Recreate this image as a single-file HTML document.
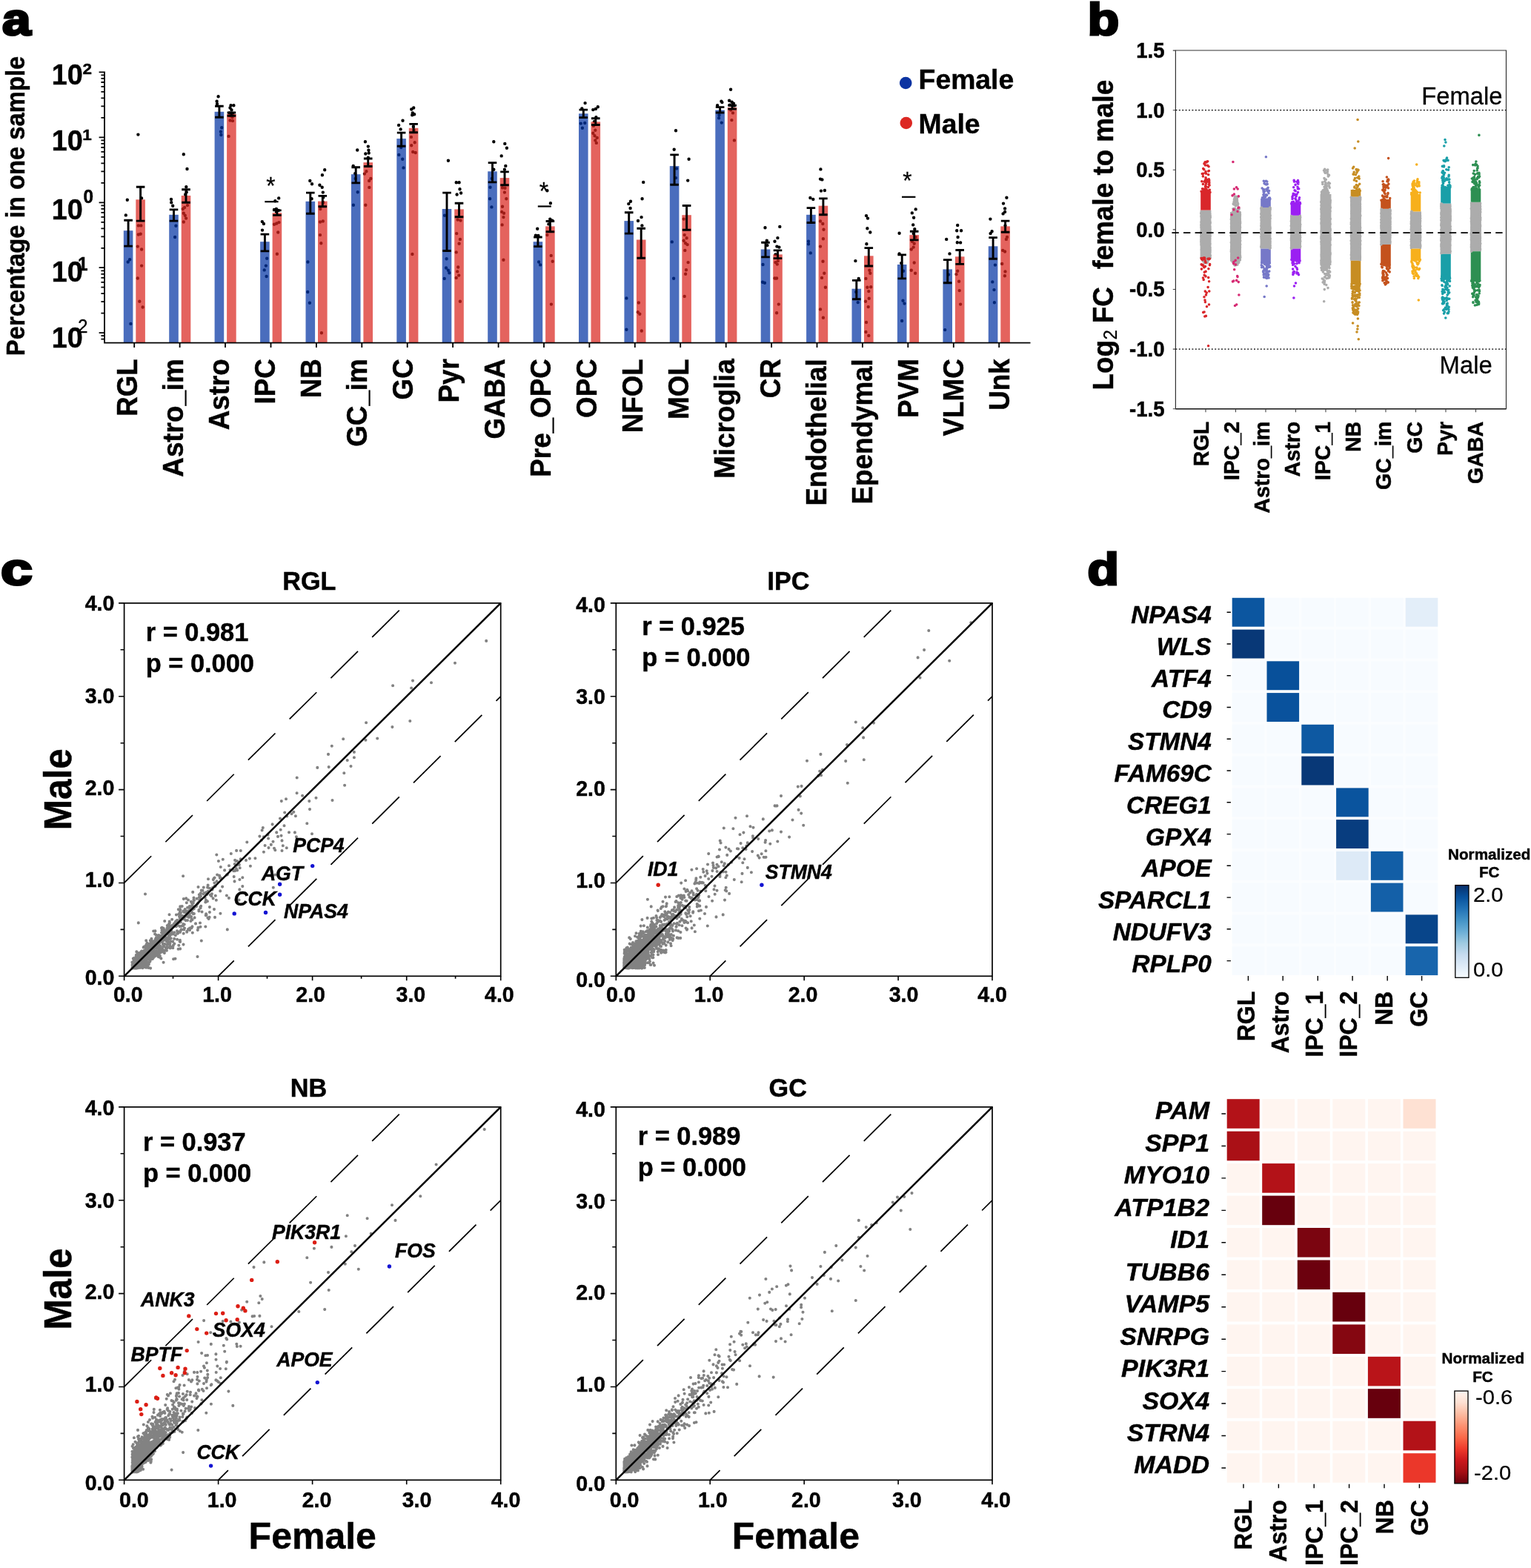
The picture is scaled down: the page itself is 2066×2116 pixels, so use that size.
<!DOCTYPE html>
<html lang="en"><head><meta charset="utf-8"><title>Figure</title>
<style>
html,body{margin:0;padding:0;background:#fff}
body{width:2066px;height:2116px;overflow:hidden}
svg{display:block}
svg text{font-family:"Liberation Sans",Arial,Helvetica,sans-serif;font-weight:bold;fill:#000;stroke:#000;stroke-width:.45px}
</style></head><body>
<svg width="2066" height="2116" viewBox="0 0 2066 2116">
<rect width="2066" height="2116" fill="#fff"/>
<g id="pa">
<path d="M171.8 269.7h0M169.8 290.4h0M175.1 350.2h0M172.7 353.5h0M176.4 436.9h0M186.4 181.6h0M191.1 267.4h0M186.8 304.4h0M190.3 304.4h0M186.8 316.5h0M189.7 315.7h0M185.8 332.6h0M191.1 336.5h0M191.1 358.6h0M185.8 375.5h0M188.3 406.7h0M192.6 414.5h0M231 268.9h0M231.2 273.2h0M233.2 277.7h0M237.4 304.8h0M236.1 320h0M247.8 208.3h0M252.5 228h0M251.3 252.2h0M251.7 259.2h0M250.1 262.5h0M253 277.1h0M249.1 280h0M246.8 282h0M247.8 287.8h0M249.7 290.7h0M251.1 294.6h0M247.8 299.5h0M294.6 130.3h0M292.6 136.8h0M293 140.3h0M299.2 172.2h0M297.9 177.7h0M298.3 182h0M311.5 142.2h0M315.4 142.2h0M310.5 145.5h0M312.5 148.5h0M309.6 152.4h0M314 153.3h0M310.5 156.3h0M313.5 158.2h0M310.5 162.5h0M314 163.1h0M308.6 183.9h0M353.8 299.1h0M355.9 302h0M354 310.6h0M360.2 348.8h0M358.9 358.6h0M356.7 364.4h0M359.6 373h0M376.2 267.4h0M371.3 271.3h0M370 282.9h0M372.9 282h0M375.8 283.9h0M372.9 285.9h0M370 302.8h0M373.3 301.5h0M376.4 300.1h0M375.2 313.5h0M373.9 342.8h0M418.3 244h0M421 248.3h0M420.6 268.3h0M415.4 353.5h0M415.2 394h0M417.9 408.7h0M438.2 229.3h0M434.9 236.2h0M431.4 249.8h0M434.7 252.7h0M435.8 259.6h0M436.2 266.4h0M432.3 282h0M436.2 273.2h0M432 299.5h0M435.8 298.5h0M432 317.1h0M433.3 328.2h0M433.9 449.2h0M482.2 202.5h0M476.7 223.9h0M479.2 234.2h0M479.6 241h0M482.7 259.2h0M476.9 276.7h0M492.9 191.3h0M496.8 197.6h0M497.4 202.6h0M493.3 207.5h0M497.7 206.5h0M496.8 212.8h0M494.4 231.3h0M491.9 234.6h0M500.3 241h0M498.1 244h0M498.3 252.9h0M493.3 276.7h0M543.5 162.7h0M538.1 168.9h0M540.6 174.4h0M541.2 199.1h0M538.3 208.9h0M543.2 214.7h0M544.5 226.4h0M558.2 145.5h0M555.2 147.5h0M556.8 152.4h0M559.1 154.3h0M556.2 155.3h0M557.8 170.9h0M558.6 175.8h0M554.9 184.9h0M559.7 192.3h0M555.2 196.2h0M557.2 205h0M560.7 206h0M556.4 343h0M604.9 216.7h0M600.1 290.7h0M602.6 349.2h0M602 361.5h0M604.9 364.8h0M606.3 368.3h0M599.7 375.9h0M615.7 246.3h0M619.6 246.3h0M620.5 255.3h0M616.6 262.5h0M622.1 260.5h0M617.6 296.6h0M621.5 297.6h0M616.2 315.1h0M620.9 322.9h0M619.6 328.7h0M615.7 340.4h0M618.2 360.5h0M617.2 366.4h0M619.2 371.6h0M615.7 374.9h0M620.9 406.7h0M666.3 191.3h0M666.3 228.8h0M663.8 241h0M661.5 252.7h0M661.1 268.3h0M663.4 279.4h0M681.3 193.9h0M683.9 199.7h0M676.7 210.4h0M682.3 223.9h0M680.9 228.8h0M678 253.3h0M681.5 253.7h0M680.9 259.6h0M683.3 268.3h0M678 278.7h0M677.1 285.9h0M680 287.8h0M679.4 293.1h0M677.6 303.4h0M679.4 350.8h0M725.2 308.7h0M722.9 317.6h0M726.4 318h0M727.1 353.5h0M729.1 357.4h0M742.9 274.2h0M738.4 257.2h0M742.3 295.6h0M745.3 297.6h0M740.4 302.4h0M738.4 317.1h0M743.7 344.9h0M745.7 352.7h0M743.9 410.6h0M789.6 139.1h0M785.3 146.5h0M783.8 166.6h0M789.2 166h0M785.9 172.8h0M806.8 144.2h0M803.9 146.9h0M800.3 148.1h0M804.4 158.2h0M801.9 164.1h0M800.9 169.9h0M803.3 175.8h0M800.3 179.7h0M802.5 183.2h0M805.8 185.9h0M803.3 189.4h0M804.8 192.9h0M851 271.8h0M848.3 275.1h0M850.6 281h0M845.4 402.4h0M845.4 444.7h0M868.2 245.9h0M866.6 268.3h0M865.6 293.1h0M861 298h0M866.4 304.4h0M861.9 408.5h0M860.8 421.3h0M863.3 423.7h0M865.8 446.5h0M912 176.3h0M909.7 201.7h0M913 227.4h0M912 240.1h0M906.8 326.4h0M909.1 375.7h0M929.6 214.7h0M928.2 243.6h0M922.7 295.6h0M923.7 317.1h0M926.6 321.3h0M922.7 324.8h0M925.1 328.2h0M927.6 330.1h0M924.3 337.9h0M928.6 354.1h0M926 364.2h0M925.1 369.7h0M923.7 399.9h0M973.4 136.8h0M968.1 142.2h0M974.4 138.1h0M970.5 155.3h0M970.1 159.2h0M973.8 165.6h0M986.1 120.8h0M984.1 135.8h0M987.6 137.7h0M990 139.7h0M984.7 141.6h0M988 142.2h0M990.9 142.6h0M986.1 148.5h0M989 152.4h0M987.4 162.1h0M990.9 189.4h0M1032.5 307.3h0M1034.8 324.8h0M1035.4 331.1h0M1029.5 357h0M1029 380.8h0M1031.9 381.8h0M1052.3 305.9h0M1049.4 321.1h0M1045.5 325.8h0M1048.4 332.6h0M1051.4 333.6h0M1046.5 343.4h0M1049.8 352.1h0M1046.5 354.1h0M1048.8 356.6h0M1045.5 375.5h0M1048.1 375.5h0M1050.8 410.6h0M1048.1 422.3h0M1093.4 267h0M1097.3 268.9h0M1091 325.8h0M1091 329.3h0M1093.8 341.4h0M1107.4 228.4h0M1107 241.6h0M1109.4 242.4h0M1108 257.6h0M1112.9 257h0M1107 298.5h0M1110.3 302h0M1111.5 309.8h0M1110.9 322.3h0M1107 332.6h0M1110.5 352.7h0M1112.3 368.7h0M1109 374.9h0M1113.9 387.8h0M1107 417.4h0M1110.9 428.7h0M1154.4 352.1h0M1158.7 375.9h0M1155.2 394h0M1157.7 408.1h0M1169 291.1h0M1171 294.6h0M1170.4 308.3h0M1174.3 313.5h0M1169.4 329.3h0M1173.3 364.8h0M1174.3 368.7h0M1168.4 375.9h0M1170.4 387.8h0M1175.2 387.2h0M1172.3 393.1h0M1172.7 402.8h0M1168 406.7h0M1171.7 414.1h0M1169 435h0M1168.4 448h0M1172.3 452.9h0M1213.6 314.7h0M1213.6 342.4h0M1216.2 355.1h0M1219.1 365.8h0M1218.5 405.7h0M1220.5 409.6h0M1217.1 433h0M1235.7 282.4h0M1230.8 287.4h0M1233.1 293.7h0M1232.2 303.4h0M1234.3 309.3h0M1232.7 315.1h0M1235.7 320h0M1230.8 325.8h0M1233.7 328.7h0M1229.8 336.5h0M1232.7 333.6h0M1233.7 354.5h0M1229.8 364.8h0M1235.1 368.7h0M1277.2 322.9h0M1281.5 342.4h0M1280.1 370.6h0M1275.2 445.1h0M1292.2 304h0M1291.2 311.2h0M1297.1 311.2h0M1292.6 320h0M1291.8 327.2h0M1296.1 327.4h0M1292.2 365.8h0M1290.6 370.1h0M1294.1 379.8h0M1294.7 392.1h0M1296.1 410.6h0M1336.4 295.6h0M1338.6 312.2h0M1336.6 315.1h0M1342.9 357.6h0M1339.3 380.4h0M1341.5 391.1h0M1341.9 408.3h0M1358.4 266.8h0M1354 274.6h0M1356.1 281.4h0M1356.1 285.9h0M1353.6 288.4h0M1356.5 304.4h0M1359 320h0M1357.9 322.9h0M1353.2 337.9h0M1356.1 339.5h0M1352.2 356h0M1356.5 366.4h0M1355.9 372.2h0" stroke="#000" stroke-width="4.4" stroke-linecap="round" fill="none" />
<g opacity="0.72"><rect x="166.8" y="311.2" width="12.6" height="151.5" fill="rgb(5,54,165)"/><rect x="183.3" y="269.3" width="12.6" height="193.4" fill="rgb(219,40,33)"/><rect x="228.2" y="289.8" width="12.6" height="172.9" fill="rgb(5,54,165)"/><rect x="244.7" y="264" width="12.6" height="198.7" fill="rgb(219,40,33)"/><rect x="289.6" y="150.8" width="12.6" height="311.9" fill="rgb(5,54,165)"/><rect x="306.1" y="153.9" width="12.6" height="308.8" fill="rgb(219,40,33)"/><rect x="351.1" y="326.2" width="12.6" height="136.5" fill="rgb(5,54,165)"/><rect x="367.6" y="287.2" width="12.6" height="175.5" fill="rgb(219,40,33)"/><rect x="412.5" y="271.8" width="12.6" height="190.9" fill="rgb(5,54,165)"/><rect x="429" y="271.6" width="12.6" height="191.1" fill="rgb(219,40,33)"/><rect x="473.9" y="235.2" width="12.6" height="227.5" fill="rgb(5,54,165)"/><rect x="490.4" y="219.2" width="12.6" height="243.5" fill="rgb(219,40,33)"/><rect x="535.3" y="187.1" width="12.6" height="275.6" fill="rgb(5,54,165)"/><rect x="551.8" y="172.8" width="12.6" height="289.9" fill="rgb(219,40,33)"/><rect x="596.7" y="282" width="12.6" height="180.7" fill="rgb(5,54,165)"/><rect x="613.2" y="282.4" width="12.6" height="180.3" fill="rgb(219,40,33)"/><rect x="658.2" y="231.3" width="12.6" height="231.4" fill="rgb(5,54,165)"/><rect x="674.7" y="240.1" width="12.6" height="222.6" fill="rgb(219,40,33)"/><rect x="719.6" y="326.2" width="12.6" height="136.5" fill="rgb(5,54,165)"/><rect x="736.1" y="305.4" width="12.6" height="157.3" fill="rgb(219,40,33)"/><rect x="781" y="153.3" width="12.6" height="309.4" fill="rgb(5,54,165)"/><rect x="797.5" y="164.4" width="12.6" height="298.3" fill="rgb(219,40,33)"/><rect x="842.4" y="298.1" width="12.6" height="164.6" fill="rgb(5,54,165)"/><rect x="858.9" y="323.5" width="12.6" height="139.2" fill="rgb(219,40,33)"/><rect x="903.8" y="224.1" width="12.6" height="238.6" fill="rgb(5,54,165)"/><rect x="920.3" y="290.2" width="12.6" height="172.5" fill="rgb(219,40,33)"/><rect x="965.3" y="148.5" width="12.6" height="314.2" fill="rgb(5,54,165)"/><rect x="981.8" y="145" width="12.6" height="317.7" fill="rgb(219,40,33)"/><rect x="1026.7" y="336.5" width="12.6" height="126.2" fill="rgb(5,54,165)"/><rect x="1043.2" y="343.4" width="12.6" height="119.3" fill="rgb(219,40,33)"/><rect x="1088.1" y="289.8" width="12.6" height="172.9" fill="rgb(5,54,165)"/><rect x="1104.6" y="277.7" width="12.6" height="185" fill="rgb(219,40,33)"/><rect x="1149.5" y="389.7" width="12.6" height="73" fill="rgb(5,54,165)"/><rect x="1166" y="345.3" width="12.6" height="117.4" fill="rgb(219,40,33)"/><rect x="1210.9" y="357" width="12.6" height="105.7" fill="rgb(5,54,165)"/><rect x="1227.4" y="317.1" width="12.6" height="145.6" fill="rgb(219,40,33)"/><rect x="1272.4" y="363.4" width="12.6" height="99.3" fill="rgb(5,54,165)"/><rect x="1288.9" y="346.3" width="12.6" height="116.4" fill="rgb(219,40,33)"/><rect x="1333.8" y="332.3" width="12.6" height="130.4" fill="rgb(5,54,165)"/><rect x="1350.3" y="305.4" width="12.6" height="157.3" fill="rgb(219,40,33)"/></g>
<path d="M173.1 297.2V332.1M167.3 297.2h11.6M167.3 332.1h11.6M189.6 252.2V298.1M183.8 252.2h11.6M183.8 298.1h11.6M234.5 282.9V298.1M228.7 282.9h11.6M228.7 298.1h11.6M251 255.7V273.2M245.2 255.7h11.6M245.2 273.2h11.6M295.9 143.2V158.2M290.1 143.2h11.6M290.1 158.2h11.6M312.4 152V156.3M306.6 152h11.6M306.6 156.3h11.6M357.4 316.1V338.9M351.6 316.1h11.6M351.6 338.9h11.6M373.9 283.9V290.4M368.1 283.9h11.6M368.1 290.4h11.6M418.8 260.1V288.2M413 260.1h11.6M413 288.2h11.6M435.3 264.4V278.7M429.5 264.4h11.6M429.5 278.7h11.6M480.2 225.8V246.9M474.4 225.8h11.6M474.4 246.9h11.6M496.7 214V224.5M490.9 214h11.6M490.9 224.5h11.6M541.6 179.1V197.2M535.8 179.1h11.6M535.8 197.2h11.6M558.1 167.4V178.7M552.3 167.4h11.6M552.3 178.7h11.6M603 260.1V338.5M597.2 260.1h11.6M597.2 338.5h11.6M619.5 274.2V292.7M613.7 274.2h11.6M613.7 292.7h11.6M664.5 219.6V245.9M658.7 219.6h11.6M658.7 245.9h11.6M681 231.9V249.8M675.2 231.9h11.6M675.2 249.8h11.6M725.9 320V332.6M720.1 320h11.6M720.1 332.6h11.6M742.4 298.5V312.8M736.6 298.5h11.6M736.6 312.8h11.6M787.3 148.1V158.6M781.5 148.1h11.6M781.5 158.6h11.6M803.8 159.8V168.5M798 159.8h11.6M798 168.5h11.6M848.7 286.8V315.1M842.9 286.8h11.6M842.9 315.1h11.6M865.2 308.3V348.2M859.4 308.3h11.6M859.4 348.2h11.6M910.1 208.9V249.2M904.3 208.9h11.6M904.3 249.2h11.6M926.6 277.5V310.2M920.8 277.5h11.6M920.8 310.2h11.6M971.6 144.6V152M965.8 144.6h11.6M965.8 152h11.6M988.1 142.2V147.1M982.3 142.2h11.6M982.3 147.1h11.6M1033 327.2V346.9M1027.2 327.2h11.6M1027.2 346.9h11.6M1049.5 337.9V348.6M1043.7 337.9h11.6M1043.7 348.6h11.6M1094.4 280.6V300.5M1088.6 280.6h11.6M1088.6 300.5h11.6M1110.9 267.9V289.8M1105.1 267.9h11.6M1105.1 289.8h11.6M1155.8 378.4V403.8M1150 378.4h11.6M1150 403.8h11.6M1172.3 334.6V359M1166.5 334.6h11.6M1166.5 359h11.6M1217.2 343.9V375.9M1211.4 343.9h11.6M1211.4 375.9h11.6M1233.7 312.2V323.9M1227.9 312.2h11.6M1227.9 323.9h11.6M1278.7 350.6V381.8M1272.9 350.6h11.6M1272.9 381.8h11.6M1295.2 337.5V356.4M1289.4 337.5h11.6M1289.4 356.4h11.6M1340.1 320.6V349.2M1334.3 320.6h11.6M1334.3 349.2h11.6M1356.6 298.1V313.2M1350.8 298.1h11.6M1350.8 313.2h11.6" stroke="#000" stroke-width="2.9" fill="none"/>
<path d="M141 96.4V462.7H1390.5M141 97.4h-7.4M141 158.9h-4.6M141 143.4h-4.6M141 132.4h-4.6M141 123.9h-4.6M141 116.9h-4.6M141 111h-4.6M141 105.9h-4.6M141 101.4h-4.6M141 185.4h-7.4M141 246.8h-4.6M141 231.3h-4.6M141 220.3h-4.6M141 211.8h-4.6M141 204.9h-4.6M141 199h-4.6M141 193.9h-4.6M141 189.4h-4.6M141 273.3h-7.4M141 334.8h-4.6M141 319.3h-4.6M141 308.3h-4.6M141 299.8h-4.6M141 292.8h-4.6M141 286.9h-4.6M141 281.8h-4.6M141 277.3h-4.6M141 361.2h-7.4M141 422.7h-4.6M141 407.2h-4.6M141 396.2h-4.6M141 387.7h-4.6M141 380.8h-4.6M141 374.9h-4.6M141 369.8h-4.6M141 365.3h-4.6M141 449.2h-7.4M141 457.7h-4.6M141 453.2h-4.6M181.2 462.7v6.2M242.6 462.7v6.2M304 462.7v6.2M365.5 462.7v6.2M426.9 462.7v6.2M488.3 462.7v6.2M549.7 462.7v6.2M611.1 462.7v6.2M672.6 462.7v6.2M734 462.7v6.2M795.4 462.7v6.2M856.8 462.7v6.2M918.2 462.7v6.2M979.7 462.7v6.2M1041.1 462.7v6.2M1102.5 462.7v6.2M1163.9 462.7v6.2M1225.3 462.7v6.2M1286.8 462.7v6.2M1348.2 462.7v6.2" stroke="#000" stroke-width="1.8" fill="none"/>
<text transform="translate(185.3,484.2) rotate(-90) scale(1,1.04)" font-size="36.8" text-anchor="end">RGL</text>
<text transform="translate(247.2,484.2) rotate(-90) scale(1,1.04)" font-size="36.8" text-anchor="end">Astro_im</text>
<text transform="translate(309.2,484.2) rotate(-90) scale(1,1.04)" font-size="36.8" text-anchor="end">Astro</text>
<text transform="translate(371.2,484.2) rotate(-90) scale(1,1.04)" font-size="36.8" text-anchor="end">IPC</text>
<text transform="translate(433.1,484.2) rotate(-90) scale(1,1.04)" font-size="36.8" text-anchor="end">NB</text>
<text transform="translate(495.1,484.2) rotate(-90) scale(1,1.04)" font-size="36.8" text-anchor="end">GC_im</text>
<text transform="translate(557,484.2) rotate(-90) scale(1,1.04)" font-size="36.8" text-anchor="end">GC</text>
<text transform="translate(619,484.2) rotate(-90) scale(1,1.04)" font-size="36.8" text-anchor="end">Pyr</text>
<text transform="translate(680.9,484.2) rotate(-90) scale(1,1.04)" font-size="36.8" text-anchor="end">GABA</text>
<text transform="translate(742.9,484.2) rotate(-90) scale(1,1.04)" font-size="36.8" text-anchor="end">Pre_OPC</text>
<text transform="translate(804.8,484.2) rotate(-90) scale(1,1.04)" font-size="36.8" text-anchor="end">OPC</text>
<text transform="translate(866.8,484.2) rotate(-90) scale(1,1.04)" font-size="36.8" text-anchor="end">NFOL</text>
<text transform="translate(928.7,484.2) rotate(-90) scale(1,1.04)" font-size="36.8" text-anchor="end">MOL</text>
<text transform="translate(990.7,484.2) rotate(-90) scale(1,1.04)" font-size="36.8" text-anchor="end">Microglia</text>
<text transform="translate(1052.6,484.2) rotate(-90) scale(1,1.04)" font-size="36.8" text-anchor="end">CR</text>
<text transform="translate(1114.5,484.2) rotate(-90) scale(1,1.04)" font-size="36.8" text-anchor="end">Endothelial</text>
<text transform="translate(1176.5,484.2) rotate(-90) scale(1,1.04)" font-size="36.8" text-anchor="end">Ependymal</text>
<text transform="translate(1238.5,484.2) rotate(-90) scale(1,1.04)" font-size="36.8" text-anchor="end">PVM</text>
<text transform="translate(1300.4,484.2) rotate(-90) scale(1,1.04)" font-size="36.8" text-anchor="end">VLMC</text>
<text transform="translate(1362.3,484.2) rotate(-90) scale(1,1.04)" font-size="36.8" text-anchor="end">Unk</text>
<text transform="translate(69.8,113.7) scale(1,1.05)" font-size="37.8">10</text>
<text transform="translate(111.4,100) scale(1,0.9)" font-size="22.5">2</text>
<text transform="translate(69.8,202.6) scale(1,1.05)" font-size="37.8">10</text>
<text transform="translate(111.3,189) scale(1,0.9)" font-size="22.5">1</text>
<text transform="translate(69.8,296.4) scale(1,1.05)" font-size="37.8">10</text>
<text transform="translate(112.6,274.3) scale(1,1.04)" font-size="24.3">0</text>
<text transform="translate(69.8,379.7) scale(1,1.05)" font-size="37.8">10</text>
<text transform="translate(104.9,364.8) scale(1,1.04)" font-size="24.3">1</text>
<text transform="translate(69.8,468.9) scale(1,1.05)" font-size="37.8">10</text>
<text transform="translate(104.9,449.2) scale(1,1.04)" font-size="24.3" style="font-weight:500;stroke-width:.25px">2</text>
<text transform="translate(32.8,480.2) rotate(-90) scale(1,1.07)" font-size="32.8">Percentage in one sample</text>
<circle cx="1222.2" cy="112" r="8.3" fill="#0b33a2"/>
<circle cx="1222.8" cy="166" r="8.3" fill="#dc2823"/>
<text transform="translate(1239.6,120.3)" font-size="37.3">Female</text>
<text transform="translate(1239.6,179.7)" font-size="37.3">Male</text>
<text transform="translate(365.5,261.5) scale(1,1.04)" font-size="31.5" style="font-weight:normal;stroke-width:.25px" text-anchor="middle">*</text>
<line x1="357.3" y1="272.2" x2="375.6" y2="272.2" stroke-width="2.2" stroke="#000" />
<text transform="translate(734,268.5) scale(1,1.04)" font-size="31.5" style="font-weight:normal;stroke-width:.25px" text-anchor="middle">*</text>
<line x1="725.8" y1="278.5" x2="743.8" y2="278.5" stroke-width="2.2" stroke="#000" />
<text transform="translate(1224.5,255) scale(1,1.04)" font-size="31.5" style="font-weight:normal;stroke-width:.25px" text-anchor="middle">*</text>
<line x1="1217" y1="265.8" x2="1235.4" y2="265.8" stroke-width="2.2" stroke="#000" />
<text transform="translate(2.9,47.1) scale(1.12,1)" font-size="62" style="stroke-width:3.2px" stroke-linejoin="miter" stroke-miterlimit="3">a</text>
</g>
<g id="pb">
<rect x="1619.6" y="283.6" width="14.8" height="65.4" fill="#acacac"/>
<rect x="1620.2" y="258" width="13.6" height="25.6" fill="#d9262a"/>
<path d="M1621.2 304.8h0M1621.3 286.8h0M1621.6 287.4h0M1621.4 312h0M1620.9 319.6h0M1621 291.7h0M1621.1 321.7h0M1621.6 309.5h0M1632.8 339.7h0M1632.9 319h0M1621.1 328.2h0M1632.5 325.4h0M1621 330.2h0M1633.1 316.1h0M1632.7 314.1h0M1621 299.8h0M1632.9 299.6h0M1632.7 340.8h0M1621.1 347.7h0M1632.5 294.4h0M1620.7 315.6h0M1632.7 288.7h0M1632.9 306.5h0M1620.7 313.4h0M1621.5 314.6h0M1632.7 329.5h0M1632.4 308.8h0M1621.1 313.8h0M1620.9 315.9h0M1621.2 292.1h0M1632.5 343.6h0M1633.2 313h0M1633 337.2h0M1633.3 348.1h0M1621.5 293.5h0M1621.2 326.7h0M1632.7 322.1h0M1632.9 293.1h0M1621 304.4h0M1621.2 317.3h0M1632.8 340.6h0M1633 309.4h0M1620.7 287.7h0M1621.3 312.4h0M1621.1 287h0M1633 318.7h0M1621 288.2h0M1633.3 293.3h0M1632.5 323h0M1632.8 339.1h0M1621.5 304h0M1632.8 306h0M1621.4 328.9h0M1632.5 345.9h0M1620.9 319.1h0M1621 303.1h0M1633.2 300.7h0M1621.1 306.9h0M1633 334.6h0M1620.9 323.7h0M1621.4 337.1h0M1620.7 315.8h0M1632.6 335.3h0M1632.8 328.9h0M1633.3 344.9h0M1621.5 307.4h0M1632.6 314.3h0M1621.2 324.4h0M1620.8 326.3h0M1633.1 291.4h0M1624.6 350.8h0M1627.2 352.5h0M1627.9 353.5h0M1629.2 353.3h0M1625.5 351.3h0M1625.7 354.9h0M1627.8 353.3h0M1630.8 349.3h0M1627.6 354.4h0M1628.8 353.4h0M1627.2 349.8h0M1629.5 352h0M1628.7 353.8h0M1629.7 352.5h0M1628.2 353.1h0M1622.4 350.4h0M1625.5 349.8h0M1630.6 349.6h0M1627.9 352.4h0M1628.2 352.8h0M1623.2 351.9h0M1628.3 353.8h0M1627.3 352h0M1624.3 353h0M1625.6 353.4h0M1624.4 349.4h0M1625.3 353.4h0M1629.7 353.4h0M1626.1 352h0M1628.4 351.9h0M1627.6 353.6h0M1624.3 352.9h0M1624.4 349.9h0M1625.9 353.5h0M1623.6 352.4h0M1624.4 349.4h0M1628.2 353h0M1625.7 353.1h0M1626.7 352.1h0M1624 351.8h0M1625.7 354.4h0M1628.6 354.9h0M1626.5 349.1h0M1629.3 353.9h0M1625.2 351.7h0M1631.4 350.3h0M1627.8 350.3h0M1627.3 349.9h0M1625.6 354.7h0M1627 353.9h0M1627.9 354.3h0M1630.9 350.4h0M1623.4 351.9h0M1626.9 349h0M1625.4 351.7h0M1625.4 349.8h0M1630.1 350.9h0M1629.9 349h0M1625.2 354h0M1627.9 354.6h0" stroke="#acacac" stroke-width="3.6" stroke-linecap="round" fill="none" />
<path d="M1626.8 232.9h0M1630.5 257.3h0M1630.5 252.6h0M1626.1 218.9h0M1632.1 250h0M1623.8 234.3h0M1622.7 258.4h0M1629.7 223.4h0M1631 258h0M1628.3 218.3h0M1627.6 252h0M1621.1 258.3h0M1628.2 219h0M1631.7 244.6h0M1631.2 248.7h0M1624.3 228.3h0M1624.5 255.3h0M1628 255.6h0M1626 255h0M1632 258.3h0M1626.5 251.8h0M1631.3 241.8h0M1631.7 249.2h0M1627.3 245.7h0M1621.8 244.7h0M1623.4 248.4h0M1630.7 260h0M1626.7 257.4h0M1627.6 234.3h0M1627.2 252.8h0M1630 243.2h0M1627.7 258.8h0M1624.3 255.4h0M1627.1 231.6h0M1629.8 242.9h0M1626.5 222.9h0M1627.1 240.4h0M1629.1 245.3h0M1627.4 247.9h0M1631.9 246.8h0M1630.7 235.7h0M1625 220.9h0M1631.7 243h0M1623.7 227.5h0M1626.3 258.5h0M1623.8 259.4h0M1629.1 259.3h0M1630.8 230.9h0M1629.6 257.8h0M1623.4 237.9h0M1631.1 224.8h0M1632.4 256.2h0M1626.9 250.1h0M1629.7 217.7h0M1626.2 257.7h0M1625.2 245.1h0M1624.8 256.8h0M1622.3 234.5h0M1626.4 243.3h0M1624.9 259.9h0M1627.1 239.8h0M1633 259.5h0M1631.4 230.6h0M1624.1 258.8h0M1630.5 259.8h0M1622.6 254.7h0M1631.7 249.2h0M1624.8 228.8h0M1632.1 257.9h0M1629.1 242.5h0M1621.6 349.7h0M1626.3 393.1h0M1632.4 349.2h0M1630.1 387.6h0M1631.4 349.6h0M1631.5 349.1h0M1625.2 371.2h0M1631.6 379.8h0M1622.6 358h0M1624.2 377.4h0M1622.8 350.4h0M1623.3 348.7h0M1624.7 360.7h0M1625 400.8h0M1623.5 375.1h0M1621.4 363.1h0M1621.2 356.9h0M1627.5 397.9h0M1626.7 353.7h0M1623.7 421.6h0M1626.4 407.6h0M1630.7 374.6h0M1627.1 366.4h0M1631.8 393h0M1630.9 362.8h0M1628.3 395.1h0M1625.3 367.3h0M1622.4 348.8h0M1630 349.2h0M1623 357.2h0M1631.2 349.6h0M1628.5 413.7h0M1624 358.8h0M1626.5 359.5h0M1626.3 352.3h0M1632.5 357.7h0M1627.4 426.4h0M1632.6 356.6h0M1625.3 360.6h0M1625.5 348h0M1627 372.9h0M1627.1 354.3h0M1624.1 348h0M1625.8 349.7h0M1621.1 348.5h0M1630.6 466.7h0M1625.1 421h0M1625.8 427h0M1626 405h0M1631.5 411h0" stroke="#d9262a" stroke-width="3.6" stroke-linecap="round" fill="none" />
<rect x="1660.1" y="286" width="14.8" height="66" fill="#acacac"/>
<path d="M1673.7 324.9h0M1661.8 335.9h0M1673.5 289.4h0M1673.3 295.8h0M1673.6 306.8h0M1661.4 314.2h0M1661.5 327.6h0M1673.3 289.3h0M1673.3 335.7h0M1661.9 346.2h0M1673.2 313.4h0M1673.3 334.8h0M1673.4 301.8h0M1661.5 312h0M1673.4 291h0M1673.8 315.9h0M1661.6 315.7h0M1661.8 302.1h0M1661.8 292h0M1661.3 339.4h0M1673.2 335.5h0M1661.8 335.2h0M1661.7 308.3h0M1673 323.9h0M1662 319.2h0M1673.3 345.2h0M1673.7 315.4h0M1662 343.6h0M1673.8 314.1h0M1661.7 318.3h0M1673.8 347.2h0M1661.9 302.4h0M1661.3 296h0M1673 333.6h0M1661.4 337.3h0M1661.5 301.4h0M1661.5 306h0M1673.5 320.9h0M1661.8 293.4h0M1661.8 348.3h0M1662.1 300.8h0M1673.2 305.9h0M1661.7 306.9h0M1662.1 301.5h0M1672.9 313.2h0M1673 298.8h0M1673.7 301h0M1661.5 301h0M1673.5 333.4h0M1673.6 299.1h0M1661.7 319.3h0M1661.9 299.2h0M1673 300.6h0M1661.3 327.2h0M1661.2 318h0M1672.9 295.7h0M1661.7 287.6h0M1661.7 332.9h0M1673.6 345.3h0M1661.8 351.8h0M1672.9 298.2h0M1673.7 329.9h0M1673.1 351h0M1673 286.2h0M1661.6 313.7h0M1673.2 336.1h0M1673 340.2h0M1661.8 332.5h0M1661.8 346.7h0M1672.9 334.7h0M1666.3 353.9h0M1665.3 356.7h0M1670 353.2h0M1663.3 353.5h0M1668.1 352.2h0M1671.8 354h0M1669.7 357.3h0M1663.6 353.6h0M1667.5 352.6h0M1667.2 356.3h0M1666.7 353.4h0M1668.6 355.7h0M1669.4 356.5h0M1665.1 356h0M1666.5 357h0M1666.6 355.4h0M1665.8 356.4h0M1665.1 353.5h0M1671.5 352.9h0M1666.3 355.5h0M1671.6 354.4h0M1665.5 355h0M1668.3 356.9h0M1666.1 357.9h0M1670 354.8h0M1669.5 357h0M1665.2 352.2h0M1664.2 352.7h0M1667.8 357.8h0M1667 357.6h0M1667.3 357.2h0M1670.1 353.6h0M1666 357.7h0M1668.3 355.6h0M1666.2 353.3h0M1664.4 352.8h0M1668.4 353.5h0M1665.6 355.9h0M1665.5 352.1h0M1665.6 356.1h0M1664.8 353.9h0M1667.7 356.8h0M1663.1 352.4h0M1667.9 354.4h0M1664.9 355.8h0M1669.5 353h0M1665.7 354.5h0M1671.6 353.8h0M1668.1 353.9h0M1666.8 354.1h0M1669.8 357.2h0M1664.9 354.2h0M1665.8 356.4h0M1672.1 352h0M1670.1 354.5h0M1670.7 354.4h0M1664.8 354.8h0M1668.1 352.1h0M1670.1 355.8h0M1668.8 352.5h0M1667.5 277.8h0M1665.3 282.8h0M1670.4 274.5h0M1667.4 283.6h0M1669.4 268.3h0M1663.9 281.7h0M1668.9 265.3h0M1664.3 275.4h0M1667.2 265.6h0M1667.9 266.1h0M1666.2 267.9h0M1666.3 268.7h0M1670.2 277.1h0M1666.3 267.8h0M1666.5 281.2h0M1666.7 274.6h0M1664.9 283.3h0M1669.4 270.1h0M1668.2 285.1h0M1665.4 269.3h0M1666 267.6h0M1667.8 272.8h0M1666.4 272.2h0M1668.1 276.8h0M1668.7 276.6h0M1667 276.2h0M1668.9 285.5h0M1665.6 275.2h0M1668.8 269.2h0M1665.1 275.9h0M1664.7 275.6h0M1666.8 283.2h0M1666.9 284h0M1664.3 274.8h0M1665.1 272h0M1668.8 269.9h0M1664.4 274.7h0M1666.7 274.9h0M1666.5 265.1h0M1669.3 267.1h0M1669 269.9h0M1672.2 281.7h0M1670.7 275.2h0M1666.5 265.8h0M1669.3 268.7h0M1665.9 284.6h0M1665.9 269.4h0M1666.8 266.3h0M1666.1 268.1h0M1670.4 275h0M1665.2 281.4h0M1666.3 274.9h0M1663.9 285.2h0M1671.9 282.5h0M1669.6 271h0M1670.4 282.3h0M1667.8 283.5h0M1666.7 272h0M1667.7 266.8h0M1669.9 273.2h0" stroke="#acacac" stroke-width="3.6" stroke-linecap="round" fill="none" />
<path d="M1671 280.4h0M1663.1 263.9h0M1662.1 289.8h0M1665.4 255h0M1671.4 264.9h0M1664.9 282.9h0M1668.5 252.7h0M1670.1 285.3h0M1664.9 353.6h0M1670.7 348h0M1668.7 378.4h0M1663.5 379.9h0M1667.2 351.4h0M1671.3 380.6h0M1664.6 355.6h0M1667.4 357.1h0M1664.8 379.1h0M1669.7 372.6h0M1670 373.6h0M1665.7 363.8h0M1663.9 218.5h0M1671.9 398h0M1668.7 411h0M1666.5 412.5h0M1670.2 255h0M1665.4 262h0M1671.9 280h0" stroke="#d62a73" stroke-width="3.6" stroke-linecap="round" fill="none" />
<rect x="1700.6" y="280" width="14.8" height="55.6" fill="#acacac"/>
<rect x="1701.2" y="268" width="13.6" height="12" fill="#7678c8"/>
<rect x="1701.2" y="335.6" width="13.6" height="20.4" fill="#7678c8"/>
<path d="M1713.7 312.1h0M1702.4 284.5h0M1702.3 321.3h0M1714 308.7h0M1714.1 334.7h0M1702.5 321.5h0M1713.8 314.3h0M1702.5 300.2h0M1702.6 292.6h0M1713.7 280.1h0M1702.2 309.1h0M1702.4 296.7h0M1713.5 314.7h0M1702 280.8h0M1702 305.1h0M1713.8 328.4h0M1702.5 294.7h0M1713.9 325.6h0M1713.6 312.2h0M1702.5 330.2h0M1702.4 281.4h0M1702.6 283.2h0M1702.5 310.6h0M1714.1 291.1h0M1713.5 289.7h0M1714 314.8h0M1714.1 280.4h0M1713.6 305.9h0M1713.6 335.4h0M1714.2 282.2h0M1714 331.4h0M1714 294.8h0M1713.7 331h0M1702.5 331.6h0M1702.4 308.2h0M1701.7 293.1h0M1713.6 321.5h0M1702.3 301.6h0M1713.8 327.4h0M1701.8 309.5h0M1702.1 304.3h0M1702.2 297.1h0M1702.5 312.5h0M1702 281.5h0M1702 289h0M1702 281.7h0M1701.9 315.2h0M1713.6 283.7h0M1701.8 333.1h0M1713.5 322h0M1702.6 291.4h0M1701.9 332.8h0M1713.8 315.1h0M1702.3 287.4h0M1713.4 298.7h0M1713.4 294.3h0M1714.1 322.2h0M1714.2 313.5h0M1701.9 314.4h0M1702.3 281.7h0M1702 319.2h0M1713.6 326h0M1702.3 280.1h0M1702.6 321.7h0M1714 307.3h0M1713.9 325.9h0M1713.9 333.2h0M1701.8 288.8h0M1702.5 292.9h0M1702.2 315.4h0" stroke="#acacac" stroke-width="3.6" stroke-linecap="round" fill="none" />
<path d="M1708.5 244.4h0M1705.9 269.3h0M1713.3 269.4h0M1710.2 248.4h0M1709.6 263.5h0M1705.7 264.7h0M1708.5 263.3h0M1713.9 268.5h0M1712.6 257.6h0M1709.2 269h0M1709.1 255.7h0M1709 269.9h0M1712 260.8h0M1708.6 262.7h0M1707.6 265.7h0M1705.6 255.7h0M1706 267.5h0M1710 257.2h0M1705.5 261.2h0M1711.1 253.4h0M1710.3 258h0M1709.8 245h0M1706.4 258.4h0M1713.5 267.4h0M1713.4 267h0M1705.3 244.2h0M1704.9 256.7h0M1703.7 268.7h0M1705.6 266.2h0M1703.4 266.7h0M1706.1 247.6h0M1707.7 248.6h0M1712.4 270h0M1704.9 263.1h0M1706.3 244.8h0M1705 269.9h0M1703.2 254h0M1712.2 267.3h0M1708.9 255.3h0M1711.5 257h0M1709.5 256.4h0M1709.3 248.9h0M1705.1 259h0M1703.4 268.3h0M1705.3 263.2h0M1711.9 366.5h0M1706.8 356.3h0M1704.6 366.8h0M1707.8 370.9h0M1712.4 354h0M1709.8 361.7h0M1711.5 371.7h0M1702.3 357.7h0M1711.7 370.4h0M1704.9 354.6h0M1710.6 355.9h0M1705.5 374.3h0M1712 358.1h0M1704.7 360.3h0M1702.6 360.7h0M1706.8 369.2h0M1710.8 358h0M1713.5 360.3h0M1708.2 355.5h0M1710 373.7h0M1709.4 364.1h0M1706.6 356.4h0M1702.8 354.3h0M1709.1 373.1h0M1708.8 365.7h0M1705.6 354.6h0M1713.2 359.1h0M1712.1 375h0M1707.7 374.6h0M1713.2 355.2h0M1711.7 354.3h0M1709.7 355.6h0M1711.1 367h0M1710 355h0M1710.7 370.4h0M1713.6 359.4h0M1709.4 368.2h0M1707.7 368.8h0M1705.4 368.9h0M1709.9 366.6h0M1709.5 375.4h0M1711.4 360.8h0M1706.7 369.4h0M1706.2 365.2h0M1709.4 360.9h0M1712.9 354.4h0M1705.6 355.1h0M1703.2 358.8h0M1706.1 362.8h0M1708.3 374h0M1709 358h0M1705 365.2h0M1705.4 354.3h0M1708.8 363.9h0M1705.2 371.1h0M1711.2 360.2h0M1706.8 355.8h0M1709.2 362.1h0M1712.8 366.1h0M1712.9 354.5h0M1708.4 211.8h0M1709.2 386h0M1706.2 400.5h0" stroke="#7678c8" stroke-width="3.6" stroke-linecap="round" fill="none" />
<rect x="1741.1" y="290.8" width="14.8" height="44.8" fill="#acacac"/>
<rect x="1741.7" y="273" width="13.6" height="17.8" fill="#9b1ff2"/>
<rect x="1741.7" y="335.6" width="13.6" height="15.4" fill="#9b1ff2"/>
<path d="M1742.6 313h0M1754.5 324h0M1742.9 296h0M1742.7 301.3h0M1754.3 315.8h0M1754.1 297.3h0M1743 298.2h0M1754.5 305.2h0M1754.3 328.5h0M1742.9 335.6h0M1743.1 306.9h0M1754.6 292.9h0M1754.3 295h0M1742.9 331h0M1742.8 309.4h0M1754.2 329.4h0M1742.8 325.7h0M1754.4 306.1h0M1754.2 327.8h0M1754.4 312.9h0M1754.8 303h0M1742.8 320.1h0M1754 305h0M1742.4 334.4h0M1754.4 292.6h0M1754 293h0M1754.4 292.9h0M1754.5 320.3h0M1742.9 318.9h0M1754.5 320.7h0M1742.3 298.6h0M1742.3 309.7h0M1754.7 320.2h0M1754.4 297h0M1754.1 302.4h0M1742.7 292.3h0M1742.7 319.6h0M1742.4 314.2h0M1754.3 309.7h0M1754.4 291.4h0M1742.7 335.3h0M1743 309.3h0M1742.5 312h0M1742.5 309.9h0M1742.9 296.3h0M1753.9 296.2h0M1742.7 323h0M1742.8 324.1h0M1742.4 324.3h0M1754.3 294.6h0M1754.7 332.6h0M1743.1 293.2h0M1742.7 291.5h0M1742.2 304.8h0M1742.8 328.2h0M1754.3 333.3h0M1742.8 298.3h0M1754.3 319.7h0M1754.8 325.7h0M1754.2 326h0M1754.7 293.5h0M1742.4 323.3h0M1754.4 317.7h0M1742.8 334.5h0M1742.4 321.5h0M1742.8 303.5h0M1742.6 302.8h0M1742.8 327.4h0M1742.9 297.1h0M1754.2 328.9h0" stroke="#acacac" stroke-width="3.6" stroke-linecap="round" fill="none" />
<path d="M1749.2 274.4h0M1745.7 252.7h0M1752.7 254.8h0M1749.8 271.9h0M1748.2 257.8h0M1745.5 272.4h0M1751.3 254.8h0M1743.9 265.8h0M1751 252.3h0M1749.5 271.9h0M1751.9 248.1h0M1748.2 263.7h0M1745.2 261.3h0M1744.6 272.7h0M1747.1 256.9h0M1747.5 262.2h0M1744.7 263.9h0M1754.6 274.8h0M1744 268.4h0M1751.5 259.6h0M1749.7 273.4h0M1748.7 269.2h0M1742.7 274.9h0M1751.5 243.5h0M1749.2 264.9h0M1751.8 271.3h0M1753.5 266.8h0M1751.5 254.1h0M1746.5 244.8h0M1744.8 274.8h0M1743.5 272.9h0M1749.2 274.7h0M1748.1 249.4h0M1752 245.7h0M1749.7 274.6h0M1744.2 267.7h0M1746.5 245.1h0M1750 262.2h0M1749.9 245.2h0M1747.9 267.8h0M1754.2 273.3h0M1746.2 243.4h0M1745.5 274.8h0M1753.2 269h0M1751.4 247.7h0M1752 349.2h0M1750 361.7h0M1744.9 370.5h0M1751.6 350h0M1750 368.9h0M1749.6 352.2h0M1744.7 363.1h0M1745.7 352.6h0M1748.3 349.8h0M1745.3 350.3h0M1750.7 350h0M1751.2 349h0M1742.9 350.6h0M1746.1 368.5h0M1751.6 368.7h0M1745.3 367.2h0M1744 355.1h0M1751.4 368.5h0M1748 359.5h0M1752.3 352.9h0M1749.9 355.7h0M1745.1 350h0M1751.1 349.2h0M1744.7 357.5h0M1746.4 366.6h0M1744.6 354.3h0M1752.5 351.7h0M1744.6 352.8h0M1746.5 356h0M1745.1 367.7h0M1744.9 370.3h0M1750 367.4h0M1748.2 350.8h0M1745.6 352h0M1746.9 350.7h0M1752.5 370.7h0M1745.1 368.4h0M1753.2 352h0M1751.3 349.2h0M1754.1 352.1h0M1752.3 349h0M1744.3 352.9h0M1752.6 349h0M1745.1 356.9h0M1753.1 354.8h0M1749.4 350.9h0M1744.6 349.9h0M1750.5 363.5h0M1743.4 350.6h0M1749.8 349.4h0M1748.5 382h0M1746.5 386h0M1745.9 402h0" stroke="#9b1ff2" stroke-width="3.6" stroke-linecap="round" fill="none" />
<rect x="1781.6" y="262" width="14.8" height="96" fill="#acacac"/>
<path d="M1783.1 320.8h0M1783 281.4h0M1783.1 311.9h0M1795.2 295.4h0M1794.5 345h0M1794.5 301.3h0M1783.4 325.9h0M1794.4 341.8h0M1783.3 329.4h0M1783.5 351.5h0M1795.1 330.6h0M1783.3 345.3h0M1794.8 272.3h0M1783.6 264.5h0M1783 354.9h0M1794.6 278.1h0M1783.6 340.4h0M1783.4 350.9h0M1794.9 342.4h0M1783.3 329.5h0M1783.6 271h0M1794.9 273.8h0M1783.5 335.1h0M1783.1 300.9h0M1783.5 283.8h0M1794.5 317h0M1795 341.3h0M1783.2 319.3h0M1794.7 352.4h0M1795 285.1h0M1795.1 342.9h0M1783.3 343.4h0M1794.6 276.1h0M1783.3 302.5h0M1783.3 313h0M1783.4 281.3h0M1795.1 302.4h0M1782.9 351.9h0M1783.6 346.9h0M1795.2 323.6h0M1783 321.9h0M1783.2 286.1h0M1794.5 353.3h0M1783.5 295.4h0M1794.5 319.1h0M1783.2 318.7h0M1795.2 311.1h0M1794.6 317.4h0M1795.2 270.4h0M1783 320.6h0M1794.8 281.3h0M1794.8 314.6h0M1783.3 291.8h0M1795.3 280.1h0M1794.5 300.1h0M1794.9 353.4h0M1795.2 309.2h0M1782.9 282.7h0M1783.1 277.2h0M1783.1 295.4h0M1795.1 342.1h0M1782.7 272.5h0M1783.2 327.1h0M1783 326.2h0M1795.1 321.2h0M1794.6 311.7h0M1783.2 322.5h0M1795.1 271.9h0M1794.8 318.2h0M1783.2 357.3h0M1792.5 238h0M1787.7 245h0M1788.5 250.3h0M1787 240.5h0M1789.6 252.1h0M1787 252.3h0M1792.3 237.9h0M1788.4 248.8h0M1786.6 256.9h0M1789.9 257.6h0M1784.6 246h0M1787.5 231.9h0M1792.1 235.4h0M1786.5 230h0M1793.6 251.1h0M1783.4 259h0M1789 246.6h0M1791.4 231.9h0M1794.4 247.5h0M1789.2 248.2h0M1787.9 242.1h0M1790.1 253h0M1794.2 253.2h0M1789.3 242.4h0M1787.5 258.2h0M1789.7 251.8h0M1793 246.2h0M1788.9 229.7h0M1790.4 250.7h0M1787.7 228.2h0M1792.4 247.8h0M1786.8 257.2h0M1791.7 229.1h0M1784.8 248.4h0M1790.7 233.1h0M1793.5 236.4h0M1788.3 233.4h0M1786.4 257.4h0M1789.1 248.4h0M1785.2 256.9h0M1790.1 375.8h0M1794.7 366.9h0M1784.3 376h0M1792.3 368.5h0M1791.2 365.7h0M1786.6 361h0M1789.8 384.6h0M1785.9 377.3h0M1789.6 371.2h0M1790.7 364.7h0M1794.4 372.3h0M1788.1 373.8h0M1784.8 362.1h0M1785.2 381h0M1785 361.8h0M1792.5 372h0M1792.2 375.2h0M1783 361.4h0M1787.3 381.4h0M1787.6 379.1h0M1786.2 362.8h0M1794 361.8h0M1787.4 374h0M1787.7 369.6h0M1793.8 361.3h0M1793.9 374.1h0M1790.4 369.3h0M1783.6 364.4h0M1792 388.6h0M1793.7 365.9h0M1787.2 383.4h0M1793.8 374.8h0M1793.9 371.1h0M1787.7 364.2h0M1786.3 379.3h0M1793.4 365.7h0M1792.2 370.7h0M1785.1 364.2h0M1785.4 367h0M1787.3 390.6h0M1786.3 361.4h0M1788.2 361.2h0M1785.4 360.4h0M1792.5 358.7h0M1786.8 360.1h0M1786.8 359.1h0M1784.5 359.4h0M1788 362h0M1791.1 358.9h0M1786.5 358.6h0M1787.2 363h0M1791.7 360.7h0M1787.3 362.8h0M1790.9 360.1h0M1792.9 360.3h0M1793.5 359.2h0M1787 361h0M1786.1 360.7h0M1787.6 362.2h0M1789.4 363.4h0M1786.8 360.2h0M1787.1 361.6h0M1787.3 363.2h0M1789.3 361.1h0M1791.6 359.6h0M1790.3 360.3h0M1787.7 361.4h0M1785.5 360.3h0M1792.6 359.1h0M1790.5 359.9h0M1789.7 358.7h0M1789 360.2h0M1785 359.8h0M1786.5 359.9h0M1791.3 358.8h0M1788.1 359.7h0M1790.2 363.5h0M1790.6 363.3h0M1786.6 358.8h0M1791 358.2h0M1788.1 362h0M1790.3 360.5h0M1787.5 362.2h0M1788.3 363.1h0M1786.9 361.8h0M1793.4 358.7h0M1790.2 362.4h0M1783.8 358.2h0M1785.9 359h0M1787.9 359.8h0M1786.9 358.2h0M1786.9 361.8h0M1789.3 363h0M1787.6 362.3h0M1790.5 360.6h0M1784.6 360.1h0M1790.3 363h0M1784.8 359.7h0M1789.5 363.1h0M1786.1 358.3h0M1792.1 261.1h0M1793 260.3h0M1787.1 256h0M1788.5 256.4h0M1790.5 256h0M1785.3 259.8h0M1788.8 254.4h0M1789.6 254.6h0M1790.6 256.1h0M1788.7 257h0M1791.2 261.6h0M1789.1 258.6h0M1787.9 254.6h0M1786.9 255.9h0M1790.6 256.4h0M1789.4 259.9h0M1789.4 254.2h0M1787.4 257.6h0M1787.4 261.5h0M1786.7 258.7h0M1785.8 259.5h0M1789.9 256.3h0M1786.6 260.1h0M1788.6 257.9h0M1788.6 254.5h0M1792.4 259.6h0M1789.7 260.9h0M1791.7 259.3h0M1790.7 257.6h0M1790.7 260.6h0M1788.8 257.2h0M1790.5 255.9h0M1786.8 261.1h0M1786.6 259.1h0M1786.6 261.5h0M1791 260.4h0M1786.1 258.4h0M1788.7 259.4h0M1786.3 259.1h0M1783.7 261.4h0M1789.6 254.1h0M1791.3 261.3h0M1789.2 254.2h0M1788.9 261.1h0M1786.7 258.5h0M1785.8 257.7h0M1789.4 254.6h0M1791.5 257h0M1787.6 256.8h0M1785.6 260h0M1792.1 261.8h0M1788.2 255.3h0M1790.4 260.5h0M1790.6 255.2h0M1791.9 260.7h0M1789.9 255.4h0M1786.3 259.4h0M1788.3 255.4h0M1789.4 259.1h0M1791.7 259h0M1786.7 406.7h0" stroke="#acacac" stroke-width="3.6" stroke-linecap="round" fill="none" />
<rect x="1822.1" y="265.6" width="14.8" height="86.2" fill="#acacac"/>
<rect x="1822.7" y="256" width="13.6" height="9.6" fill="#c78d22"/>
<rect x="1822.7" y="351.8" width="13.6" height="32.2" fill="#c78d22"/>
<path d="M1835.7 269.2h0M1835.3 347.1h0M1835.4 328.6h0M1823.5 319.6h0M1835.5 279.7h0M1823.3 300.2h0M1823.4 306.9h0M1835 265.8h0M1823.6 271.8h0M1835 301.9h0M1823.3 266.4h0M1834.9 279.8h0M1835.4 334.9h0M1835.4 306h0M1823.2 302.5h0M1823.4 348.5h0M1835.4 270.8h0M1835.8 291.2h0M1823.8 307h0M1823.3 295.2h0M1835.5 284.8h0M1835.4 278.3h0M1835.4 346.9h0M1835.1 314.3h0M1823.6 285.2h0M1835.5 275.3h0M1835.5 281.8h0M1835.1 285.2h0M1823.4 315h0M1823.3 344h0M1835 324.2h0M1823.5 309h0M1823.7 348.4h0M1823.2 324.7h0M1835.6 282.1h0M1823.7 277.4h0M1824.1 269.7h0M1823.7 316.8h0M1823.7 276h0M1823.6 342.2h0M1835.1 344.7h0M1835.6 329.9h0M1823.4 329h0M1835.4 276.2h0M1835.5 310.8h0M1835 269.4h0M1824.1 312.9h0M1823.9 344.1h0M1834.9 282.2h0M1835 350.8h0M1824 267.4h0M1823.6 287.9h0M1835.7 290.6h0M1835.4 316.3h0M1835.8 325h0M1835.8 266.8h0M1835.7 307.6h0M1824 334.6h0M1835.7 319.1h0M1835.3 349h0M1823.8 340.9h0M1835.7 311.1h0M1823.9 316.4h0M1835.2 336.2h0M1835.2 306h0M1835.2 294.5h0M1835.7 267.4h0M1823.4 318.1h0M1835.1 278h0M1835.2 308.7h0" stroke="#acacac" stroke-width="3.6" stroke-linecap="round" fill="none" />
<path d="M1830.4 244.4h0M1831.9 256.6h0M1833 229.4h0M1825.8 257.2h0M1830.3 249.6h0M1833.1 257.2h0M1827 235.2h0M1826.1 235.1h0M1835.2 257.5h0M1827.9 252.1h0M1827.2 232.4h0M1831.4 231.5h0M1831.9 252.3h0M1833.4 240.5h0M1829.5 235.7h0M1832.2 230.4h0M1826.7 225.2h0M1834.2 255.4h0M1828.5 240.6h0M1832.6 250.5h0M1830.2 228.6h0M1832.2 256.5h0M1830.4 254.4h0M1834.2 241.1h0M1825.7 257.5h0M1830.2 228.9h0M1827.8 253.1h0M1834.7 248.2h0M1831.7 239.8h0M1832.4 229h0M1825.7 388.9h0M1829.9 418.2h0M1830.7 409.6h0M1823.8 386.3h0M1828.9 382.3h0M1827.6 417.9h0M1825.1 396.3h0M1824.2 386.4h0M1824 383.6h0M1833.4 382.7h0M1831.8 399.8h0M1826.7 382h0M1824.5 403.2h0M1824 389h0M1833.8 389h0M1829.3 382.1h0M1832.6 401.5h0M1833.9 384.6h0M1825.6 411.9h0M1832.4 401.6h0M1828.7 424.2h0M1832.7 421h0M1827.2 382.1h0M1827.6 403.8h0M1831.9 392.5h0M1826.4 414.2h0M1825.9 382.1h0M1833.2 397.5h0M1827.9 390.3h0M1831.6 389.8h0M1826.4 416.2h0M1830.1 423.7h0M1830.9 386.1h0M1829.3 412.9h0M1831.3 382.2h0M1830 403.7h0M1830.1 406.7h0M1829.8 390.4h0M1826.6 387.4h0M1825.2 398.9h0M1833.9 412.6h0M1831.1 384.1h0M1835 392h0M1830.6 420.7h0M1830 383.5h0M1832.8 385.4h0M1830.8 387h0M1833.4 408.4h0M1832.7 416.5h0M1829.8 410.8h0M1831.9 390h0M1833.5 393.6h0M1834.5 385.6h0M1828.5 418.4h0M1833 385.6h0M1831.5 382.1h0M1833.3 382.1h0M1831 419.2h0M1826.3 390h0M1834.2 391h0M1831.3 391h0M1825.3 415.8h0M1832.1 382.1h0M1827.8 386.4h0M1828.6 389.2h0M1834 387.6h0M1834.8 396.1h0M1829.3 411.5h0M1831.8 420.5h0M1826.5 421.9h0M1824.7 388.3h0M1834.1 382h0M1827.4 386.7h0M1834.3 401.5h0M1824.1 385.6h0M1832.8 411h0M1825.1 408.3h0M1828.9 410.5h0M1825.4 393.3h0M1831.1 420.7h0M1826.3 412.4h0M1826.3 419.2h0M1829.5 388.4h0M1832.4 390.1h0M1828.4 394.6h0M1831.1 392.5h0M1828.5 404.4h0M1834.1 389.5h0M1826.3 400.2h0M1824.5 402.4h0M1830.7 383.7h0M1831.6 399.7h0M1825.1 407.9h0M1825.7 417.9h0M1835.1 383.3h0M1829.7 423h0M1826.1 382h0M1830.9 398.1h0M1834.8 398.3h0M1833.2 397.6h0M1826 422.1h0M1832.4 423h0M1827.2 423.1h0M1832 382.6h0M1826.6 382.1h0M1827 422.7h0M1833.1 382.3h0M1827.5 421.7h0M1824.1 389.1h0M1827.1 394.1h0M1828.5 389.3h0M1831.5 424.5h0M1828.6 387.2h0M1828.2 398h0M1832.7 384.1h0M1832.2 417.2h0M1830.7 418.2h0M1829.5 386.4h0M1831.1 424.2h0M1834.3 408h0M1831 413.6h0M1831 382.9h0M1832.2 382.2h0M1830.2 392.2h0M1828.9 405.5h0M1829 404.5h0M1829.2 399.9h0M1829.2 403.4h0M1830 389.7h0M1833.2 391.1h0M1832.1 161.5h0M1832.8 191h0M1828.2 200h0M1825.6 227h0M1833.8 238h0M1827.4 243h0M1830.9 233h0M1832.4 430h0M1825.6 436h0M1832.2 440h0M1831 448h0M1833.3 457.7h0M1831.9 444h0" stroke="#c78d22" stroke-width="3.6" stroke-linecap="round" fill="none" />
<rect x="1862.6" y="281.8" width="14.8" height="48.2" fill="#acacac"/>
<rect x="1863.2" y="269" width="13.6" height="12.8" fill="#c4521d"/>
<rect x="1863.2" y="330" width="13.6" height="28" fill="#c4521d"/>
<path d="M1876.2 294.4h0M1875.9 298.6h0M1863.8 330h0M1864.1 307.3h0M1864 321h0M1875.6 289.1h0M1864.3 327.5h0M1875.5 299.2h0M1875.7 289.2h0M1875.8 299.4h0M1875.7 286h0M1864.2 303.3h0M1863.9 304.9h0M1864.3 289h0M1864 306.9h0M1875.6 307h0M1864.1 308.6h0M1864.3 284.6h0M1875.6 308.1h0M1875.5 294.6h0M1864.4 312.5h0M1876 302.2h0M1864 299.7h0M1864 299.9h0M1875.8 296h0M1875.7 311.1h0M1863.8 300.4h0M1875.5 291h0M1864.5 291.6h0M1875.9 303.3h0M1864.5 305.7h0M1876 309h0M1875.6 302.8h0M1875.8 284.9h0M1864 306.5h0M1875.9 317.5h0M1875.9 326.4h0M1875.5 318.9h0M1864.1 292.4h0M1875.5 282.5h0M1875.4 318.1h0M1875.8 314.6h0M1876.2 284.4h0M1876.1 288.6h0M1864.3 323.8h0M1864.4 291h0M1875.5 307.8h0M1875.9 300.3h0M1876 306.4h0M1863.8 296.6h0M1875.7 320.5h0M1864.1 288.2h0M1876 299.8h0M1864.3 316h0M1864.2 320.4h0M1863.9 315.9h0M1864.2 282.2h0M1875.4 309h0M1875.7 292.4h0M1875.8 316h0M1863.8 316.9h0M1876.2 284.6h0M1863.8 287.8h0M1875.6 285.3h0M1864.2 326.3h0M1876.1 314.3h0M1864.5 307.6h0M1864.1 326h0M1863.9 304.2h0M1875.6 327.6h0" stroke="#acacac" stroke-width="3.6" stroke-linecap="round" fill="none" />
<path d="M1871.9 244.8h0M1869.2 261.5h0M1873.8 243.1h0M1865.8 269.6h0M1872.9 261.4h0M1872.6 242.7h0M1872.2 250.9h0M1867.2 265.6h0M1866.9 257.6h0M1871.4 239h0M1875.7 267.6h0M1866 265.1h0M1871.8 266.1h0M1867 251.5h0M1866.1 269.3h0M1868.9 265h0M1868.2 270.8h0M1867.1 253.1h0M1870.2 253.2h0M1869.9 270.5h0M1873.5 270.9h0M1873.6 242h0M1867.3 268.3h0M1871 265.8h0M1867.1 248.6h0M1873 260.5h0M1873.9 248.2h0M1867.9 256.4h0M1865.8 256.4h0M1866.2 271h0M1867.6 269.3h0M1868.2 268.9h0M1868.1 260.1h0M1865.5 264.1h0M1872.8 244.9h0M1869.6 250.1h0M1866.3 249.1h0M1868.7 269.1h0M1864.3 270.8h0M1869.1 256.4h0M1869.2 251.4h0M1866.1 244.7h0M1872.3 250h0M1871.9 264.2h0M1863.9 270.3h0M1873.5 253.7h0M1867.2 265.8h0M1866.8 270h0M1867.2 269.3h0M1868.1 257.9h0M1870.8 359h0M1867 356.2h0M1868.2 381.8h0M1875.2 366.9h0M1872 380h0M1867.2 366.3h0M1865.2 356.6h0M1873.6 356.3h0M1867.1 371.9h0M1866 373.4h0M1874.1 357.7h0M1869.4 383.9h0M1866 369.2h0M1866 367.4h0M1867.1 370.5h0M1873.3 358.9h0M1873.5 365.6h0M1866.1 376.4h0M1865.3 360.9h0M1873.3 358.4h0M1867.6 357.7h0M1873.2 356.5h0M1866.7 368.1h0M1875.1 360.5h0M1865.6 375.1h0M1866.7 375.1h0M1866.4 365.6h0M1872.5 375.5h0M1875.1 358.2h0M1872.1 371.3h0M1863.9 356.4h0M1865.9 378.8h0M1868.2 366h0M1871.3 356.4h0M1874.5 356.3h0M1868.3 356.2h0M1871.7 362.8h0M1870.7 382.7h0M1869.9 375.7h0M1870 374.5h0M1872.3 359.2h0M1864.7 360.1h0M1873.2 364.3h0M1866.6 371.1h0M1871.6 362.1h0M1870.1 381.3h0M1870.9 373.6h0M1871.4 370.2h0M1873.5 356.4h0M1872.3 375.7h0M1867.6 377.5h0M1870.6 368h0M1870.7 378.7h0M1873.3 381.1h0M1872 356.2h0M1871.4 362.3h0M1868.5 374.6h0M1875.1 361.9h0M1872.1 358.6h0M1871.5 375.3h0M1873.6 213.6h0" stroke="#c4521d" stroke-width="3.6" stroke-linecap="round" fill="none" />
<rect x="1903.1" y="285.4" width="14.8" height="50.2" fill="#acacac"/>
<rect x="1903.7" y="262" width="13.6" height="23.4" fill="#f7b01c"/>
<rect x="1903.7" y="335.6" width="13.6" height="16.4" fill="#f7b01c"/>
<path d="M1915.9 306.8h0M1904.2 310h0M1916.3 329.5h0M1916 315.8h0M1904.8 312.8h0M1904.8 327.8h0M1916.1 289.8h0M1916.5 330.1h0M1904.9 325.9h0M1916.6 316.9h0M1916.2 294.6h0M1904.9 293h0M1916.2 330.1h0M1904.3 301.4h0M1916.4 334h0M1905 285.4h0M1916.6 297.7h0M1916 319.3h0M1916.5 323.2h0M1916.3 289.2h0M1916.2 333.5h0M1916.7 321h0M1904.3 326h0M1916.5 310.4h0M1904.6 286.3h0M1904.4 307.9h0M1904.2 323h0M1904.2 309.6h0M1904.9 330.1h0M1904.2 331.5h0M1916.5 294.1h0M1904.7 297.5h0M1904.4 334.5h0M1916.3 319.4h0M1916.5 334.3h0M1904.3 299.3h0M1904.4 310.3h0M1904.9 302.8h0M1905 325.9h0M1904.5 322.5h0M1916.8 331h0M1916.8 324.4h0M1916.7 294.8h0M1916.7 309.2h0M1916.2 305.6h0M1916.1 301.4h0M1916.4 295.6h0M1904.4 305.9h0M1904.8 301.2h0M1916.6 312.3h0M1916.5 299.2h0M1916.7 305.3h0M1916.6 291.5h0M1916.2 287.5h0M1916.8 332.6h0M1904.4 329.9h0M1916.7 319.4h0M1916 321.1h0M1904.4 294.3h0M1916.3 305.2h0M1916.2 310.5h0M1904.6 294.7h0M1916 311.6h0M1904.3 302.4h0M1904.3 288.8h0M1916.3 318.9h0M1916.6 314.2h0M1905 319.5h0M1904.6 319.1h0M1904.4 330.5h0" stroke="#acacac" stroke-width="3.6" stroke-linecap="round" fill="none" />
<path d="M1911.9 247.2h0M1907.2 245.3h0M1912.5 250.9h0M1908.2 253.5h0M1911.8 263.7h0M1908.4 247.1h0M1907.2 262.1h0M1912.7 263.5h0M1913 241.9h0M1912.8 259.5h0M1914.7 263.7h0M1904.7 260.2h0M1906.8 253h0M1905.3 261.1h0M1911.1 257.7h0M1906.2 247.7h0M1906.9 247h0M1912.1 261.9h0M1908.5 259.9h0M1907.5 254.7h0M1907.8 248.1h0M1913.3 246.6h0M1905.4 255.5h0M1906 248.6h0M1909.7 256.3h0M1912.1 263.7h0M1911.3 250.3h0M1910.6 258.7h0M1907.6 254.1h0M1914.9 245.7h0M1914.8 247.8h0M1916.2 260.1h0M1910.2 263.7h0M1909.9 263.1h0M1912.6 251.5h0M1908.7 257.5h0M1909.3 262.4h0M1906.9 261h0M1910.7 249.9h0M1907.1 257.8h0M1907.5 250.9h0M1911.2 261.2h0M1915.2 251h0M1914.8 249.6h0M1912.4 243.9h0M1906.2 250.4h0M1904.6 262.2h0M1912.5 245.8h0M1908.1 253h0M1906.6 259.6h0M1915.6 362.5h0M1905.1 353.9h0M1908.7 351.6h0M1913.2 371.9h0M1906.1 357.4h0M1906.2 350.7h0M1910.2 367.4h0M1913.8 375.6h0M1910.3 368h0M1907.1 369h0M1911.3 350.7h0M1907.3 358.8h0M1904.8 352.9h0M1912.3 372.3h0M1914.6 373.8h0M1913.1 356.9h0M1914.1 355.6h0M1907.2 369.7h0M1907 350h0M1909.2 361h0M1914.6 350h0M1910.2 367.7h0M1915.3 350.2h0M1905.9 359.5h0M1912 354.3h0M1910.4 371.4h0M1907.5 362.7h0M1915.3 352.7h0M1906 355.6h0M1906.6 361.2h0M1910 352h0M1911.9 361h0M1909.9 364.9h0M1913.3 350.3h0M1910.1 350.2h0M1912.5 356h0M1907.9 365.2h0M1912.5 363h0M1906.5 357.8h0M1911.4 372.3h0M1907.3 350.3h0M1908.3 375.5h0M1913.8 355.8h0M1911.7 369.1h0M1906 366.1h0M1916.4 350.6h0M1906.2 368.3h0M1907.3 350.2h0M1908.1 373.2h0M1914.8 363.8h0M1911.7 222h0M1914.3 405h0M1908.4 244h0M1907.4 248h0" stroke="#f7b01c" stroke-width="3.6" stroke-linecap="round" fill="none" />
<rect x="1943.6" y="274.6" width="14.8" height="68.2" fill="#acacac"/>
<rect x="1944.2" y="252" width="13.6" height="22.6" fill="#1a9fa8"/>
<rect x="1944.2" y="342.8" width="13.6" height="31.2" fill="#1a9fa8"/>
<path d="M1944.9 275.8h0M1945.4 334.8h0M1945 329.6h0M1957.2 296.6h0M1945.1 274.8h0M1945 330.6h0M1956.8 319.7h0M1945.6 320.3h0M1956.6 331.2h0M1945 322.9h0M1945.1 341.7h0M1945.5 298.6h0M1945.5 290.9h0M1957.1 293.3h0M1957.1 284.7h0M1945.6 275.1h0M1945.1 321.2h0M1957.2 305.7h0M1944.8 313.8h0M1944.8 324.6h0M1945 331.7h0M1957.1 283.8h0M1956.8 278.3h0M1957.1 322.8h0M1945.3 332.3h0M1956.5 281.1h0M1957.1 339.2h0M1956.6 331.7h0M1956.9 291.6h0M1957.2 297.8h0M1944.8 297h0M1945.5 328.8h0M1956.8 330.9h0M1945.1 297.6h0M1945.4 340.5h0M1944.8 278.2h0M1945 302.4h0M1945 289.5h0M1944.7 304h0M1957 286.6h0M1957.1 286h0M1957.3 291.5h0M1945 280.9h0M1945 316.8h0M1956.7 315.4h0M1945.1 279h0M1945.5 279.6h0M1957 282.3h0M1957.2 309.4h0M1945.4 305.3h0M1945.2 301.5h0M1944.8 324.3h0M1957.1 306h0M1945.5 276.7h0M1957 288.8h0M1944.8 293.5h0M1945.5 279.6h0M1957 319.6h0M1945.2 286.9h0M1945.3 331.7h0M1945.5 319.1h0M1957.2 294.8h0M1956.7 283.5h0M1945.3 323.9h0M1956.7 324.9h0M1944.8 310.3h0M1945.3 336.6h0M1945.4 300.6h0M1944.9 287.8h0M1945 332.8h0" stroke="#acacac" stroke-width="3.6" stroke-linecap="round" fill="none" />
<path d="M1955.1 242h0M1953 253.7h0M1948.6 223.9h0M1950.2 253.9h0M1950.5 252.7h0M1947 230.8h0M1950.7 252.7h0M1947.7 251.6h0M1946.7 243.2h0M1949.3 253.5h0M1955.8 242.1h0M1946.4 238.4h0M1953.9 250.4h0M1955 238.1h0M1954 216.4h0M1956.4 252.8h0M1948.2 239.7h0M1955.4 251.6h0M1946 250.6h0M1956 249.2h0M1953.6 242.4h0M1950.4 253.4h0M1947.6 247.6h0M1949.6 233.3h0M1956.9 252.7h0M1947.5 241.6h0M1952.9 254h0M1945.8 240.2h0M1953.7 242h0M1948.1 239.2h0M1952.2 240.8h0M1947.4 233.9h0M1955.2 225.8h0M1954.5 229.3h0M1955.6 245.9h0M1947.7 251.4h0M1955.2 236.4h0M1947.5 253.3h0M1950.2 253.8h0M1947.2 252.3h0M1951.8 228.8h0M1950.2 217.8h0M1946.1 232.5h0M1948.8 217.3h0M1951.1 241.8h0M1950.9 217.3h0M1952 214.5h0M1955 250.5h0M1957 250.9h0M1947.9 242.6h0M1949.5 216.5h0M1949.2 244.5h0M1946.2 233h0M1947.1 245.7h0M1946.4 224.4h0M1948.5 236h0M1951.7 242.7h0M1947.4 230.8h0M1946.5 249.9h0M1948.1 216.5h0M1951.3 374.2h0M1955.1 394.7h0M1947.7 372.6h0M1952 375.1h0M1950 387.2h0M1952.4 416.7h0M1955.1 414.4h0M1956.2 378.6h0M1945.9 384.9h0M1947.6 418.8h0M1948.4 372.1h0M1956.5 379.4h0M1950.3 415.2h0M1954.8 391.5h0M1952.4 410.3h0M1946.8 390.5h0M1952.9 377.6h0M1954.2 395h0M1955 417.5h0M1945.9 375.9h0M1951.6 417.4h0M1953.3 375.5h0M1947.9 378.1h0M1951.3 382.8h0M1946.7 401h0M1952.2 405.4h0M1952.9 388.2h0M1946.4 409.8h0M1953 388.4h0M1952.5 403.2h0M1956.6 375.5h0M1948.5 408.7h0M1956.2 386h0M1949.9 376.3h0M1954.3 422.7h0M1953.8 377.2h0M1952.9 382.5h0M1947.4 407.3h0M1947.6 376.9h0M1945.5 378.5h0M1949.9 374.2h0M1946.2 385.5h0M1955.7 394.7h0M1949.5 394.4h0M1950.4 402.8h0M1950.8 375.3h0M1953.2 372.1h0M1949.4 374.9h0M1953.2 422.8h0M1952.3 412.5h0M1953.1 398.1h0M1948.5 423.1h0M1949.1 407.3h0M1954.8 378.1h0M1954.7 395.9h0M1951.8 415.6h0M1945.1 376.1h0M1953.4 391.8h0M1945.9 378.7h0M1946.9 372h0M1946.1 402.2h0M1948.2 377.1h0M1955.8 403.3h0M1946.2 372.1h0M1955 420.5h0M1949 374.6h0M1949 391.1h0M1950.8 385.3h0M1945.7 378.2h0M1946.8 373h0M1952.5 373.2h0M1948.6 402.3h0M1953.2 409.2h0M1950.9 381.7h0M1956.2 375.7h0M1946.2 393.4h0M1953.3 374.7h0M1953.5 383.7h0M1954.6 377.1h0M1947.2 409.9h0M1947.7 395h0M1954 403.1h0M1948.5 409.1h0M1953 373.2h0M1947.1 393.7h0M1952 375.9h0M1952.6 373.5h0M1948.1 377.5h0M1951.4 385.7h0M1946.4 404.2h0M1948.3 404.2h0M1952.6 379.5h0M1952.1 401.9h0M1948.4 417.8h0M1952.9 380.3h0M1946.9 378.3h0M1954.3 377h0M1953 411.8h0M1953.5 422.5h0M1948.8 380.3h0M1946.6 404h0M1946.7 396.4h0M1951.2 372.4h0M1956.3 374.6h0M1950.7 415.8h0M1946.4 376h0M1951.2 390.2h0M1953.5 382.7h0M1954 391.5h0M1945.7 373.5h0M1950 188.5h0M1950.9 192h0M1948.8 197h0M1952.5 213h0M1948.5 225h0M1949.4 421h0M1950.8 429h0" stroke="#1a9fa8" stroke-width="3.6" stroke-linecap="round" fill="none" />
<rect x="1984.1" y="272.8" width="14.8" height="66.4" fill="#acacac"/>
<rect x="1984.7" y="255" width="13.6" height="17.8" fill="#2d8f52"/>
<rect x="1984.7" y="339.2" width="13.6" height="40.8" fill="#2d8f52"/>
<path d="M1997.4 320.1h0M1997.5 324.6h0M1997 279.8h0M1986.1 334.1h0M1986 337.9h0M1985.8 318.2h0M1997.3 277.4h0M1997.5 278.5h0M1986.1 320.3h0M1985.6 333.2h0M1997 319.3h0M1997.1 308.1h0M1997.5 284.3h0M1985.7 296.9h0M1985.9 309.4h0M1997.3 322h0M1997.6 336.3h0M1985.4 298.9h0M1985.3 281.4h0M1997.6 305.4h0M1997.6 274.6h0M1997.2 319h0M1997.5 321.2h0M1985.4 316.6h0M1996.9 330.1h0M1985.3 323.5h0M1997.1 336h0M1997.8 293.9h0M1997.3 292.8h0M1986.1 291.7h0M1985.4 317.7h0M1985.2 315.6h0M1985.4 321.1h0M1997.2 289.6h0M1985.9 328.6h0M1985.8 320.2h0M1997.7 328.8h0M1985.4 282h0M1997.8 328.8h0M1997.6 304h0M1985.4 330.6h0M1986 296.8h0M1985.3 294.5h0M1997 274.5h0M1985.9 277.3h0M1997.2 303.5h0M1997.2 304.4h0M1997.2 314.8h0M1997.6 295.7h0M1985.6 296.2h0M1985.7 339.1h0M1985.9 300.4h0M1997.7 296.9h0M1985.5 316.5h0M1997.4 310.5h0M1985.7 301.5h0M1997.6 278.9h0M1997 325.2h0M1985.9 325.5h0M1997 331.4h0M1985.3 315.1h0M1997.8 286.2h0M1985.7 307h0M1985.5 322.7h0M1997.8 282.3h0M1985.9 310.1h0M1985.3 333.2h0M1985.9 296.8h0M1985.6 274.4h0M1986 334.7h0" stroke="#acacac" stroke-width="3.6" stroke-linecap="round" fill="none" />
<path d="M1994.6 238.3h0M1992.7 247.1h0M1988.8 252.5h0M1991.6 247.3h0M1987 245.4h0M1989.5 257h0M1993.9 234.1h0M1988.6 253.1h0M1988 243.4h0M1995.7 239.6h0M1992.5 254h0M1993.9 233.9h0M1993.6 234.3h0M1995.5 252.1h0M1987.7 222.6h0M1991 221.4h0M1986.2 256.2h0M1993.2 229.9h0M1991 255.3h0M1996.6 238h0M1994.6 250.2h0M1987.9 252.9h0M1990.4 254.9h0M1989.5 238.9h0M1988.1 254.9h0M1987.7 256.2h0M1991.6 250.8h0M1991.3 254.4h0M1996.8 246.5h0M1996.4 244.7h0M1988.1 245.3h0M1987.8 240.1h0M1986.3 254.7h0M1996.1 234.9h0M1989.8 247.9h0M1989.8 247.1h0M1990.4 235.4h0M1995.9 255.1h0M1986.3 241h0M1993.6 227h0M1993 249.6h0M1990.7 222.9h0M1989.2 246.8h0M1993.2 241.8h0M1995.9 233.2h0M1989.9 255.2h0M1994.1 226.8h0M1993.4 240.2h0M1996.7 250.1h0M1990.5 242h0M1986.8 254.4h0M1994.1 224.2h0M1989.3 256.9h0M1991.5 245h0M1996.1 249.3h0M1991.9 249.7h0M1992.7 222.3h0M1989.6 245.1h0M1992.7 248.5h0M1989.2 230.5h0M1990.2 384.9h0M1996.3 384.7h0M1989.1 390.6h0M1995.2 383.8h0M1993.8 379.8h0M1987.7 378.1h0M1995.3 378.4h0M1988.2 379.6h0M1988.6 378.4h0M1993.6 398.7h0M1995.4 407.3h0M1996 391.1h0M1996.7 378.7h0M1988 386.9h0M1995 399.4h0M1986.8 385.4h0M1993.8 405.4h0M1996.5 392.9h0M1986 378.2h0M1985.6 379.2h0M1992.8 397.6h0M1987.4 379h0M1992.8 380.2h0M1996.2 396h0M1997 384.6h0M1990.3 387h0M1988.3 381.8h0M1995.6 410.6h0M1988.3 397.5h0M1987.3 380.2h0M1994.2 384.4h0M1991.9 378.4h0M1986.8 396.4h0M1994.8 387.1h0M1991 392.1h0M1992.4 405.8h0M1990.3 384h0M1994.5 409h0M1992 407.5h0M1987.5 379.5h0M1993.7 385.3h0M1995.2 378h0M1991.6 401.1h0M1995.2 378h0M1993.4 386.3h0M1993.9 391.8h0M1996.7 386.1h0M1995.1 409.6h0M1989.6 393.6h0M1988.8 385.1h0M1994 406.9h0M1994.5 401.2h0M1993 411.5h0M1994.5 383.4h0M1992.8 382h0M1995.9 379.8h0M1989 388.8h0M1987.9 407.9h0M1993.7 408.3h0M1994.7 379.6h0M1995.8 392h0M1990.7 392.5h0M1988 408.4h0M1987.7 400.7h0M1986.9 382.4h0M1991 405.3h0M1989.1 398.4h0M1993 398.6h0M1991.4 378.8h0M1988.7 398.2h0M1989.2 395.2h0M1996.3 384.9h0M1995.7 409h0M1992.3 386.7h0M1993.9 402.2h0M1995.6 387.7h0M1996.6 385.9h0M1987.3 388.3h0M1988.1 399.4h0M1987 396.3h0M1995.9 182.4h0M1991.9 218h0M1993.7 227h0M1988.2 234h0M1992.7 404h0M1990.4 412h0" stroke="#2d8f52" stroke-width="3.6" stroke-linecap="round" fill="none" />
<path d="M1586.4 551.7V68H2032.5V551.7Z" fill="none" stroke="#333" stroke-width="1.2"/>
<line x1="1586.4" y1="551.7" x2="2032.5" y2="551.7" stroke-width="1.6" stroke="#222" />
<text transform="translate(1571.6,78) scale(1,1.04)" font-size="27.6" text-anchor="end">1.5</text>
<text transform="translate(1571.6,158.6) scale(1,1.04)" font-size="27.6" text-anchor="end">1.0</text>
<text transform="translate(1571.6,239.2) scale(1,1.04)" font-size="27.6" text-anchor="end">0.5</text>
<text transform="translate(1571.6,319.8) scale(1,1.04)" font-size="27.6" text-anchor="end">0.0</text>
<text transform="translate(1571.6,400.4) scale(1,1.04)" font-size="27.6" text-anchor="end">-0.5</text>
<text transform="translate(1571.6,481) scale(1,1.04)" font-size="27.6" text-anchor="end">-1.0</text>
<text transform="translate(1571.6,561.6) scale(1,1.04)" font-size="27.6" text-anchor="end">-1.5</text>
<path d="M1586.4 68.1h-3.6M1586.4 148.7h-3.6M1586.4 229.3h-3.6M1586.4 309.9h-3.6M1586.4 390.5h-3.6M1586.4 471.1h-3.6M1586.4 551.7h-3.6M1627 551.7v4.5M1667.5 551.7v4.5M1708 551.7v4.5M1748.5 551.7v4.5M1789 551.7v4.5M1829.5 551.7v4.5M1870 551.7v4.5M1910.5 551.7v4.5M1951 551.7v4.5M1991.5 551.7v4.5" stroke="#444" stroke-width="1.1" fill="none"/>
<line x1="1586.4" y1="148.7" x2="2032.5" y2="148.7" stroke-width="1.3" stroke="#000" stroke-dasharray="2 2.4"/>
<line x1="1586.4" y1="471.1" x2="2032.5" y2="471.1" stroke-width="1.3" stroke="#000" stroke-dasharray="2 2.4"/>
<line x1="1581.4" y1="314.2" x2="2032.5" y2="314.2" stroke-width="1.8" stroke="#000" stroke-dasharray="9.4 6.2"/>
<text transform="translate(1918.2,141.2) scale(1,1.04)" font-size="32.8" style="font-weight:normal;stroke-width:.25px">Female</text>
<text transform="translate(1942.6,504.4) scale(1,1.04)" font-size="32.8" style="font-weight:normal;stroke-width:.25px">Male</text>
<text transform="translate(1630.8,568.8) rotate(-90) scale(1,1.04)" font-size="28.6" text-anchor="end">RGL</text>
<text transform="translate(1671.9,568.8) rotate(-90) scale(1,1.04)" font-size="28.6" text-anchor="end">IPC_2</text>
<text transform="translate(1713,568.8) rotate(-90) scale(1,1.04)" font-size="28.6" text-anchor="end">Astro_im</text>
<text transform="translate(1754.1,568.8) rotate(-90) scale(1,1.04)" font-size="28.6" text-anchor="end">Astro</text>
<text transform="translate(1795.2,568.8) rotate(-90) scale(1,1.04)" font-size="28.6" text-anchor="end">IPC_1</text>
<text transform="translate(1836.3,568.8) rotate(-90) scale(1,1.04)" font-size="28.6" text-anchor="end">NB</text>
<text transform="translate(1877.4,568.8) rotate(-90) scale(1,1.04)" font-size="28.6" text-anchor="end">GC_im</text>
<text transform="translate(1918.5,568.8) rotate(-90) scale(1,1.04)" font-size="28.6" text-anchor="end">GC</text>
<text transform="translate(1959.6,568.8) rotate(-90) scale(1,1.04)" font-size="28.6" text-anchor="end">Pyr</text>
<text transform="translate(2000.7,568.8) rotate(-90) scale(1,1.04)" font-size="28.6" text-anchor="end">GABA</text>
<text transform="translate(1501.9,526.5) rotate(-90) scale(1,1.04)" font-size="36.8">Log</text>
<text transform="translate(1501.9,436.2) rotate(-90) scale(1,1.04)" font-size="36.8">FC</text>
<text transform="translate(1501.9,363.4) rotate(-90) scale(1,1.04)" font-size="36.8">female to male</text>
<text transform="translate(1507.4,458.4) rotate(-90) scale(1,1.04)" font-size="24" style="font-weight:normal;stroke-width:.25px">2</text>
<text transform="translate(1467.8,46.8) scale(1.12,1)" font-size="62" style="stroke-width:3.2px" stroke-linejoin="miter" stroke-miterlimit="3">b</text>
</g>
<g id="pc">
<path d="M196.1 1283.4h0M197.5 1293.8h0M224 1279.5h0M201.4 1298.7h0M283.8 1207.8h0M250.6 1242.1h0M199 1286.4h0M179.7 1304.9h0M196 1282.8h0M218.3 1266.8h0M200.5 1301.3h0M185.4 1300.1h0M296 1181.6h0M195 1304.1h0M183 1301.9h0M188.9 1306h0M219 1262.2h0M192.1 1293.7h0M189.3 1288.8h0M185.2 1296.8h0M204.1 1270.4h0M196.4 1293.5h0M182.3 1302.2h0M191.2 1300.3h0M262 1215h0M213.1 1265.3h0M198.4 1275.8h0M315.7 1183.1h0M210.2 1269.6h0M197.4 1300.3h0M187 1299.6h0M233.9 1250h0M236.8 1262.2h0M192.7 1288.2h0M221.9 1263.1h0M215.2 1267.3h0M191.8 1295.6h0M368.8 1197.8h0M198.4 1292h0M387.2 1101.4h0M255.8 1233.9h0M185.9 1289h0M259.3 1221.6h0M219.7 1264.7h0M185.5 1296.8h0M198.3 1291.2h0M179.7 1303.4h0M181.4 1299.4h0M319.1 1147.9h0M197.4 1290.5h0M180.7 1293.1h0M249.5 1236h0M242.6 1270.5h0M228.6 1257.1h0M228.2 1260.9h0M231.6 1278.1h0M251.8 1218.3h0M277.7 1235.2h0M196.8 1296.3h0M198.7 1294.6h0M243.2 1223.4h0M189 1297.5h0M197.2 1303.8h0M236.8 1244h0M184 1304.7h0M233.1 1270.6h0M179.1 1306h0M201.7 1274.5h0M226.4 1270.2h0M214.2 1262h0M231.4 1249.2h0M186.6 1305h0M222 1256.3h0M243.1 1270.9h0M190.2 1302.7h0M212.3 1272.4h0M193.1 1300.2h0M191.4 1283.6h0M180.4 1303.9h0M196.7 1291.5h0M278 1204.2h0M178.9 1306.1h0M184.2 1300.2h0M191.2 1293.2h0M201.4 1278.6h0M183.2 1305.9h0M219 1269.7h0M205.3 1287.9h0M194.3 1304.1h0M278.1 1233.3h0M180.4 1297.3h0M216.8 1278.3h0M230.4 1270.2h0M212.8 1266.7h0M191.9 1297.7h0M215.2 1278.3h0M205.7 1277.1h0M260.2 1203.9h0M212.2 1285.7h0M187.7 1286.4h0M215.3 1291.6h0M280.6 1203.1h0M181.7 1299.5h0M224.6 1266.8h0M241.3 1275.8h0M242.7 1238.9h0M185.8 1297.7h0M200.4 1305.9h0M186.5 1301.6h0M296.9 1184.9h0M253 1242h0M196.8 1286.8h0M198.5 1279.7h0M399.9 1129.3h0M196.3 1290.8h0M203.8 1274.4h0M378 1104.5h0M185.2 1304.9h0M214.9 1271.1h0M192.4 1296h0M234.4 1247.4h0M274.4 1206.4h0M252.2 1235h0M206.3 1284h0M181.2 1305.7h0M226.4 1273.1h0M226.3 1257.6h0M192.9 1302.3h0M219.5 1280.9h0M220.4 1265.1h0M228.7 1243.6h0M202.4 1279.4h0M225.6 1266h0M195.8 1291.4h0M291.8 1214.7h0M212.1 1269h0M178.8 1302.8h0M251.2 1212.4h0M223.1 1282.5h0M193.5 1294.9h0M185.5 1305.3h0M229.3 1276.2h0M191.4 1295.6h0M294.9 1162h0M182.5 1304.2h0M191.8 1293.5h0M194 1300.6h0M198.2 1277.4h0M182.7 1302.1h0M207.4 1285.3h0M224 1259.8h0M320.5 1162.2h0M199.8 1301.8h0M236.5 1293.7h0M184.8 1301.4h0M207.9 1276.2h0M322.5 1214.5h0M204 1281h0M259.8 1258.8h0M205 1283h0M243.1 1244.5h0M184.1 1293.6h0M246.9 1249.3h0M209.4 1256.4h0M178.9 1305.1h0M192.2 1304h0M185 1300.7h0M193.7 1278.4h0M196.5 1280.1h0M180.1 1305.6h0M209.1 1260.5h0M218.9 1262.6h0M221.9 1268.7h0M190.2 1297.7h0M198.1 1293.6h0M196.2 1285.8h0M258.5 1230.8h0M181.2 1303.4h0M267.6 1252.1h0M179.5 1298.7h0M240.8 1227.2h0M192.4 1287.4h0M261.6 1233.1h0M198.4 1280.6h0M183.3 1297.1h0M226.1 1254.2h0M191.5 1289.6h0M233.8 1275.9h0M309 1168.3h0M207 1279.2h0M211.5 1271.3h0M188 1299.5h0M197.7 1278.3h0M208.6 1275.8h0M231.8 1249h0M179.3 1302.2h0M199.5 1284.6h0M227.9 1255.8h0M195.7 1289.1h0M188.5 1303.4h0M265.1 1222.4h0M180.1 1298.3h0M210 1267h0M213.5 1274.3h0M245.7 1223h0M188.3 1301.9h0M310.6 1174.1h0M192.7 1291.9h0M186.1 1299.2h0M247.3 1247.1h0M201.4 1287.4h0M188.2 1303.9h0M186.3 1302.2h0M239.1 1267.8h0M190.8 1293.3h0M210.8 1285.3h0M227 1260.1h0M207.1 1272.3h0M209.5 1273.7h0M195.2 1282.9h0M196.3 1284.8h0M185.5 1291.4h0M224.4 1279.5h0M201.1 1288.8h0M179.8 1306.3h0M227.9 1266.4h0M242.3 1235.1h0M184.5 1293.8h0M270.5 1250.7h0M204.6 1284.3h0M202.5 1297.2h0M205 1281h0M189.8 1291.8h0M213.8 1288.9h0M225.8 1249h0M205.1 1285.4h0M190.2 1300.2h0M280.1 1205.6h0M190.1 1293.9h0M400.6 1070.3h0M201.8 1276.8h0M182.7 1297.6h0M217.4 1293.4h0M185.7 1305.8h0M258.6 1240.2h0M199.4 1290.9h0M268.4 1229.4h0M192.5 1286.1h0M317.1 1160.9h0M246.4 1249.2h0M183.8 1288.9h0M188.9 1292.4h0M194.1 1296.4h0M184.3 1284.4h0M219 1283.7h0M198.5 1278.9h0M189.2 1299.6h0M194.1 1287.4h0M285.9 1206.3h0M271.8 1201.6h0M287.8 1187.1h0M198.4 1303.5h0M220.4 1265.3h0M277.3 1250.5h0M289.6 1184.5h0M228.2 1267.1h0M186.5 1300h0M183.4 1305.4h0M188 1291.4h0M201.3 1280.1h0M208.5 1280.1h0M191.6 1301h0M183.4 1304.6h0M204.5 1287.9h0M248.2 1240.3h0M187 1294.7h0M196.3 1291.2h0M180.5 1306.2h0M205 1278.2h0M197.8 1282.1h0M194.7 1289.4h0M183.2 1299.9h0M188.9 1297.8h0M212.1 1266.6h0M265.1 1222.4h0M201.7 1286.1h0M205 1282.7h0M198.8 1281.7h0M270.8 1205.2h0M222.5 1274.1h0M257.8 1216.8h0M217.4 1270.7h0M362.5 1144.1h0M196.2 1294.6h0M204.2 1294.2h0M217.9 1252.2h0M327.3 1196.1h0M185 1303.6h0M283 1198.8h0M289 1227.1h0M322.8 1166.9h0M182.8 1295.5h0M180.1 1302h0M239 1247.5h0M186.3 1306.2h0M235.3 1273.6h0M178.8 1304.8h0M209.4 1269h0M182.5 1305.3h0M381.8 1141.3h0M240.5 1257.5h0M209 1277.4h0M217.7 1283.7h0M194.5 1288.1h0M229.1 1260.3h0M228.1 1256.3h0M198.1 1288h0M180 1304.9h0M189.3 1287.7h0M184.3 1298.5h0M210.4 1275.9h0M251.7 1232.3h0M221.9 1286.1h0M265.6 1212.7h0M228.9 1245.2h0M227.4 1250.5h0M178.4 1306.4h0M214.9 1265.1h0M206.4 1283h0M323.7 1171.3h0M222.2 1243h0M183.4 1303.1h0M183.1 1299.7h0M183.3 1306h0M179.5 1303.9h0M324.8 1148h0M254 1254h0M191.1 1290.8h0M257.1 1227.4h0M191.1 1293.9h0M188.5 1288.5h0M225 1270.4h0M344.4 1158.3h0M185.4 1302.6h0M190.9 1298h0M194.7 1282.8h0M196.7 1286.8h0M180.4 1305.5h0M182.9 1293.6h0M273.4 1201.7h0M188.9 1295.4h0M193.4 1289.1h0M188 1290.9h0M211.4 1289.3h0M203.3 1284.4h0M243.8 1235.8h0M237.9 1234.5h0M215.3 1269.4h0M184.2 1305.8h0M193.3 1284.3h0M196.8 1287.3h0M182.7 1302.2h0M190.7 1294.1h0M185 1299.9h0M196.6 1293.2h0M212.3 1274h0M181.1 1301.3h0M240.1 1259.6h0M180.4 1306h0M182.5 1303.2h0M216.8 1265.2h0M179.8 1302.9h0M221.1 1261.5h0M270.9 1209.6h0M179.3 1301.6h0M318.6 1161.9h0M213.5 1267h0M180.6 1295.8h0M184 1301.9h0M229.4 1257.4h0M188.2 1290.9h0M179.3 1305.3h0M221.5 1258.3h0M225.4 1275h0M188.8 1295.6h0M183.6 1305h0M182.3 1300.4h0M193.7 1300.4h0M286.5 1200.6h0M221.3 1263.3h0M253.1 1224.7h0M198.8 1283.1h0M210.1 1275.9h0M205.5 1282.1h0M353.6 1120.5h0M270.6 1225.3h0M203.1 1306.6h0M183.9 1298h0M194.2 1297.6h0M210.2 1276.2h0M235.9 1248.9h0M202.2 1296.1h0M256.3 1225.5h0M260.5 1233.1h0M199.3 1291.9h0M189.6 1305.5h0M193.8 1283.7h0M183.7 1306.6h0M222.2 1283h0M242 1236.7h0M182.3 1300.1h0M203.7 1291.5h0M211.1 1275.4h0M182.3 1306.3h0M205 1288.5h0M181.9 1304h0M209.9 1285.7h0M182.5 1305.3h0M197.4 1287.4h0M186.9 1298.8h0M319.6 1167.6h0M185 1303.4h0M199 1292.9h0M199.3 1298.3h0M212.5 1277.8h0M188.8 1285.9h0M179.2 1302h0M206.8 1273h0M181.9 1302.2h0M184.2 1297.6h0M228.2 1267.1h0M201.1 1281.9h0M199.5 1304.9h0M187.2 1304.8h0M316.5 1189.4h0M203.4 1272.4h0M216 1264.7h0M196.3 1282h0M199.8 1286.5h0M196.6 1301.9h0M190.8 1299.8h0M182.9 1303h0M255.9 1223h0M192.5 1288.8h0M306.2 1180.6h0M223.4 1266.9h0M189.2 1298.1h0M186.9 1305.3h0M268.8 1207.2h0M216.8 1268.7h0M248.7 1247.5h0M191.4 1286.3h0M254.4 1232.6h0M252.3 1256.8h0M350.4 1128.6h0M179.5 1305.5h0M287.6 1212.4h0M203.8 1273.6h0M188.5 1296h0M280.8 1202.8h0M239.5 1258.9h0M264 1246.4h0M213.2 1265.7h0M190.6 1284h0M220.9 1253.6h0M203.2 1273.9h0M240.7 1245.4h0M194.8 1300.5h0M181.7 1303.1h0M320.1 1174.4h0M220.4 1263.4h0M183.3 1298h0M282.9 1224.1h0M355.9 1149.8h0M290 1237.9h0M182.6 1299.3h0M190.1 1293.9h0M267.4 1218.2h0M224.3 1256.8h0M178.6 1306.5h0M214.3 1269h0M281.6 1240h0M209.9 1273.1h0M189.5 1296.6h0M184.6 1299.9h0M184 1302.6h0M207.7 1290.3h0M242.9 1268.9h0M199.2 1282h0M204.3 1287.5h0M183.5 1302.5h0M182.6 1306.1h0M214.2 1263.1h0M203 1282.8h0M244.1 1237.8h0M267.5 1197h0M249.4 1236.6h0M182.6 1297.3h0M250.2 1228.8h0M206.5 1283.2h0M239.2 1259.6h0M220.3 1277.3h0M191.4 1299.4h0M195 1299.9h0M196.8 1291.9h0M191.2 1294.9h0M197.9 1284.7h0M285.2 1209.3h0M186.5 1301.4h0M306.8 1254.4h0M184.2 1297h0M216.6 1285.5h0M193.9 1289.7h0M205.3 1281.3h0M282.9 1231h0M183.1 1300.4h0M243.9 1232.1h0M193 1289.3h0M280.6 1194.7h0M229.4 1277h0M182 1306h0M205.3 1278.5h0M217.2 1265.8h0M298.6 1185.2h0M228.5 1234.3h0M241.4 1233.2h0M206.5 1276.3h0M178.7 1299.3h0M202.5 1289.8h0M204 1288.8h0M187.1 1302h0M188 1291.4h0M207.2 1256.5h0M202 1289.3h0M190.3 1293.6h0M255.6 1229.1h0M233.4 1260.5h0M300.8 1159.7h0M191.5 1288.7h0M198.3 1292h0M179.8 1303h0M253.8 1230h0M184.5 1305h0M184.7 1299.3h0M187.4 1293.4h0M195.4 1303.2h0M207.1 1292.2h0M187.5 1291.5h0M242.9 1230.5h0M188.1 1296.4h0M186.6 1304.8h0M259.4 1250.4h0M189.3 1292.4h0M308.9 1211.9h0M217.8 1284.1h0M207.7 1272.4h0M210.3 1276.5h0M244.9 1249.7h0M207.7 1279.3h0M210.7 1261.8h0M218.6 1251.8h0M227.2 1258.2h0M205.9 1294h0M277.3 1217.4h0M223.4 1255.7h0M184.3 1296.1h0M185.9 1299h0M181.9 1304.9h0M191.7 1292.4h0M182 1306.6h0M194.5 1302.7h0M250 1229.8h0M179.1 1300.8h0M205.3 1270h0M226.5 1256.4h0M393.5 1098.2h0M219 1259.5h0M197.6 1286.5h0M337.9 1168.7h0M225.4 1252.7h0M196.5 1305.5h0M184.8 1300.8h0M214 1284.1h0M191.3 1293.6h0M293.1 1180.5h0M189.4 1293.5h0M185 1305.8h0M184 1298h0M192.8 1286.6h0M178.6 1306.5h0M248.3 1254.4h0M201.2 1278h0M197.6 1293.2h0M208.7 1269.7h0M184.6 1301.1h0M190.4 1290.6h0M189.5 1299.3h0M187 1290.1h0M287.1 1197.7h0M270 1245.5h0M240.6 1280.7h0M197.1 1278.1h0M250.7 1236.8h0M232.1 1240.7h0M208.5 1272.1h0M216.1 1276.5h0M262.7 1223.6h0M186.2 1295.1h0M181 1305.4h0M196.1 1285.9h0M227.2 1264.5h0M181.2 1299.9h0M214.3 1282.3h0M249.7 1227.1h0M189 1301.4h0M180.8 1304.9h0M183.3 1306h0M235.2 1266.9h0M218.3 1270.2h0M234.1 1294.3h0M254.3 1230.1h0M197.6 1290.1h0M258.5 1252.3h0M258.7 1223.2h0M191.5 1301.1h0M180.7 1304.4h0M297.8 1170h0M195.7 1288.1h0M188.8 1287.2h0M192.5 1306.2h0M270.3 1224.3h0M228 1246.9h0M370 1144.8h0M185.8 1294h0M196.6 1302.1h0M227.3 1260.2h0M187.4 1293.4h0M185.3 1301.9h0M223.1 1257.1h0M303.1 1174.4h0M207 1291.8h0M201.7 1274h0M276.7 1211h0M261.4 1214.3h0M193.6 1300.5h0M368.5 1135.8h0M357.6 1141h0M180.7 1306.2h0M186.4 1297.8h0M179.9 1304.4h0M203.4 1275.3h0M180.1 1305.9h0M187.8 1303.8h0M190.1 1295.7h0M181.5 1303.4h0M204.4 1289.7h0M243.1 1280.4h0M220.6 1264.7h0M197.7 1289.2h0M198.9 1305.5h0M224.9 1282.8h0M179.1 1298.2h0M178.9 1299.7h0M290.8 1208.7h0M209 1290.6h0M178.4 1298.6h0M217.1 1263.7h0M204.4 1283.1h0M185 1299.8h0M194.5 1299h0M184.2 1294.2h0M182.6 1300.5h0M211.5 1270.3h0M195.7 1294.7h0M184.8 1306.4h0M182.8 1302.2h0M260.7 1217.9h0M212.1 1279.2h0M184.5 1302h0M212.4 1266.7h0M332 1160.9h0M189 1289.8h0M187.3 1290.6h0M188.7 1299.8h0M192.3 1285.3h0M178.7 1303.1h0M193 1292.8h0M248.2 1231h0M183 1297h0M206.4 1271.7h0M191.5 1297.7h0M355.9 1129.3h0M191.4 1296.2h0M191.2 1293h0M225.9 1278.4h0M194.6 1294.6h0M180.2 1304.8h0M269.2 1214.8h0M193.5 1289.3h0M185.9 1295.3h0M256.1 1255.1h0M191.9 1291.8h0M361.5 1126.6h0M189.4 1296.6h0M189.7 1291.5h0M179.7 1298.1h0M280.4 1238.5h0M182.8 1302.7h0M201.4 1279.5h0M188.4 1296.2h0M199.5 1290.6h0M197.2 1283.2h0M227.7 1271.6h0M184.1 1300.2h0M219.8 1263.4h0M268.4 1228h0M190.3 1296.6h0M184.9 1303.8h0M193.2 1300.9h0M194 1292.3h0M185.2 1300.2h0M200 1290.6h0M192.6 1292.6h0M254.2 1237.6h0M280.6 1194.6h0M290.6 1195.9h0M193.5 1299.5h0M195.9 1283h0M185.8 1303.2h0M193.5 1295.9h0M292.5 1189.4h0M261.5 1211.5h0M205.3 1289.6h0M213.3 1266.9h0M196.2 1279.1h0M230.6 1257.7h0M200.7 1276h0M186.4 1295.8h0M253.7 1232.9h0M306.9 1180.3h0M193 1299.6h0M189.5 1292.5h0M186.6 1305.9h0M203.4 1276.9h0M230.8 1261.1h0M371.3 1180.5h0M187.2 1304.6h0M179.2 1302h0M207.9 1289.4h0M192.5 1299.6h0M183 1305.5h0M211.6 1279.9h0M219.2 1263.6h0M203.4 1284.3h0M195.9 1305h0M184.6 1302.8h0M182.9 1302.4h0M229.3 1262.8h0M259.2 1231.6h0M200.9 1294.5h0M191.6 1298.4h0M245.2 1240.7h0M179.6 1302h0M190.8 1292.9h0M213.6 1291.1h0M245 1254.6h0M199 1276.8h0M182 1301h0M178.8 1302h0M180.8 1302.3h0M219.7 1284.4h0M201.4 1284h0M305.9 1208.5h0M316.9 1175.2h0M277.9 1217h0M214.9 1284.9h0M186.6 1305.6h0M272.5 1230.5h0M192.3 1288.6h0M323.4 1187h0M211.7 1289.5h0M186 1294.7h0M243 1257.9h0M201.3 1298.1h0M271.8 1269.5h0M257.4 1243h0M212.6 1273.5h0M183.8 1302.9h0M333.3 1136.5h0M217.6 1265.2h0M235.1 1258.4h0M197.1 1305.7h0M256 1252.5h0M260.8 1218.8h0M194.6 1293.8h0M282.6 1237.8h0M181.8 1302.9h0M244.6 1254.2h0M268.8 1210.8h0M203.7 1279.8h0M188.7 1298.3h0M178.9 1301.6h0M246.4 1236.1h0M236.9 1243.8h0M190.8 1293h0M207.4 1276.9h0M221.1 1267h0M220.8 1269.1h0M255.6 1237.6h0M183.7 1305.4h0M214.5 1287.4h0M183.9 1304.3h0M390 1123.3h0M216.4 1263h0M202.8 1280.3h0M183.7 1297.3h0M222.8 1263h0M258.9 1218.6h0M254 1214.5h0M197.3 1283.9h0M179.8 1293.5h0M179.7 1304.1h0M186.8 1304.1h0M185.8 1305.7h0M197.6 1292.1h0M202 1291.4h0M297.2 1202.4h0M193.9 1299.8h0M199.4 1273.5h0M203.9 1293.8h0M222.9 1264.1h0M179.8 1306.5h0M199.3 1288.3h0M217.5 1264.1h0M203.8 1282.9h0M229.5 1273.3h0M281 1186.3h0M196.4 1299.1h0M195.3 1299.2h0M194.1 1292.6h0M180.1 1304.4h0M209.7 1276.9h0M180.9 1303.7h0M197.3 1298h0M218 1258.8h0M216 1281.7h0M187.3 1305.8h0M183.6 1303.7h0M379.5 1127.7h0M185 1302.1h0M206.2 1280.1h0M279.9 1216.3h0M192.7 1289.5h0M246.9 1239.9h0M197.5 1286.6h0M199 1293h0M258.1 1237h0M221.8 1259h0M336.9 1158.6h0M179.9 1304h0M296.6 1183.4h0M262.6 1238.4h0M258.7 1251.6h0M179.7 1306.4h0M203.8 1282.1h0M235.4 1246.9h0M193.4 1295.7h0M196.4 1289.3h0M180.2 1301.8h0M179.1 1304h0M199.3 1279.8h0M209.3 1277.9h0M181.8 1306.3h0M180.8 1293.8h0M184.1 1299.4h0M297.4 1232.7h0M186 1305.9h0M192.6 1297h0M227.1 1266.6h0M188.7 1304.8h0M239 1256.2h0M204.4 1266.9h0M189.1 1295.9h0M239.1 1241.9h0M188.4 1293h0M230 1250h0M266.5 1219.7h0M204.4 1277.9h0M300.1 1196.6h0M181 1295.7h0M188.1 1299.5h0M247.2 1229.6h0M327.3 1184.3h0M201.4 1281h0M231.1 1258.2h0M274.8 1197.6h0M203.2 1279.3h0M207.3 1274.4h0M182.9 1300.4h0M187.4 1303.2h0M178.5 1302.3h0M179.9 1305.5h0M190.2 1294.5h0M210.6 1283.5h0M203.4 1272.1h0M275.4 1205.2h0M182.2 1304.4h0M212.3 1269.1h0M202.6 1273.2h0M179.7 1304.5h0M216 1269.5h0M195.5 1286.6h0M243.6 1256.3h0M194.9 1287.2h0M226.6 1259.6h0M237.1 1246.4h0M249 1252.6h0M224.9 1279.1h0M202.8 1288.2h0M185.7 1298.7h0M178.6 1305.6h0M193.8 1295.5h0M237.7 1250.3h0M279 1207.3h0M193.6 1300.1h0M189.2 1290.4h0M219.9 1274.2h0M210.8 1265.6h0M188.7 1292.8h0M198.3 1287.2h0M207.5 1291.3h0M183.6 1290.4h0M181.5 1303.2h0M318.8 1172h0M183.6 1305h0M198.5 1272.6h0M188.3 1293.1h0M180.9 1297h0M228.2 1255.9h0M183.4 1294.9h0M186.1 1297.3h0M183.4 1304.1h0M242.6 1250.1h0M186.7 1302h0M179.3 1306.1h0M243.1 1239.6h0M186.6 1304h0M264.9 1223.2h0M204.1 1292.1h0M191.8 1291.9h0M289.6 1195.8h0M200.7 1292.2h0M181.4 1300.2h0M198.1 1301.4h0M223.6 1278.5h0M189.7 1301.4h0M207.4 1288h0M218.5 1255.5h0M243.8 1244.2h0M280.1 1197.6h0M186.2 1302.6h0M243 1241.3h0M180.3 1305.5h0M311.8 1152h0M219.1 1265.7h0M185.4 1295.6h0M179.1 1305.9h0M178.7 1306.5h0M187.8 1295.6h0M188 1287.2h0M230.1 1253.8h0M189.2 1295h0M197 1275.8h0M200.8 1301.4h0M210.9 1279.1h0M189.9 1300.6h0M205.4 1286.4h0M216.1 1285.8h0M188.4 1294h0M186.4 1298.2h0M191.9 1301h0M187.1 1301.4h0M213.5 1263.1h0M315.2 1175.3h0M198.1 1286.9h0M189.9 1305.8h0M184.8 1302.6h0M192.4 1297.6h0M197.2 1269.2h0M188.7 1296.7h0M289.4 1191.5h0M215.2 1272.7h0M183.4 1299.7h0M324.7 1159.4h0M192.3 1289.5h0M244.8 1236.1h0M210.7 1287.9h0M188.4 1294.8h0M203.4 1285.3h0M181.8 1305.1h0M180.5 1300h0M217.6 1265h0M202.6 1290h0M235.1 1246.3h0M188.8 1295.7h0M270.5 1213.2h0M260.2 1227.1h0M202.5 1288.2h0M207.2 1283.3h0M218.9 1259.3h0M184.9 1295.9h0M247.5 1274.6h0M182.5 1299.4h0M181.2 1304.5h0M215.5 1264.8h0M323.3 1200.4h0M193.8 1287.2h0M212.9 1271.8h0M197.9 1287.1h0M261.9 1233h0M194.8 1289.2h0M228.6 1257.5h0M231.3 1256.8h0M187.2 1297.4h0M188.6 1297.5h0M200.9 1283.1h0M215.6 1270.9h0M178.9 1299.1h0M193.1 1286.2h0M266.8 1255.1h0M226.8 1260.9h0M202.6 1296.6h0M194.5 1289.6h0M220.6 1252.9h0M198.1 1284.4h0M231 1255h0M267.4 1251.9h0M314.9 1174h0M194.6 1293.5h0M185.3 1303.9h0M179.7 1299.7h0M219.9 1273.4h0M185.4 1290.2h0M215.9 1290.1h0M249.3 1231.3h0M219.1 1263h0M198 1273.7h0M216.5 1280.9h0M196.2 1303.8h0M187.7 1295.9h0M186.5 1296.6h0M261.8 1226.2h0M179.3 1305.7h0M227.6 1252.9h0M185.3 1285.5h0M192.2 1298.9h0M209.9 1286h0M201.8 1284.9h0M243.2 1228.1h0M194.7 1277.6h0M243.1 1227.1h0M215.6 1282h0M226.8 1250.6h0M202 1284.9h0M188.3 1299.6h0M206.2 1283.5h0M191.8 1292.2h0M195.6 1283.6h0M178.6 1305.8h0M253.9 1229.4h0M202.8 1269.3h0M206.8 1277.7h0M187.8 1299.7h0M179.6 1304.1h0M230.7 1266.3h0M247.7 1259.7h0M277.9 1214.6h0M200.4 1285.5h0M198.9 1287.9h0M199.6 1286.1h0M197.8 1281.3h0M198.8 1281.7h0M180.6 1304.3h0M213.4 1265.8h0M226.5 1260.5h0M321.9 1166.3h0M221 1276.2h0M179.9 1306.5h0M199.7 1281.8h0M197.9 1304.3h0M207.6 1275.2h0M218 1267.4h0M210.6 1270.5h0M198.4 1280.4h0M397.9 1123.4h0M188.9 1297.3h0M248.6 1240.1h0M237.7 1243h0M247.8 1213.1h0M233.3 1279.2h0M288.7 1185.3h0M185 1296.5h0M181.3 1306.2h0M278.5 1234.8h0M316.7 1166.1h0M225.8 1249.3h0M259.5 1241.1h0M187 1297.6h0M225.8 1279.2h0M199.9 1281.4h0M188.3 1302.8h0M178.5 1298.5h0M197.6 1292.4h0M189.7 1288.1h0M245.6 1237.9h0M195.3 1290.1h0M221.6 1260.6h0M207.5 1272.7h0M194.8 1293.7h0M180.3 1304h0M252.2 1257.8h0M206.4 1279.8h0M231.8 1250.1h0M195.2 1284.9h0M179.9 1303.9h0M181.1 1300.6h0M206.4 1287.2h0M214.5 1285.7h0M226.9 1273.7h0M215.4 1269.1h0M184.4 1303.6h0M229.7 1279.4h0M204 1286.3h0M192.5 1301.1h0M180.4 1304.5h0M190 1292.8h0M219.2 1266.4h0M189.1 1293h0M239.8 1248.8h0M178.7 1305.2h0M198.5 1285.6h0M181 1304.4h0M213.2 1278.6h0M181.6 1305.4h0M179 1303.6h0M203.1 1280.2h0M217.3 1283.2h0M213.8 1271.3h0M270.2 1207.5h0M271.2 1222.8h0M656.2 864.9h0M614 894.7h0M557 918.6h0M582 921.2h0M555.1 928.5h0M530.1 925.2h0M553.3 973h0M529.4 981.1h0M494.1 975.2h0M509.2 996.5h0M493.4 998.8h0M463.2 997.3h0M447.8 1006.8h0M443 1017.9h0M477.9 1014.9h0M477.9 1022.3h0M468.7 1026h0M473.5 1034h0M443.7 1035.1h0M428.3 1035.9h0M464.3 1043.2h0M400.7 1049.5h0M465.1 1059.8h0M408.1 1073.8h0M417.3 1081.1h0M426.5 1076.7h0M448.5 1080h0M418 1092.1h0M386 1078.2h0M379.8 1081.1h0M396.3 1095.8h0M384.2 1096.5h0M398.9 1101.3h0M414.3 1111.2h0M421 1125.2h0M383.5 1114.2h0M378.7 1119.7h0M367.6 1112.4h0M354.8 1117.1h0M373.2 1123.4h0M375 1128.9h0M380.5 1134.4h0M371.3 1147.3h0M386.8 1144.3h0M380.5 1148h0M362.1 1131.5h0M365.8 1139.9h0M352.9 1133.7h0M196 1206.5h0M247.1 1182.2h0M292.3 1153.5h0M186.8 1245.4h0M266.5 1291h0M220.6 1298.8h0" stroke="#828282" stroke-width="4.1" stroke-linecap="round" fill="none" />
<path d="M421.7 1168.6h0M377.6 1193.2h0M377.6 1207.2h0M358.5 1231.5h0M316.2 1232.9h0" stroke="#1414d2" stroke-width="5.4" stroke-linecap="round" fill="none" />
<line x1="167.6" y1="1317.3" x2="675.7" y2="813.9" stroke-width="2.5" stroke="#000" />
<path d="M167.6 1191.5L548.7 813.9" stroke="#000" stroke-width="1.75" fill="none" stroke-dasharray="51.5 27" clip-path="url(#clRGL)"/>
<path d="M167.6 1443.1L675.7 939.8" stroke="#000" stroke-width="1.75" fill="none" stroke-dasharray="51.5 27" clip-path="url(#clRGL)"/>
<clipPath id="clRGL"><rect x="167.6" y="813.9" width="508.1" height="503.4"/></clipPath>
<rect x="167.6" y="813.9" width="508.1" height="503.4" fill="none" stroke="#000" stroke-width="1.7"/>
<path d="M167.6 1317.3h-7.5M167.6 1317.3v6M167.6 1254.4h-5M233.5 1317.3v3.5M167.6 1191.5h-7.5M294.6 1317.3v6M167.6 1128.5h-5M360.5 1317.3v3.5M167.6 1065.6h-7.5M421.6 1317.3v6M167.6 1002.7h-5M487.6 1317.3v3.5M167.6 939.8h-7.5M548.7 1317.3v6M167.6 876.8h-5M614.6 1317.3v3.5M167.6 813.9h-7.5M675.7 1317.3v6" stroke="#000" stroke-width="1.6" fill="none"/>
<text transform="translate(154.4,1329.2)" font-size="28.6" text-anchor="end">0.0</text>
<text transform="translate(154.4,1197.4)" font-size="28.6" text-anchor="end">1.0</text>
<text transform="translate(154.4,1072.9)" font-size="28.6" text-anchor="end">2.0</text>
<text transform="translate(154.4,949.2)" font-size="28.6" text-anchor="end">3.0</text>
<text transform="translate(154.4,824)" font-size="28.6" text-anchor="end">4.0</text>
<text transform="translate(172.8,1352.4)" font-size="28.6" text-anchor="middle">0.0</text>
<text transform="translate(293,1352.4)" font-size="28.6" text-anchor="middle">1.0</text>
<text transform="translate(419.1,1352.4)" font-size="28.6" text-anchor="middle">2.0</text>
<text transform="translate(554.4,1352.4)" font-size="28.6" text-anchor="middle">3.0</text>
<text transform="translate(673.9,1352.4)" font-size="28.6" text-anchor="middle">4.0</text>
<text transform="translate(417.3,796.2) scale(1,1.04)" font-size="34.2" text-anchor="middle">RGL</text>
<text transform="translate(196.7,865.3) scale(1,1.04)" font-size="34.4">r = 0.981</text>
<text transform="translate(196.7,907.2) scale(1,1.04)" font-size="34.4">p = 0.000</text>
<text transform="translate(395.2,1150.2) scale(1,1.04)" font-size="26.6" style="font-style:italic">PCP4</text>
<text transform="translate(352.9,1187.7) scale(1,1.04)" font-size="26.6" style="font-style:italic">AGT</text>
<text transform="translate(315.4,1221.9) scale(1,1.04)" font-size="26.6" style="font-style:italic">CCK</text>
<text transform="translate(383.1,1239.2) scale(1,1.04)" font-size="26.6" style="font-style:italic">NPAS4</text>
<path d="M906.1 1237.7h0M854 1297.7h0M845.1 1299.7h0M880.6 1254.3h0M847.8 1303.7h0M870.7 1291.3h0M845.9 1300h0M863 1301.7h0M851.8 1296.3h0M865.4 1295.3h0M847.8 1304.9h0M846.4 1299.6h0M866.9 1278.7h0M848.7 1306.5h0M862.5 1306.4h0M871.4 1288.2h0M865.2 1281h0M880.1 1267.6h0M861.5 1272.4h0M846 1299.2h0M920.6 1213.8h0M937.9 1257.3h0M851.3 1287.1h0M847.1 1303.3h0M846.8 1278.6h0M849 1306h0M878.2 1271h0M854.8 1282.2h0M983.5 1145.9h0M864.1 1284h0M874 1263.9h0M859.3 1286.9h0M850.8 1302.6h0M881 1267.7h0M894.5 1216.8h0M847.9 1303.9h0M872.1 1282.3h0M845.4 1298.7h0M846.2 1305h0M918.4 1258h0M859.6 1287h0M849.7 1295.4h0M885.1 1267.6h0M874.5 1282.9h0M866.5 1297.4h0M864.9 1273.1h0M876.6 1275.5h0M856.1 1301h0M848 1303.4h0M861.5 1278.9h0M881.5 1280.8h0M895.1 1282.6h0M962.9 1171h0M843 1302.8h0M852.1 1304.9h0M844.1 1305.3h0M849.6 1303.1h0M846.1 1280.1h0M925.6 1252.5h0M873.9 1271.1h0M862 1295.8h0M848.2 1305.6h0M884.4 1259.1h0M980.2 1202.4h0M929.2 1207.4h0M880.5 1258.7h0M874 1278.6h0M847.2 1306.4h0M877.5 1263.5h0M848.2 1304.1h0M846.2 1296.6h0M858.7 1303.9h0M854.2 1303.4h0M872.7 1273h0M868.7 1279h0M849 1292.7h0M898.4 1232.1h0M859 1286.7h0M845.5 1300.6h0M846.8 1302.9h0M863.3 1300.8h0M849.6 1298.5h0M842.6 1302.9h0M865.8 1261.8h0M844.6 1289.2h0M843.9 1289.1h0M910.1 1224.4h0M857.6 1293.3h0M864.5 1268.5h0M846.8 1303.5h0M951 1233h0M857.6 1275.4h0M947.3 1190.7h0M943.2 1222.3h0M897.7 1285.4h0M883.5 1267.9h0M867.1 1290h0M845.4 1294.6h0M862.6 1274h0M857.3 1286.4h0M861.5 1300.9h0M876.9 1266.5h0M879.5 1278.8h0M907.5 1234.2h0M851.6 1300h0M886.2 1238.2h0M860.2 1290.8h0M979.4 1184.3h0M848.2 1299h0M899.1 1222.7h0M845.7 1304.1h0M863.9 1284.2h0M1008.8 1170.9h0M927.2 1254.1h0M848.2 1296.4h0M856.2 1289.5h0M976.7 1168.2h0M874.6 1275.4h0M844.5 1306.1h0M913.6 1265.4h0M863.8 1279.1h0M890 1262.9h0M908 1256.6h0M904.9 1261.6h0M871.1 1288.5h0M852.7 1302.7h0M868.1 1282.5h0M851.4 1293.1h0M874.8 1287.3h0M889 1259.9h0M867.6 1275.8h0M1008 1101.2h0M930.2 1224.1h0M925.3 1224.9h0M891.8 1281.8h0M883 1253h0M941.6 1201.7h0M846.1 1298.7h0M885.4 1258.9h0M848.9 1304.5h0M871.8 1287.4h0M870.6 1296.8h0M892 1277.3h0M882 1267.7h0M858.9 1292.2h0M870.1 1281.8h0M882.8 1275.8h0M865.2 1280.4h0M844.5 1294.6h0M872.8 1288.1h0M875.8 1274.4h0M856.7 1292.6h0M913 1235.7h0M846.4 1298.7h0M906.5 1253.1h0M856.4 1286.3h0M996.2 1145.5h0M891.4 1252.1h0M871.6 1257.2h0M842.7 1304.2h0M969.6 1169.3h0M935.9 1207.7h0M847.6 1297.6h0M851.6 1278.9h0M856.9 1280.3h0M878 1267h0M842.2 1305.6h0M863.2 1285.4h0M850.2 1298.9h0M842.8 1305.2h0M879 1275.9h0M882.1 1266.4h0M850.2 1283.6h0M940 1214h0M859.6 1286h0M853 1297.9h0M867.4 1274.2h0M887.6 1267.4h0M877.1 1267.3h0M843.2 1302.7h0M873.3 1256h0M842.8 1295.7h0M846.3 1302.9h0M900.2 1254.6h0M989.4 1118.3h0M910.1 1229.4h0M842.6 1304.6h0M857.7 1299.1h0M860.9 1277.7h0M869.5 1270.7h0M878.4 1247.7h0M858.9 1278.4h0M906.7 1234.2h0M851 1296.9h0M866.7 1303.3h0M895.3 1284.8h0M846.9 1296.2h0M844.4 1304h0M858.2 1305.9h0M851.2 1304.6h0M867.6 1263.8h0M903.5 1237.5h0M866.1 1274.2h0M879.1 1260.7h0M860.4 1271.3h0M862 1279.7h0M875.2 1257.1h0M853.4 1288.4h0M850.4 1298.9h0M844.2 1304.9h0M903.9 1252.3h0M878.1 1248.8h0M993.8 1156.3h0M878 1278.4h0M873 1265.3h0M845.6 1306.2h0M845.4 1299.1h0M843.3 1303h0M872 1294.5h0M868.3 1270.6h0M843.5 1304.1h0M861.4 1300.3h0M863 1270.5h0M859.1 1281.7h0M885.8 1276.9h0M851.8 1292.6h0M888.8 1261.6h0M851.5 1288.7h0M881.6 1299.6h0M847.2 1303.5h0M941.1 1220.5h0M852.2 1303.4h0M878.8 1275.5h0M857.4 1282.6h0M858.2 1276.4h0M885.6 1275.5h0M853.2 1304h0M843.6 1304.4h0M870.3 1274.4h0M880.8 1265.2h0M849.5 1291.8h0M885 1263.6h0M879.8 1274.1h0M881.9 1238.7h0M855.8 1290.1h0M853.5 1288.7h0M864.7 1282.3h0M845 1302.8h0M851.3 1285.4h0M858.8 1288.6h0M850.8 1274.3h0M847.9 1292.6h0M861.1 1287.7h0M862.5 1271.4h0M843.1 1302h0M850.8 1267.1h0M850.7 1292.4h0M855.1 1301.7h0M845.2 1297.7h0M846.2 1297.5h0M864.9 1281.4h0M892.8 1271.2h0M866.7 1299.4h0M847.8 1292.6h0M843.2 1304.5h0M847.8 1300.7h0M869.9 1282.6h0M845.4 1301.7h0M878.9 1271.9h0M885.4 1277.5h0M861.1 1275.6h0M964.5 1195.6h0M845.9 1290.4h0M891.8 1226.1h0M862.1 1288.1h0M861.6 1277.7h0M867.5 1281.3h0M856.3 1299.7h0M866.2 1258.7h0M857.1 1293h0M853 1297.1h0M862.9 1293.9h0M854.6 1292h0M864.9 1285.6h0M850 1302h0M880.8 1266.8h0M845.7 1304.4h0M882.8 1247.8h0M863.6 1286.7h0M866.3 1257.6h0M850.8 1302.3h0M847.1 1305.3h0M849.6 1305.6h0M853.3 1297h0M842.5 1301h0M946.8 1191.4h0M877.9 1281.1h0M863 1285.6h0M860.9 1298.4h0M887.8 1270.6h0M843.7 1306h0M878.1 1290.1h0M873.2 1257.3h0M892.2 1253.3h0M1004.5 1159.2h0M854.4 1290.9h0M855.3 1304.2h0M879 1255.4h0M869.7 1285.7h0M903.2 1247.7h0M874 1281.4h0M900 1239.1h0M920.2 1211h0M861.4 1296.6h0M859.7 1274.5h0M858.4 1270.2h0M864.4 1274.2h0M855.2 1292.9h0M846.3 1304h0M844.6 1297.5h0M842.8 1304.5h0M842.5 1303.5h0M936.8 1248.5h0M883.2 1259h0M848.4 1306h0M857.8 1304.1h0M1007.3 1141.5h0M861.1 1304.6h0M845.6 1302.4h0M863.2 1289.1h0M849.6 1293.9h0M952.6 1197.7h0M861 1305.4h0M845.9 1299.8h0M855.6 1306h0M867.8 1281.2h0M859 1287.5h0M858.8 1285.2h0M849.6 1296.9h0M916.5 1248.3h0M846.1 1303h0M843.7 1303.8h0M845.8 1303.5h0M980.8 1181.5h0M890.8 1249.1h0M855.9 1300.2h0M848.9 1304.8h0M874 1275.4h0M894.5 1255.5h0M856 1291.7h0M886.3 1255.2h0M868.5 1285.2h0M845.1 1297.2h0M876.9 1297.5h0M918.2 1265.9h0M892.7 1282.3h0M869.5 1279.5h0M851.7 1292h0M857.5 1298.8h0M846.5 1296.1h0M847.9 1303.2h0M899.7 1219.4h0M910.2 1236.7h0M909.5 1246.3h0M935.1 1231.6h0M867.9 1282.8h0M945.3 1183.8h0M889.2 1259.6h0M885.3 1278.3h0M857.8 1287.6h0M871.6 1279.9h0M843.5 1304.9h0M843.4 1300.9h0M938.3 1190.9h0M878.9 1285.4h0M917.1 1223.8h0M853 1305.7h0M975.7 1176.4h0M933.6 1252.4h0M885.9 1267.9h0M842.2 1298.8h0M865.9 1270.3h0M859.4 1290h0M863.4 1286.7h0M844.2 1290.7h0M842.7 1299.7h0M850 1302.4h0M851 1300.1h0M861.8 1294.2h0M892.1 1285.8h0M845.4 1286.4h0M847.2 1306.5h0M898.1 1239.9h0M867.7 1274.9h0M849.4 1292.8h0M844.6 1296.5h0M850.1 1297.2h0M871.8 1282.2h0M851.7 1304h0M851.7 1296.4h0M846.2 1305.6h0M898.1 1256.1h0M1015.9 1128.2h0M876.2 1258.5h0M857.2 1285.7h0M866.3 1303.4h0M853.8 1290.6h0M857.8 1297.4h0M848.3 1305.5h0M857.2 1289.9h0M926.9 1254.7h0M857.5 1304.2h0M847.2 1303.5h0M884 1265.5h0M864.4 1271.8h0M870.2 1265.5h0M870.9 1269.9h0M900.6 1263.9h0M888.4 1243.6h0M864.1 1264.9h0M848.3 1293.3h0M948.7 1173h0M868.8 1278.8h0M845.3 1302.8h0M847.1 1300.2h0M915.1 1224.2h0M913.4 1239.4h0M852.8 1299.6h0M880.8 1268.3h0M844.7 1305.9h0M842.2 1301h0M857.6 1299.5h0M842.5 1294.7h0M863.5 1304.1h0M859.8 1296.1h0M858.5 1296.1h0M864.1 1278.3h0M861.5 1288.1h0M871.5 1277h0M848.7 1286.7h0M868.5 1259.5h0M977.8 1165.4h0M853.1 1297.2h0M911.4 1230.2h0M862.3 1296.7h0M915.2 1222h0M846.5 1294.3h0M872.3 1271.1h0M862.4 1292.8h0M871.8 1261.7h0M863.3 1301.5h0M859.2 1292.1h0M862.6 1283h0M862.3 1305.5h0M864.3 1286.2h0M855.3 1282.4h0M902.9 1256.2h0M883.5 1275.3h0M865.6 1271.9h0M842.1 1305.9h0M846.3 1303.9h0M867.2 1269.4h0M857.3 1298.4h0M951.6 1182.1h0M844 1304.5h0M881.5 1288.5h0M888.2 1255.2h0M861.4 1290.5h0M884.1 1259.5h0M935.3 1230.2h0M847.5 1305.4h0M945.6 1202.9h0M902.8 1244.1h0M843.4 1304.1h0M883.9 1251.1h0M849 1295.2h0M929.2 1232.6h0M912.5 1216h0M874.5 1288.4h0M894.6 1223.3h0M875.6 1274.2h0M878.2 1263.8h0M845.9 1304.1h0M848.2 1301h0M855.2 1274.5h0M877.9 1279.7h0M861 1298.3h0M842.1 1303.4h0M859.9 1295.8h0M897.7 1265.6h0M893.6 1255.9h0M871.8 1262.8h0M919.7 1241.5h0M846 1304.3h0M842.9 1294.3h0M848.2 1304.5h0M891.6 1269.1h0M894 1272.2h0M853.1 1282.8h0M874.6 1275.1h0M940.8 1223.4h0M847.4 1302.1h0M878.8 1249.2h0M843.2 1304.4h0M861.6 1280.3h0M848.6 1299.2h0M852.9 1301.6h0M912.7 1250.6h0M893.9 1261.1h0M850.9 1304.7h0M865 1305.3h0M875.9 1279.7h0M866.2 1276.3h0M844.9 1295.9h0M865.2 1298.6h0M854.9 1294.5h0M863.8 1276.5h0M854.3 1297.7h0M854.1 1295.1h0M1023.2 1132.1h0M866.6 1282.5h0M923.4 1211h0M844.9 1297.6h0M850.3 1297.6h0M870.4 1267.8h0M854.1 1296.6h0M903.2 1256.6h0M855 1302.6h0M956.2 1186h0M917.2 1221.2h0M850 1303.6h0M867.3 1287.1h0M892.6 1250.3h0M857.8 1281.9h0M844.7 1288.3h0M1000.7 1190.3h0M919.9 1240.1h0M883.3 1250.6h0M847.5 1304.5h0M880.6 1245.9h0M853.4 1287h0M886.6 1272.4h0M872.8 1285.3h0M848.6 1301.5h0M869.3 1279h0M918.8 1218h0M844.9 1295.2h0M869.8 1305.9h0M880.6 1284.3h0M879.3 1243.8h0M867.9 1294.2h0M844.8 1297.4h0M868.6 1267.5h0M846.9 1290h0M902.2 1261.6h0M967.6 1176h0M844 1292.8h0M844.1 1303.8h0M943 1215.4h0M853.7 1298.2h0M860 1278.6h0M905.2 1238.6h0M940.7 1220h0M845.9 1303.4h0M846.6 1288.5h0M853.7 1295.8h0M850.5 1292.3h0M888.4 1253.6h0M846.4 1298.2h0M842.5 1304.8h0M854.4 1288.4h0M843.4 1303.2h0M846.1 1304.7h0M844.9 1300.1h0M885.4 1250.4h0M971.5 1183h0M849.2 1301.4h0M874.3 1270.7h0M891 1254.1h0M848.9 1303.6h0M844.3 1306.2h0M878.6 1250.9h0M849.7 1298.3h0M875.2 1270.6h0M849.5 1292.8h0M843.1 1303.2h0M860.3 1304.7h0M909 1237.4h0M905.6 1276.2h0M847.8 1304.6h0M884.2 1272.1h0M854.3 1290.4h0M866.7 1282.6h0M859.8 1293h0M928.1 1245.2h0M882.2 1284.3h0M857 1263.3h0M937.8 1214.4h0M850.8 1300.6h0M844.4 1294.4h0M848.6 1303.4h0M969.6 1155.5h0M860.1 1283.8h0M845 1299h0M845.4 1304.4h0M908.5 1234h0M886.5 1274.9h0M870.3 1284h0M888.5 1269.2h0M869.6 1264.8h0M864.7 1284.5h0M854.6 1287.2h0M866.4 1241.1h0M875.5 1293.3h0M859.2 1292h0M850 1303.6h0M860.4 1302.1h0M844 1306h0M856.8 1294.7h0M874.7 1285.3h0M872.8 1293.4h0M860.1 1264.7h0M904.5 1248.1h0M872.9 1270.1h0M858.8 1275h0M856.4 1299.7h0M863.8 1295.4h0M864.9 1278.1h0M852.1 1295.4h0M881.9 1264.2h0M842.7 1304.3h0M881.7 1259.3h0M848.4 1301.3h0M935.2 1230.5h0M903.1 1253.6h0M856.3 1280.7h0M855.6 1289.4h0M856.8 1275.9h0M879.2 1258.3h0M845.6 1303h0M891.5 1256.2h0M877.1 1265.5h0M1002.3 1164.3h0M892.9 1224.1h0M842.5 1303.8h0M845.5 1299.9h0M885.1 1268.8h0M871 1285.3h0M918.2 1228.6h0M858.6 1289.2h0M849.5 1291.2h0M890.7 1242.5h0M871.7 1282h0M862 1282.6h0M854.4 1286.4h0M940.1 1206.9h0M848.3 1301.2h0M842.2 1299.8h0M874 1280h0M919.2 1208.2h0M863.8 1259.5h0M862.8 1291.9h0M890 1258.7h0M862.7 1296.7h0M845.6 1304.5h0M851.8 1296.6h0M888.2 1269.5h0M880.4 1261.9h0M845.2 1299.1h0M846.1 1305.3h0M896.1 1263.9h0M978.7 1201.2h0M859.3 1281.7h0M849.7 1293.2h0M856.1 1281.8h0M890.8 1238.1h0M866.5 1305.7h0M865.1 1274.7h0M847.1 1303h0M854.5 1286.6h0M945.9 1228.5h0M926 1244.3h0M876.9 1254.4h0M856.7 1295.4h0M856.9 1294h0M844.9 1304.2h0M889 1253.9h0M847.3 1299.3h0M925.1 1188.3h0M843.7 1300.6h0M866.3 1290.5h0M880.4 1284.5h0M876.7 1263.7h0M897.2 1270h0M887.7 1284.3h0M858.6 1287.2h0M843.7 1305.6h0M853.1 1291.7h0M870 1288h0M888 1272.5h0M846.7 1293.6h0M842.8 1305.4h0M886.2 1246.1h0M845.3 1303.8h0M854.5 1298.6h0M851.3 1299.9h0M869.7 1274.8h0M864.1 1276.2h0M843.7 1305.5h0M872.7 1288.7h0M853.5 1297.4h0M855.5 1302.2h0M953.7 1175.2h0M845.1 1304.9h0M852.2 1292.3h0M864.2 1272.2h0M849.8 1292.1h0M908.9 1262.8h0M870.6 1299.9h0M844 1301.5h0M853.1 1293.7h0M884.8 1263.8h0M850.4 1284.2h0M843.9 1292.4h0M901.8 1230.6h0M843.9 1303.8h0M883 1302.7h0M897 1247.6h0M843 1305.1h0M851.1 1305.7h0M846.5 1299.9h0M843.5 1295.3h0M876.4 1255h0M922 1242h0M844 1300.1h0M845.2 1304.3h0M850.1 1288.5h0M1027.7 1152.2h0M859.1 1285.4h0M856.2 1290.4h0M847.1 1305.8h0M851 1295.9h0M925.3 1232.4h0M855.8 1292.5h0M863.1 1295.9h0M900.1 1232.6h0M853.6 1306.2h0M899.7 1263.1h0M894.1 1247.8h0M865.8 1282.4h0M879.3 1269.7h0M857.9 1304.1h0M850.5 1283.7h0M866.8 1273.9h0M848 1288.5h0M865.3 1286.2h0M854.4 1303h0M854 1272h0M887.2 1261.4h0M851.7 1299h0M856.9 1289.1h0M880.6 1272.4h0M954.4 1178.6h0M928 1202.3h0M915.3 1218.2h0M845.7 1297.3h0M915.3 1256.2h0M930.3 1227.8h0M862.6 1260.1h0M890.2 1253.4h0M848.8 1293.5h0M845.9 1298.2h0M889.1 1267.8h0M867.5 1257.9h0M845.9 1295.4h0M842.2 1295.5h0M861.2 1300.6h0M882.6 1257.1h0M868.5 1305h0M877.7 1263h0M928.2 1228.3h0M882.7 1251.6h0M849.2 1265.4h0M845.4 1304.8h0M863.1 1286.5h0M845.9 1294.9h0M846 1294.7h0M862.2 1263.5h0M856.6 1287.2h0M846 1300h0M852.3 1305.1h0M890.2 1272.6h0M901.9 1259.2h0M892.5 1269.1h0M876 1262.4h0M868.5 1297.8h0M931.6 1236.3h0M848.1 1299.8h0M848.6 1303.2h0M848.8 1304.7h0M1001.5 1178.9h0M844.5 1292.9h0M1033.5 1156.7h0M855 1285h0M905.8 1261.1h0M854.2 1297.2h0M845.3 1304.5h0M850.4 1294.9h0M842.7 1306h0M871.6 1283.7h0M878.6 1250.5h0M895.1 1265.8h0M869.8 1265.2h0M843.7 1300.2h0M866 1291.9h0M874.1 1271.6h0M862.5 1298.7h0M850.7 1297.5h0M857.5 1305.8h0M845.9 1292.2h0M893.3 1234.1h0M894.4 1273.7h0M844 1287.6h0M856.5 1303.6h0M851.7 1290.9h0M905 1246.7h0M851.8 1288.2h0M848 1294.6h0M917 1229.7h0M853.9 1302.5h0M851.9 1292.8h0M864.7 1249.6h0M865.8 1274.8h0M844.5 1301.5h0M913.8 1245.7h0M843.1 1303h0M882.7 1276.2h0M844.2 1305h0M913.3 1210h0M857.8 1299.8h0M842.7 1281.7h0M887.2 1254.8h0M846.5 1304.6h0M873.9 1291.8h0M869.4 1278.3h0M878.7 1223.4h0M886.4 1267.4h0M966.3 1171.4h0M902.8 1264h0M858.7 1274.9h0M910.3 1235.7h0M933.4 1173.7h0M939.4 1185.2h0M855.7 1300.5h0M905.1 1240.9h0M846.6 1297.8h0M864.3 1272.5h0M864.2 1301.3h0M866.6 1275.4h0M926.6 1215.8h0M868.6 1289.5h0M842.8 1304.5h0M849.8 1286.2h0M861.9 1280.3h0M843.3 1299h0M859.8 1287.5h0M842.5 1299.9h0M847.1 1297.9h0M885.5 1236.1h0M863.3 1277.7h0M844.8 1301.4h0M851 1305.5h0M848.7 1302.8h0M915.5 1236.7h0M905 1273.2h0M903.3 1210.3h0M960.5 1182.7h0M908.6 1227.7h0M851.2 1289.9h0M843.1 1295.8h0M868.7 1298.2h0M861.1 1275.6h0M852.7 1305.2h0M944.3 1222.6h0M848.9 1292.4h0M906.8 1228.4h0M853.6 1301.8h0M955 1166.5h0M892.1 1243.9h0M843.5 1305.9h0M844.7 1306h0M865.4 1287.7h0M902.8 1264.8h0M990.8 1187.1h0M923.4 1199.5h0M849.3 1299.5h0M868.1 1292.1h0M907.3 1235.3h0M870.9 1277.6h0M843 1300.1h0M901.3 1271.4h0M869.6 1278.6h0M864.8 1256.8h0M997.6 1157.9h0M904.1 1231.4h0M868.6 1274.5h0M845.7 1288.1h0M856.1 1301.7h0M912 1255.4h0M853.1 1299.1h0M940.1 1199.3h0M1003.4 1123.6h0M951.7 1194.8h0M865.9 1282h0M856.1 1290.5h0M866.8 1278h0M871.4 1281.8h0M857.4 1285.6h0M864.5 1290.1h0M882.4 1273.3h0M862.5 1285h0M924.9 1242.8h0M866.8 1281.4h0M992.5 1103.8h0M979.5 1176.8h0M979.7 1197.7h0M866.2 1269.1h0M854.3 1305.2h0M889.4 1280.9h0M962.5 1167.9h0M863.2 1275h0M920.7 1211.5h0M859.6 1291.1h0M863.4 1274.2h0M856.3 1303.1h0M850.7 1290.6h0M843.6 1293.5h0M861.4 1265.4h0M920.8 1221.7h0M937.4 1192.5h0M939.2 1187.5h0M916.7 1226.9h0M857.9 1287h0M863.4 1283.9h0M865.5 1304.6h0M872.9 1287.8h0M879.5 1288.5h0M860.2 1275h0M851.2 1280.4h0M854.8 1286.9h0M865.1 1304h0M918.6 1208.3h0M889.7 1256.2h0M956.5 1210h0M844.3 1305.6h0M862.6 1276.4h0M845.6 1303h0M877.3 1273.6h0M842.8 1286.1h0M866.5 1278.7h0M862.6 1293.6h0M848.7 1304.8h0M961.4 1175.1h0M894.8 1263.2h0M920.4 1249.2h0M864.9 1287.2h0M932.8 1212.5h0M869.8 1275.2h0M940.3 1191.6h0M866.4 1284.3h0M868.2 1287.9h0M895.9 1236.9h0M859.3 1279.8h0M844 1298.7h0M882 1272.4h0M855.1 1300.9h0M878 1250h0M843.8 1296.5h0M868.7 1301.5h0M849.8 1285.8h0M907.4 1249h0M846.4 1306h0M894.3 1262.3h0M858.5 1259.2h0M845.1 1306.3h0M871.4 1292.5h0M875.6 1269.2h0M862.9 1289h0M879.2 1253.2h0M861.6 1290.8h0M879.8 1278.6h0M870 1266.3h0M847.5 1289.2h0M845.9 1300.6h0M854.3 1302.8h0M845 1304.7h0M855.3 1305.7h0M860.4 1284.6h0M870.4 1272.4h0M932.7 1243.3h0M891.3 1263.2h0M843.4 1301.4h0M969.8 1156.1h0M865.5 1285.9h0M857.6 1288.8h0M944.3 1239.7h0M881.4 1265.9h0M871.3 1275.8h0M861.8 1304h0M844.6 1303.1h0M867.4 1283.5h0M844.4 1305.9h0M847.2 1287.7h0M850.5 1299.9h0M886.4 1241.9h0M853.1 1301.3h0M846.5 1299.9h0M884.1 1255.3h0M964.7 1206.8h0M848.3 1303.1h0M887.6 1228.5h0M849.1 1287.2h0M848.8 1297.5h0M877.5 1270.7h0M857.8 1298.9h0M863.3 1303.9h0M845.2 1284h0M930.5 1210.7h0M967.5 1166.8h0M849.2 1298.7h0M845.3 1279.6h0M922.8 1208.5h0M918.4 1211.7h0M884.4 1259h0M899.1 1256.9h0M896.3 1273.1h0M859.3 1294.4h0M927.3 1200.7h0M848.7 1293.1h0M845.4 1279.3h0M847.5 1304.9h0M881 1255.8h0M847 1289.1h0M842.8 1302.3h0M913.2 1227.9h0M849.5 1291.2h0M898 1210.6h0M855.5 1300.4h0M876.4 1294.4h0M898.3 1240.6h0M852 1303.8h0M847 1305.5h0M845.8 1306.1h0M854.4 1304.1h0M849.5 1291.3h0M891.6 1254.9h0M881 1272.6h0M872.5 1287.2h0M845.1 1304h0M865 1280h0M852.2 1303.8h0M863.2 1282.3h0M846 1281.3h0M967.6 1156.5h0M898.8 1223.3h0M923.4 1244.9h0M854.8 1282.1h0M940.1 1172.3h0M1030.7 1156.7h0M867.5 1273.6h0M855.5 1305h0M859.2 1296.5h0M876.2 1264.8h0M882.5 1269.1h0M933.5 1211.6h0M868.7 1271.6h0M866.9 1286.2h0M857.4 1278.4h0M881.5 1261.4h0M891.9 1253.1h0M844.3 1293.3h0M889.6 1266.2h0M877.7 1301.9h0M844 1305.5h0M860.8 1301.9h0M854.5 1290.4h0M848 1287.7h0M843.1 1304.8h0M896.4 1264.1h0M883.8 1275h0M846.3 1301.4h0M873.1 1271.9h0M867.9 1277h0M953 1223.9h0M865.2 1269.5h0M864.5 1297.2h0M845.5 1302.9h0M868.2 1303.1h0M842.9 1291.1h0M867.2 1284.4h0M924.2 1222.7h0M873.1 1270.2h0M851.3 1305h0M842.4 1302.1h0M865 1280.5h0M858.3 1279.4h0M869.4 1284.9h0M856 1297.6h0M890.6 1252.2h0M931.2 1204.8h0M905.7 1265.4h0M873.7 1285.1h0M848.4 1294.7h0M866.3 1281.4h0M888.4 1281h0M860.6 1295.3h0M872.2 1285.7h0M907.7 1269.1h0M858.9 1293.2h0M846.6 1306.4h0M902 1262.3h0M886.2 1280h0M848.9 1294.6h0M843.1 1283.6h0M881.1 1268.3h0M848.6 1292.1h0M880.4 1251.5h0M860.2 1283.8h0M854.1 1304.6h0M898.1 1254.1h0M844.4 1295.2h0M925.6 1202.9h0M847.5 1302.9h0M870.5 1283.1h0M929.7 1231.2h0M900.1 1246.9h0M908.2 1228.6h0M863.8 1300.1h0M856.6 1274.7h0M942.3 1211h0M895.2 1248.6h0M846.8 1301.7h0M922.9 1242.5h0M879.3 1239.6h0M860.6 1288.2h0M952.3 1202.2h0M916.4 1221.1h0M889.7 1274.4h0M898.6 1285.1h0M843.3 1303.4h0M1006.5 1145.9h0M847.1 1301.9h0M879.9 1283.1h0M875.5 1278.2h0M843.1 1304.1h0M887.6 1241.8h0M858.6 1284.8h0M853.3 1306.3h0M855.9 1289.7h0M897.4 1264.3h0M971.5 1180.3h0M847.3 1302.6h0M919.2 1191.6h0M901.3 1239.4h0M856.8 1304.6h0M860.9 1287.4h0M854.4 1303.6h0M870.9 1283h0M880.8 1273.2h0M851.4 1286.4h0M860 1297.6h0M843.7 1304.9h0M1016.5 1116.8h0M847 1288.2h0M880.5 1269.9h0M854.7 1284.3h0M908.3 1267h0M971.7 1134.6h0M878.2 1262.8h0M844.6 1290.7h0M853.1 1285.8h0M908.2 1239.8h0M861.5 1303.9h0M858 1295.6h0M900.9 1255.6h0M888.6 1280.3h0M845.2 1305.4h0M880.2 1263.5h0M962 1164.6h0M849.1 1303.3h0M873.9 1276.6h0M874.7 1266.2h0M864.2 1282.3h0M916.4 1237.1h0M858.4 1277h0M867.2 1259.9h0M847.3 1296.2h0M912.5 1250.8h0M925.2 1215.6h0M863.4 1281.1h0M845.6 1303.3h0M888.4 1264.4h0M866 1287.7h0M865.9 1306.6h0M843.8 1302.7h0M848.2 1304.1h0M846.3 1299.3h0M855.7 1284.2h0M853.3 1305.2h0M855.5 1289.3h0M880.1 1271.1h0M842.4 1305.3h0M903.9 1268h0M856.4 1294.8h0M891 1276.8h0M852.2 1298h0M984.1 1205.9h0M899.5 1261.6h0M917.4 1243.8h0M858.9 1296h0M886.4 1267.1h0M845.9 1304.9h0M853.3 1297.7h0M861.8 1276.4h0M888 1288.3h0M855.8 1304.5h0M972.5 1177.2h0M874.8 1287.8h0M894 1256.3h0M873 1267.2h0M860.5 1306.5h0M875 1260.3h0M892.4 1260.1h0M849.4 1302.2h0M901.1 1236.6h0M976.8 1117.5h0M848.8 1296.7h0M896.6 1241.7h0M874 1299.3h0M857.5 1274.4h0M888.2 1258h0M875.8 1270h0M868.5 1278.4h0M948.8 1191.4h0M847.1 1304.9h0M895.8 1247.8h0M844.6 1305.4h0M898.7 1275.6h0M845.8 1305.4h0M1002.3 1144.2h0M855.7 1294.4h0M873.4 1284.5h0M879.9 1267.7h0M865.2 1293.3h0M870.4 1287.6h0M925.5 1243.8h0M922.9 1223.8h0M874.3 1271.2h0M849.9 1281.4h0M944.3 1190.6h0M893.8 1252.9h0M876.9 1290.2h0M844.3 1298.7h0M849.2 1298.2h0M907.9 1233.8h0M866.3 1299.9h0M876.9 1265.1h0M891.2 1249.9h0M867.2 1288.8h0M851.8 1281.9h0M845.3 1298.9h0M842.8 1304.5h0M866 1288.8h0M855.6 1302.5h0M926 1233.7h0M864.3 1291.5h0M860.8 1273.4h0M873.8 1251.6h0M852.8 1280.4h0M851.7 1284.2h0M876.4 1275.8h0M944.1 1215.4h0M892.2 1236.6h0M853.9 1291.3h0M859.9 1301.2h0M844.6 1303.5h0M846.5 1304.4h0M854.1 1304.9h0M859.4 1284.4h0M870.6 1281.4h0M887.8 1229.1h0M853.3 1305.8h0M865.8 1294.2h0M861.7 1269h0M851.2 1287.2h0M867.6 1257.3h0M886.3 1256.7h0M850.4 1297.5h0M891.1 1251.9h0M859.9 1270h0M987 1163.7h0M848.1 1289.5h0M846.3 1305.9h0M850.9 1289.6h0M866.5 1306.4h0M852.3 1285.3h0M852.5 1303.1h0M981.2 1153.9h0M857.6 1277.2h0M859.5 1278.5h0M887.9 1269.4h0M943.4 1192.1h0M849.8 1297.9h0M881.8 1262.8h0M905.4 1249h0M870.4 1261.7h0M898.8 1260.5h0M880.4 1270.2h0M874.6 1283.3h0M896.8 1264.9h0M866.4 1279h0M880.2 1292.2h0M859 1287.9h0M869.2 1301.7h0M899.1 1235.2h0M865.6 1269.6h0M864.2 1297.8h0M847.4 1292h0M856.2 1303.2h0M876.6 1259.5h0M851.8 1290.9h0M843.9 1295.5h0M1013.9 1177.3h0M879.7 1264.1h0M973.8 1163.2h0M961.1 1215.8h0M878 1279h0M849.3 1299.8h0M849 1305.9h0M890 1256.4h0M985.9 1148.5h0M963.5 1200.3h0M872.2 1262.8h0M857.1 1285.3h0M878.8 1280.6h0M900.7 1240.2h0M871.4 1278.8h0M862.8 1282.4h0M889.9 1282.6h0M878.2 1269.8h0M972.6 1137.5h0M843.3 1303h0M842.2 1298.3h0M896.1 1234.5h0M869 1280.4h0M913 1246.8h0M895 1267.5h0M847.3 1301.3h0M846.7 1296.5h0M849.4 1297.3h0M943 1229.3h0M871.7 1280.5h0M847 1304.5h0M863.4 1267.4h0M850.7 1297.3h0M876.1 1298.9h0M935.5 1205.2h0M880.4 1249.1h0M844.1 1290.8h0M852.1 1304.7h0M900.8 1236.5h0M845.7 1306.2h0M856.5 1294.4h0M855.2 1300h0M851.5 1294.4h0M864.7 1301.2h0M994.9 1145.2h0M881.2 1258.4h0M851.5 1290h0M860.2 1288.5h0M846.8 1304.6h0M851.6 1290.3h0M898.7 1282h0M847 1283.1h0M873.6 1276.4h0M982.6 1167h0M880.1 1257.9h0M870.1 1267.2h0M848.3 1297.2h0M892.5 1254.8h0M878.4 1302h0M868.9 1249.3h0M847.7 1280.2h0M867 1276.6h0M867.5 1284.7h0M849.7 1273.5h0M848 1294.8h0M842.8 1285h0M883.6 1265.6h0M870 1286.6h0M880.9 1255.2h0M863.3 1279.4h0M849.3 1296.3h0M939.8 1208.4h0M885.2 1271.5h0M877.9 1265.9h0M867.3 1289.4h0M860.9 1286.1h0M915.8 1208.6h0M854.7 1278.2h0M842.8 1305h0M842.4 1295.7h0M915.8 1232.9h0M865.5 1269.4h0M864 1278.3h0M918.9 1231h0M978 1214.6h0M873.6 1238.9h0M858.5 1301.4h0M1033.1 1134.1h0M858 1306.5h0M1033.4 1148.3h0M858.8 1289h0M853.9 1274.5h0M844.3 1304.7h0M875.1 1269.1h0M928.6 1228.8h0M862.3 1292.5h0M933.5 1202.2h0M850.3 1294.7h0M864.3 1295.6h0M848.2 1303.1h0M865.3 1280.2h0M846.5 1298.1h0M891.6 1249.8h0M854.2 1278h0M858.3 1298.4h0M852.9 1301.8h0M886.5 1261.8h0M862.9 1263.6h0M870 1287.8h0M842.7 1303.9h0M853.9 1275.4h0M859.2 1296.4h0M1022.8 1154.6h0M943.1 1208.2h0M845.1 1298.1h0M844 1298h0M877.7 1280.6h0M851.9 1279.9h0M882.6 1281.7h0M862.1 1287.8h0M847.8 1300.7h0M851.9 1292.1h0M856.3 1288h0M847.2 1297.1h0M851.8 1285.6h0M907.7 1254.9h0M853.4 1292h0M935.6 1213.5h0M863.9 1268.8h0M844.4 1306.1h0M859.2 1280.7h0M855.1 1303.8h0M845.6 1299.9h0M852.9 1291.7h0M842.3 1293.4h0M864.7 1295.7h0M870.5 1292.7h0M881.4 1272.6h0M876.9 1256h0M927.3 1237.3h0M883.2 1265h0M881.4 1292.2h0M869.3 1292.8h0M842.6 1286.7h0M844.4 1290.5h0M851.3 1290.1h0M870.3 1277.7h0M845.2 1297h0M967.5 1201.7h0M856.8 1303.7h0M865.9 1300.7h0M878.5 1269.2h0M891.3 1251.2h0M891.9 1269.2h0M845.1 1306.3h0M897.3 1230.3h0M915.3 1265.9h0M870.1 1302.3h0M1032.6 1136.7h0M846.8 1306.1h0M918.6 1233.7h0M949.3 1176.7h0M861.4 1283.7h0M909.7 1238.1h0M871.1 1269.9h0M857.2 1273.3h0M911.6 1217h0M845.9 1303.1h0M1253.3 851h0M1247.1 877.1h0M1238.6 887.4h0M1281.2 891.8h0M1241.5 914.6h0M1154.8 974.5h0M1164.3 982.2h0M1179 975.6h0M1165.1 995.4h0M1143 1005h0M1107.4 1017.9h0M1089 1026.7h0M1141.2 1027.1h0M1165.8 1025.2h0M1106.2 1040.7h0M1109.9 1038.8h0M1108.1 1046.2h0M1104.4 1046.9h0M1143.8 1056.8h0M1076.8 1061.6h0M1081.6 1060.9h0M1054 1074.1h0M1079.8 1074.5h0M1045.6 1087.4h0M1048.5 1087.4h0M1077.6 1092.9h0M1081.2 1097.6h0M1029.8 1105.4h0M1069.5 1106.5h0M1084.2 1113.8h0M1012.5 1115.3h0M1038.2 1121.5h0M1041.9 1120.4h0M1054 1122.6h0M998.5 1126.3h0M1065.1 1129.6h0M1016.2 1130.7h0M1049.3 1135.5h0M1039.3 1138.8h0M999.6 1138.1h0M1008.8 1137.4h0M971 1146.5h0M979.4 1143.6h0M956.2 1152.1h0M1015.1 1149.1h0M1024.6 1157.6h0M1310.3 840.3h0M873.9 1213.8h0M954.8 1249.5h0M975.7 1234.4h0M966.5 1237.4h0" stroke="#828282" stroke-width="4.1" stroke-linecap="round" fill="none" />
<path d="M888.2 1194.3h0" stroke="#dc1e14" stroke-width="5.4" stroke-linecap="round" fill="none" />
<path d="M1027.9 1194.3h0" stroke="#1414d2" stroke-width="5.4" stroke-linecap="round" fill="none" />
<line x1="831.3" y1="1317.3" x2="1339" y2="813.9" stroke-width="2.5" stroke="#000" />
<path d="M831.3 1191.5L1212.1 813.9" stroke="#000" stroke-width="1.75" fill="none" stroke-dasharray="51.5 27" clip-path="url(#clIPC)"/>
<path d="M831.3 1443.1L1339 939.8" stroke="#000" stroke-width="1.75" fill="none" stroke-dasharray="51.5 27" clip-path="url(#clIPC)"/>
<clipPath id="clIPC"><rect x="831.3" y="813.9" width="507.7" height="503.4"/></clipPath>
<rect x="831.3" y="813.9" width="507.7" height="503.4" fill="none" stroke="#000" stroke-width="1.7"/>
<path d="M831.3 1317.3h-7.5M831.3 1317.3v6M831.3 1254.4h-5M831.3 1191.5h-7.5M958.2 1317.3v6M831.3 1128.5h-5M831.3 1065.6h-7.5M1085.2 1317.3v6M831.3 1002.7h-5M831.3 939.8h-7.5M1212.1 1317.3v6M831.3 876.8h-5M831.3 813.9h-7.5M1339 1317.3v6" stroke="#000" stroke-width="1.6" fill="none"/>
<text transform="translate(816.9,1331.7)" font-size="28.6" text-anchor="end">0.0</text>
<text transform="translate(816.9,1197.9)" font-size="28.6" text-anchor="end">1.0</text>
<text transform="translate(816.9,1073.5)" font-size="28.6" text-anchor="end">2.0</text>
<text transform="translate(816.9,950.4)" font-size="28.6" text-anchor="end">3.0</text>
<text transform="translate(816.9,826.3)" font-size="28.6" text-anchor="end">4.0</text>
<text transform="translate(837.9,1352.4)" font-size="28.6" text-anchor="middle">0.0</text>
<text transform="translate(956.6,1352.4)" font-size="28.6" text-anchor="middle">1.0</text>
<text transform="translate(1083.5,1352.4)" font-size="28.6" text-anchor="middle">2.0</text>
<text transform="translate(1219.5,1352.4)" font-size="28.6" text-anchor="middle">3.0</text>
<text transform="translate(1339,1352.4)" font-size="28.6" text-anchor="middle">4.0</text>
<text transform="translate(1064,796.2) scale(1,1.04)" font-size="34.2" text-anchor="middle">IPC</text>
<text transform="translate(866.2,856.8) scale(1,1.04)" font-size="34.4">r = 0.925</text>
<text transform="translate(866.2,899.1) scale(1,1.04)" font-size="34.4">p = 0.000</text>
<text transform="translate(873.9,1181.5) scale(1,1.04)" font-size="26.6" style="font-style:italic">ID1</text>
<text transform="translate(1032.7,1185.9) scale(1,1.04)" font-size="26.6" style="font-style:italic">STMN4</text>
<path d="M197.4 1968.6h0M192.7 1946.8h0M184.7 1961.1h0M203.8 1971.9h0M213.1 1923h0M182.4 1977.2h0M211.8 1924h0M197.8 1959h0M183 1975.8h0M178.6 1984.4h0M200.4 1970.1h0M278.5 1864.6h0M242.9 1931.3h0M192 1947.4h0M242.6 1912.5h0M183 1976.6h0M193.9 1963.5h0M231.5 1890.1h0M179 1971.2h0M179.7 1971.5h0M216.8 1915.9h0M194.8 1967.4h0M238.7 1910.6h0M192.4 1962h0M220.5 1930.3h0M249.6 1904.6h0M351.4 1749h0M265.9 1884.4h0M186.5 1985.8h0M226.9 1883.5h0M182.6 1969.5h0M185.2 1962.5h0M178.9 1979.6h0M189.6 1973.4h0M242.5 1869.1h0M215.9 1902.7h0M179.7 1984.1h0M196.8 1937.3h0M180.1 1980.3h0M179.1 1977.5h0M232.4 1910.2h0M180.1 1978.6h0M199.9 1960h0M181.8 1975.2h0M326.1 1767.7h0M180.5 1980.9h0M186.9 1969.4h0M246.9 1907.6h0M179.9 1964.2h0M235.5 1909h0M179.5 1970.6h0M209.3 1912.8h0M190.1 1971.1h0M197.7 1948.8h0M189.8 1967.4h0M187.5 1965.9h0M184.1 1982.8h0M181.7 1972.8h0M214.2 1929.3h0M207.3 1927.9h0M216.2 1924.3h0M193.3 1947.2h0M212.6 1945.4h0M258.9 1906.9h0M198.5 1939h0M195.2 1936.8h0M183.2 1966.5h0M235.9 1920.3h0M179.8 1985.7h0M189.2 1972h0M274.5 1877h0M191.4 1982.3h0M181.3 1965.9h0M213.7 1926h0M279.8 1849.6h0M217.1 1935.4h0M267.9 1876.2h0M213.4 1934.2h0M197.6 1963.6h0M181.6 1975.4h0M197.6 1960.7h0M209.3 1952.6h0M206.6 1925.2h0M183.9 1980.7h0M188.8 1979.1h0M186.9 1955.6h0M304.8 1847.3h0M193.4 1934.2h0M205.9 1952.5h0M180.8 1978.3h0M182 1976.5h0M225.4 1916.4h0M182 1961.6h0M190.4 1974.5h0M184.8 1973.6h0M181 1983.9h0M181.6 1966.7h0M180.7 1975.5h0M179.7 1949.2h0M186.2 1982.8h0M195.6 1966h0M195.8 1951.1h0M194.7 1961.7h0M179.8 1979.3h0M184.4 1976h0M205 1953.6h0M190.3 1958h0M272.8 1874.9h0M189.6 1956.5h0M206 1939.8h0M190.4 1960.6h0M189.9 1963.8h0M224 1916.2h0M199.6 1961.3h0M187.3 1949.6h0M181.9 1980.8h0M211.5 1945.3h0M188.6 1972.3h0M180.1 1986.1h0M186.4 1976.2h0M196.1 1953.2h0M205.7 1937.7h0M180.7 1977h0M194.5 1945.4h0M204 1964.9h0M188.9 1971.7h0M191.1 1967.6h0M223.1 1913.2h0M233.7 1932.5h0M193.9 1934.1h0M228 1920.8h0M238.8 1888.6h0M190.2 1977.8h0M183.1 1984.5h0M196.8 1959.3h0M187.3 1973.8h0M215.4 1943.6h0M211.1 1916.1h0M207.8 1952.8h0M201.6 1938.7h0M195.3 1965h0M208.1 1927.8h0M200 1958.6h0M235 1898.6h0M219.8 1947.9h0M179.2 1982.7h0M256.7 1902.1h0M233.6 1891.1h0M247.3 1918.6h0M186.3 1972.6h0M191.8 1976h0M200.8 1966.5h0M198.8 1949h0M179.9 1983.7h0M185.5 1986h0M183.8 1966.5h0M265.5 1887.1h0M206.9 1930.2h0M195 1970.3h0M252.3 1912.6h0M236.1 1899.6h0M209 1943.6h0M280.1 1859.1h0M188.5 1968.3h0M182.8 1973h0M189.6 1974.9h0M179.9 1979.5h0M179 1985.3h0M200.2 1966.9h0M218.8 1927.9h0M188.6 1958.9h0M210.6 1917.4h0M213.4 1949.9h0M201.5 1966.7h0M202.8 1931.7h0M192.4 1960.4h0M349.3 1758.3h0M194.8 1965.1h0M193.8 1955h0M204.5 1950.4h0M276.2 1859.6h0M237.6 1909.3h0M194.5 1973.9h0M189.7 1969.9h0M212.9 1949.1h0M197.1 1960.6h0M190.5 1945.1h0M204.9 1950.1h0M211 1922.3h0M231.8 1933.3h0M188.5 1970.4h0M227.3 1910.2h0M183.8 1986.2h0M178.4 1966.4h0M179.1 1980h0M185.5 1958.9h0M185 1985.4h0M219.1 1942.5h0M204.6 1954.7h0M180.4 1982.4h0M235.6 1915.2h0M178.7 1977.8h0M182.6 1983.1h0M181.9 1984.8h0M179.6 1984.4h0M182 1980.2h0M215.4 1945.5h0M195.5 1969.8h0M180.5 1974.9h0M186.3 1975.8h0M184.3 1965h0M219.7 1943.8h0M184.4 1975.1h0M184.8 1965.9h0M255 1898h0M183 1971.3h0M213.3 1918.1h0M223.7 1933.1h0M187.4 1958h0M186 1959.7h0M221.3 1915.1h0M305.3 1806.1h0M280 1829h0M200 1927.5h0M182.5 1963.1h0M181.5 1962.2h0M189.7 1971.1h0M195.8 1963.7h0M238 1914h0M234.8 1900.5h0M216.8 1918.9h0M275.9 1845.8h0M209.6 1928.6h0M220.8 1943.7h0M224.7 1887.8h0M180.6 1974.7h0M191.9 1966.5h0M204.1 1946.8h0M222.4 1928.5h0M182.2 1982h0M247 1908.6h0M191.3 1947.7h0M300.2 1798.2h0M188.6 1970.1h0M193.1 1982.7h0M190.6 1960.1h0M195.4 1949.6h0M187.4 1985h0M211.5 1953.4h0M183 1986.1h0M182.9 1971.6h0M187.4 1965.5h0M218.8 1906.3h0M319.3 1813.8h0M211.1 1935.1h0M182.3 1975.3h0M212 1919.2h0M284.7 1869.2h0M182.3 1955.8h0M189.3 1957.5h0M197.9 1964.1h0M185.2 1971h0M183.6 1984.1h0M185.6 1982.3h0M187.5 1969.7h0M198.8 1964.1h0M194.4 1969.6h0M187.7 1961.9h0M199.4 1947.2h0M184.1 1967.8h0M188.9 1964.7h0M212.8 1919.2h0M190.1 1974.3h0M184.6 1980.4h0M222.4 1920.1h0M244 1894.4h0M182.2 1980.2h0M192.3 1974h0M206.4 1962.3h0M194 1944.8h0M179.5 1982.4h0M194.7 1940.2h0M199.1 1956.5h0M193.4 1962.7h0M221.5 1920.1h0M201.2 1928.5h0M180.4 1965.6h0M188.7 1972.6h0M217.6 1935.7h0M204.1 1921.2h0M180.3 1986.1h0M205.3 1946.8h0M182.7 1960.9h0M200.2 1931h0M201.6 1952h0M198.9 1956.3h0M226.1 1900.3h0M197.6 1958h0M246.5 1856h0M333.2 1756.8h0M189 1971.7h0M234.6 1926.1h0M198.1 1951.5h0M184.2 1972.3h0M186.7 1972.4h0M216.3 1930.8h0M214.5 1930.8h0M250 1917.2h0M180.8 1980.5h0M246.9 1881h0M202.4 1962.1h0M199.4 1953.8h0M184.5 1974.4h0M183.4 1981.1h0M180.1 1984.3h0M244.4 1903.7h0M185.6 1953.9h0M209.3 1925.2h0M192.4 1965.8h0M206 1947.2h0M184.4 1947.3h0M185 1966.7h0M193.7 1973.3h0M181.9 1962h0M197.9 1944h0M219.9 1936.7h0M184.8 1977.2h0M195.2 1946.2h0M191.8 1964.7h0M182.7 1981.7h0M257 1878.7h0M201.4 1960h0M204.6 1955.6h0M258 1864.4h0M187.4 1972h0M233.1 1895.8h0M179.1 1981.1h0M209.1 1942h0M182 1973.3h0M185 1985.9h0M263 1900h0M291.4 1827.4h0M193.5 1963.6h0M185.4 1970.6h0M221.1 1939.5h0M189.3 1969.3h0M187.7 1983.3h0M303.2 1823.7h0M179.4 1979.7h0M187.1 1937.8h0M195.2 1943.8h0M179.1 1970.5h0M229.9 1915.3h0M179.7 1983.6h0M209.8 1945.5h0M182.2 1958.3h0M198.2 1960.9h0M190.6 1965.7h0M180.1 1978.2h0M238.3 1887.9h0M193.3 1963.8h0M178.5 1981.7h0M179.2 1980.7h0M184 1963.3h0M190.7 1975.9h0M322.8 1784.6h0M210.6 1947.7h0M179.3 1978.4h0M252.2 1889.1h0M196.7 1955.4h0M301.8 1815.8h0M182.5 1976.4h0M183.1 1980.2h0M202 1916h0M180.9 1980.7h0M182.7 1976.8h0M184.6 1960.9h0M191.2 1957.2h0M186 1938.9h0M189.5 1958.7h0M180.9 1980.9h0M239.8 1907.2h0M201.5 1949h0M184.6 1975.1h0M186.5 1968.3h0M180.1 1967.5h0M191.9 1964.5h0M223.8 1922.8h0M185.8 1964.8h0M181.5 1982.3h0M194.8 1958.9h0M182.1 1972.3h0M284.8 1813.9h0M203.1 1940.1h0M192.3 1964.7h0M228.8 1928.4h0M219.6 1936.1h0M229.2 1937.2h0M229.1 1939.8h0M213.1 1938h0M262.1 1883.6h0M209.6 1942.6h0M204.2 1939.7h0M180.6 1964.7h0M201.4 1928.4h0M179.4 1968.2h0M185.6 1955.2h0M189.4 1962.4h0M182.2 1986.2h0M185.1 1950.5h0M191.7 1966.4h0M219.7 1946h0M193.1 1964.4h0M182 1980.5h0M182.4 1978.6h0M238.2 1917.8h0M204.1 1934.6h0M207.8 1936.7h0M189.8 1974.4h0M187.5 1951.8h0M197 1960.5h0M180.6 1980.7h0M207.2 1958.2h0M184.1 1976.2h0M194.2 1963.3h0M259.3 1862.4h0M183.9 1972.6h0M187 1958h0M291.7 1852h0M248.8 1850.9h0M200.1 1929.5h0M225.9 1939.4h0M214.8 1944.4h0M259.2 1891.6h0M211.9 1940.6h0M190.9 1957.5h0M202.4 1951h0M180.5 1984.5h0M188.3 1961.6h0M198.9 1965.5h0M202.4 1952h0M189.1 1969.1h0M232.2 1928.1h0M232.7 1901.7h0M182.6 1975.2h0M206.1 1913.8h0M190.7 1971h0M179.2 1976.6h0M211.1 1949.1h0M186.2 1947.4h0M211.4 1942.4h0M246.4 1918.2h0M211.7 1933.5h0M240.9 1916.9h0M195.5 1952.2h0M180.3 1968.7h0M185.6 1957.5h0M241.4 1896.9h0M188.2 1953.3h0M306.2 1807.5h0M190.4 1971.1h0M204.1 1969.4h0M225.6 1901.9h0M228.1 1928.7h0M180.2 1959.4h0M193.8 1962.7h0M185.7 1976.6h0M181.3 1961.7h0M205.9 1947.5h0M198.2 1944.4h0M180 1983.6h0M200.2 1955.2h0M181 1974.3h0M230.4 1921.4h0M187.9 1971.6h0M179.4 1983h0M181.7 1977.1h0M207.8 1901.9h0M226.9 1903.6h0M179 1970.2h0M266 1861.8h0M186.4 1954.5h0M184.2 1973h0M203.4 1973.8h0M190.1 1974.7h0M207.3 1944.2h0M185.6 1968.5h0M192.2 1964.9h0M220.4 1915.2h0M197 1961.3h0M241 1893.2h0M285.4 1868.3h0M252.7 1854.2h0M183.5 1977.2h0M180.1 1975.4h0M181.1 1973.3h0M186.8 1980.8h0M239.8 1872.5h0M183.6 1956.8h0M181.7 1960.9h0M183.1 1986.1h0M189.7 1984.1h0M251.6 1914.4h0M190.1 1963.5h0M183.7 1953.9h0M234.8 1919.1h0M185.6 1973.3h0M215.4 1932.3h0M222.9 1936.2h0M268 1875.6h0M181.3 1975h0M189 1976h0M237.9 1884.1h0M193.9 1949.6h0M192 1965.3h0M198.8 1958.4h0M238.7 1880.3h0M179.2 1984.3h0M199.9 1941.2h0M179.9 1976.2h0M219.7 1906.2h0M181.9 1968.2h0M195.5 1938.1h0M182.7 1982.7h0M237.5 1923.3h0M240.1 1928.9h0M191.3 1951.3h0M180 1970.7h0M196.6 1941.2h0M291.4 1862.4h0M198.4 1964.7h0M200 1942.1h0M178.6 1979h0M242 1884.5h0M193.1 1957.6h0M225.1 1928.9h0M185.1 1972h0M181.2 1986.2h0M236.9 1914.2h0M297.8 1867h0M246.4 1912h0M231.3 1926.8h0M184.2 1968.8h0M225.7 1942.1h0M192.9 1946.5h0M201.2 1928.4h0M194.3 1943.3h0M188.7 1968.4h0M183.4 1952.7h0M204.4 1946.9h0M180.9 1980.7h0M180.2 1976.8h0M227.2 1883.3h0M178.8 1986.6h0M190.8 1967.8h0M300.7 1783.1h0M189.2 1960.7h0M203.4 1956.1h0M194.1 1970.9h0M199.3 1929h0M206.9 1961.4h0M180 1980.6h0M206.2 1921.9h0M212.5 1947.2h0M184.7 1958.8h0M205.6 1933.7h0M181.1 1961h0M182.1 1969.3h0M191.1 1979.7h0M195.8 1951.2h0M188 1955.7h0M311.4 1783.5h0M184.7 1973.1h0M189.1 1966h0M219.4 1940.6h0M181.8 1977.5h0M190.1 1966.9h0M185.7 1970.9h0M193.8 1941.6h0M184.9 1962.5h0M191.2 1949h0M187.5 1974.2h0M180.9 1962h0M180.6 1980.8h0M188.3 1970.3h0M214.3 1908.4h0M200 1971h0M183.2 1970.5h0M278.9 1839.2h0M188.9 1970.3h0M186.5 1958.6h0M214 1917h0M184.4 1977.4h0M217.8 1921h0M202.3 1963.7h0M247.6 1889.5h0M188.1 1956.7h0M184.7 1984h0M185 1969.1h0M198.9 1964.2h0M220.7 1938.7h0M229.1 1914.8h0M190.1 1971.1h0M200.8 1948.7h0M197.8 1957.4h0M192.6 1968.2h0M190.5 1956.3h0M223.6 1927.8h0M182.4 1971.8h0M205.1 1961.8h0M181.5 1972.6h0M245.6 1888.3h0M211.6 1925.8h0M191.3 1978.9h0M189.2 1968.5h0M180 1982.6h0M183.2 1975.8h0M252.7 1877.7h0M184 1967h0M179.7 1977.1h0M195.5 1966.8h0M238.9 1901.5h0M190.2 1941.9h0M216.5 1932.5h0M184.5 1958.5h0M196.7 1952.6h0M180.8 1980.5h0M180.9 1963h0M222.2 1906.8h0M179 1969h0M229.5 1934h0M196.4 1949.6h0M202.8 1933.7h0M180.7 1975.9h0M185.6 1977.5h0M181.6 1975.8h0M198.2 1948.3h0M178.6 1951.8h0M178.6 1985.1h0M219.5 1935.9h0M237.4 1873.3h0M190 1960.2h0M182.5 1945.7h0M202.3 1958.5h0M202.4 1936.4h0M210.1 1934.6h0M181.8 1976h0M180 1954.3h0M217.7 1926.2h0M208.4 1956.5h0M189.8 1977.1h0M183.7 1975.2h0M186.6 1964.2h0M203 1960.7h0M178.4 1978.7h0M182.2 1968.9h0M182.8 1982.8h0M179.4 1984.3h0M218 1937.9h0M195.8 1940.6h0M184 1978.5h0M218 1932.2h0M222.5 1916.6h0M182.2 1982.3h0M181 1960.7h0M240.9 1879.9h0M185.5 1973.2h0M187.2 1976.6h0M208.5 1956.2h0M190 1977.6h0M193.2 1955.6h0M255.1 1903.7h0M214.8 1932.4h0M202.2 1939h0M181.3 1983.9h0M183.5 1979.9h0M204.2 1957h0M197.1 1958.9h0M214 1942.9h0M189.5 1950.6h0M227 1919.7h0M201 1960.1h0M179.3 1973h0M239 1903.2h0M186.5 1961.1h0M179.9 1970.5h0M180 1975.2h0M222.2 1936h0M203.5 1955.1h0M220.5 1941.4h0M192.2 1970.8h0M193.7 1945.7h0M192.4 1941.5h0M182 1978.5h0M215.4 1949.4h0M197.7 1969.5h0M189.4 1974.6h0M185.4 1986.3h0M201.5 1935.8h0M180.7 1966.7h0M201.8 1949.6h0M179.1 1974.3h0M220.5 1929.7h0M179 1983h0M215.2 1942.9h0M200.4 1955.9h0M236 1861.8h0M216.1 1937.6h0M181.2 1957.5h0M186.6 1970.6h0M201.7 1956.4h0M187.8 1944.4h0M217.5 1924.2h0M180.4 1983.7h0M181.3 1963.7h0M208.9 1937.6h0M228.6 1922.3h0M241.2 1872h0M195.1 1961.6h0M189.5 1964.3h0M229.4 1926.2h0M197.8 1945.4h0M220.5 1940.9h0M182.8 1965.3h0M201.7 1953.1h0M247.7 1886.4h0M204.9 1963.4h0M179.5 1980.2h0M183.7 1974h0M179.5 1966.6h0M235.9 1919.4h0M187 1961.1h0M271.4 1894.4h0M203.1 1950h0M180.4 1985.9h0M185.8 1961.1h0M245.5 1894.8h0M266.5 1884.8h0M184.3 1975.8h0M218.3 1906.9h0M216.3 1916.5h0M186.6 1973.8h0M185.2 1981.5h0M181.8 1978.7h0M187.5 1975.7h0M221.1 1938.3h0M184.9 1965h0M180.8 1980.3h0M194.8 1959.2h0M187.4 1965.5h0M237.8 1889.8h0M213.2 1949h0M186.5 1975.1h0M194.6 1948.8h0M181 1965h0M234.7 1892.5h0M206.8 1953h0M239.8 1924.9h0M218.1 1934.4h0M201 1946.2h0M230.8 1922h0M200.9 1954.2h0M215.3 1949.5h0M218.7 1915h0M202.8 1937.4h0M202.8 1952.8h0M186.5 1978.7h0M234.5 1864.3h0M186.5 1957.2h0M214.6 1948.6h0M192.2 1955.3h0M192.2 1971h0M232.1 1929.7h0M209.5 1928.7h0M199.6 1956.2h0M204 1950.3h0M208.4 1935.2h0M184.3 1983.4h0M183.2 1981.1h0M190.8 1951.4h0M224 1913.1h0M319.9 1817h0M184.3 1970.5h0M210.7 1932.5h0M191.2 1968.9h0M192.8 1971.7h0M342.5 1710.1h0M219.4 1935.4h0M217.4 1942.4h0M297.8 1859.2h0M182.2 1983.7h0M182.8 1970h0M297.1 1847h0M190.3 1958.1h0M182.8 1978.1h0M181.9 1983.7h0M201.7 1949.7h0M343.1 1776h0M225.8 1882h0M213 1941.7h0M178.9 1978.7h0M182.4 1984.5h0M191.9 1972.1h0M209.8 1937.8h0M211.4 1941.6h0M184.4 1983.1h0M182.5 1974h0M198.4 1942.9h0M180.4 1965.4h0M220.2 1936.4h0M280.3 1854.9h0M180.7 1979.5h0M222.4 1907h0M188.8 1968.2h0M198.9 1941.4h0M180.7 1980h0M193.9 1963.4h0M230.7 1928.5h0M181.7 1982.2h0M184.5 1985.5h0M189.1 1983.2h0M181.9 1985.6h0M181.4 1971.7h0M179 1982.5h0M189.9 1980.2h0M181.9 1968h0M191.6 1939.4h0M199.9 1926.8h0M209.2 1947.2h0M182.2 1976.2h0M198 1944.8h0M187.3 1970.3h0M234.5 1906h0M242.6 1893.9h0M186 1972.8h0M189.5 1971.6h0M184.3 1964.5h0M179.1 1979.8h0M181.7 1967.3h0M188.1 1972.6h0M212.6 1940.2h0M183.5 1974.5h0M178.5 1980.6h0M193.9 1963.4h0M180.9 1966.9h0M189.6 1973h0M181.2 1979.7h0M199.8 1949.9h0M189.3 1971.1h0M213.6 1943.4h0M228.2 1937.7h0M206.6 1948h0M183.9 1981.9h0M201.8 1949.1h0M190.9 1951.5h0M201.5 1957.3h0M180.8 1971.9h0M178.4 1985h0M194 1970.8h0M189 1977.3h0M356.3 1703.4h0M188.3 1954.4h0M206 1921.8h0M187.4 1973.6h0M185.1 1976.2h0M190.2 1966.8h0M194.7 1957.4h0M221.6 1942.1h0M202.6 1938h0M218 1907.7h0M220.1 1905.5h0M196.6 1973.1h0M208.2 1944.7h0M180.3 1970.4h0M185.3 1963.6h0M187.3 1979.6h0M200.1 1964.4h0M190.1 1969.1h0M275 1843.5h0M207.8 1949.8h0M199.6 1953.4h0M181.6 1985.8h0M188.6 1979.8h0M201.9 1948h0M193.2 1961.1h0M185 1967.1h0M236.1 1916.4h0M179.2 1975.7h0M182.1 1975.3h0M183.5 1960.1h0M207.9 1940.3h0M183.5 1983.5h0M194.2 1965h0M305.9 1837.7h0M185.4 1957.6h0M178.7 1973.7h0M181.5 1986.2h0M229.4 1905h0M211.3 1916.1h0M188.1 1943.7h0M191.8 1960.3h0M178.6 1981.7h0M196.9 1960.7h0M198.5 1958.7h0M279 1873.2h0M185.9 1963.5h0M184.3 1976.2h0M178.5 1979.8h0M190.5 1962.2h0M199.1 1966.1h0M181.1 1983.2h0M228.3 1908.4h0M253.9 1900.7h0M180.9 1940.3h0M185.5 1968.1h0M191.6 1962.5h0M194.3 1964.8h0M237.6 1918h0M180.4 1979.4h0M181.7 1979.7h0M211.4 1933.7h0M178.5 1978.7h0M308.4 1877.6h0M229.9 1880.2h0M184.7 1954.8h0M305.8 1838.6h0M266.2 1852h0M226.9 1929.9h0M198.5 1959.7h0M181.2 1964.8h0M186.8 1967.5h0M185.2 1958.9h0M198.4 1924.4h0M186.2 1959.8h0M188.9 1956.9h0M226.1 1936.9h0M178.7 1985.7h0M216.4 1906.6h0M195 1960.8h0M181.4 1983.7h0M178.7 1986.4h0M186.7 1952.3h0M185.9 1956.3h0M238.2 1882.8h0M198 1958.7h0M184.8 1970.9h0M201.2 1937.6h0M188.6 1974.8h0M221.1 1929.9h0M294.9 1865.1h0M182.3 1974.4h0M187.2 1975.3h0M181.2 1984.9h0M197.8 1930h0M212.5 1947.4h0M197.9 1961.7h0M238.1 1907.2h0M222.7 1926.6h0M179.3 1974.1h0M181.4 1967.1h0M235.1 1916.7h0M233.1 1913.1h0M222.2 1927.5h0M216.1 1911h0M189.1 1969.2h0M179.3 1977.3h0M191.1 1975.1h0M185.9 1965h0M180 1985.5h0M202.7 1938.6h0M186.8 1961.9h0M196.1 1964.8h0M212.9 1909.7h0M278.8 1862.3h0M185.1 1963.3h0M204.6 1946h0M200 1961.3h0M189.9 1974.3h0M207.4 1931.7h0M185.9 1963.2h0M178.6 1983.3h0M193.5 1966.7h0M194.6 1951.2h0M192.5 1956.1h0M248.9 1894.5h0M271.1 1850.8h0M185.9 1979.5h0M198.7 1937.1h0M190.1 1969.5h0M268.4 1876.6h0M186 1929.9h0M182 1968.7h0M198.5 1956.9h0M178.8 1965.4h0M216.7 1934.5h0M197 1971.7h0M202 1951.1h0M209.1 1952.3h0M210.6 1941.9h0M188.6 1971.7h0M188.7 1959h0M205.6 1928.6h0M220 1923.1h0M186.5 1979.3h0M214.5 1925.9h0M188.1 1977.2h0M212 1923.3h0M277.4 1829.2h0M187.8 1966.7h0M217.6 1949.5h0M178.5 1958.9h0M179 1978.5h0M187 1964.7h0M193.4 1961.1h0M189.1 1952.3h0M189.6 1970.9h0M264.5 1880.4h0M196.9 1948.5h0M291.5 1834.8h0M181.7 1967.8h0M180.2 1977.5h0M210.1 1887.2h0M179 1980.5h0M182.2 1957.5h0M197.4 1934.3h0M179 1972.9h0M198.3 1959.4h0M190.6 1966.7h0M181.1 1976.7h0M194.5 1954.8h0M192.3 1952.7h0M187.1 1958.1h0M217.7 1936.6h0M182.3 1977.5h0M204.6 1932.6h0M178.6 1962.5h0M184.1 1979.6h0M179.3 1977.6h0M180.9 1976h0M180.5 1982.1h0M181.4 1986.3h0M185.9 1968.7h0M199.8 1956.2h0M178.5 1983.9h0M218.7 1927.5h0M179.9 1975.1h0M188.7 1945.7h0M180.3 1953.8h0M218.7 1921.6h0M198.9 1947.3h0M191.5 1975.9h0M180.7 1979.7h0M267.6 1811h0M262 1851.9h0M256.7 1882.3h0M228.1 1942.9h0M186.9 1978.3h0M191.2 1961.3h0M239.8 1917.7h0M242.1 1915h0M248.6 1869.5h0M183.5 1976.6h0M181.7 1983.6h0M212.9 1941.7h0M266.4 1867.4h0M186.1 1969.5h0M213.5 1935.4h0M209 1958.2h0M186.8 1980.3h0M180 1981.8h0M229 1907.9h0M200.3 1969.4h0M245.7 1932.7h0M189.8 1945.8h0M180.2 1961.3h0M192.7 1960.8h0M200.1 1957h0M250 1884.2h0M207.1 1951.5h0M207.5 1906.1h0M206.9 1925.9h0M196.5 1932.6h0M216.7 1950.6h0M209.2 1941.8h0M193.4 1960.4h0M188 1944.8h0M215.2 1930.8h0M236.3 1919h0M187.8 1963.5h0M200.8 1945.6h0M202.6 1960.6h0M195.7 1934.1h0M222.8 1920.7h0M195.2 1958.8h0M191.1 1974.4h0M195.5 1964.1h0M186.3 1962.5h0M195.9 1943.9h0M218.6 1921.9h0M209.6 1919.1h0M218.1 1917h0M195.9 1965.2h0M192.5 1967.1h0M196.6 1948.3h0M190.4 1949h0M194.7 1963.9h0M220.7 1933.4h0M201.7 1954.8h0M204.4 1921.5h0M205.8 1922.4h0M205.4 1923.1h0M275 1867.1h0M195.6 1956.6h0M226.3 1938.6h0M192.7 1964.3h0M201.9 1937.5h0M199.4 1948h0M192.5 1967.1h0M189.1 1966.3h0M186.9 1976.3h0M201.7 1941.6h0M272.4 1889.3h0M185.2 1976.6h0M191.2 1966h0M182.5 1985h0M180.5 1960.6h0M191.9 1963.4h0M187.8 1962.4h0M194.6 1945.5h0M182.5 1978.3h0M188.1 1953.2h0M189 1970.5h0M188.9 1955.5h0M258.2 1898.6h0M179 1985.8h0M187.6 1977.3h0M226.7 1918.9h0M199.9 1919h0M216.1 1918.8h0M241.4 1874.7h0M187.2 1978.5h0M223.2 1896.1h0M178.6 1977.9h0M185.4 1978.8h0M183.7 1961.3h0M179.1 1984.5h0M202.2 1970.3h0M186.8 1961h0M293.2 1863.6h0M206.5 1930.5h0M182.7 1963.1h0M247.5 1908h0M201.5 1953.6h0M208.8 1951.8h0M185.9 1961.8h0M266.5 1858h0M203.2 1959h0M227.7 1929.5h0M275.1 1782.1h0M232.3 1922.8h0M208.5 1951.2h0M190.4 1955h0M196.9 1967.6h0M242.3 1916.4h0M209.1 1935.5h0M187.5 1978h0M284.2 1798.2h0M254.8 1862.1h0M183.5 1970.1h0M194.6 1949.7h0M200 1943.9h0M182.4 1981.6h0M184.7 1953.5h0M268.8 1863.6h0M235.9 1911.4h0M179.8 1977.2h0M199.8 1960.9h0M214.9 1925h0M196.8 1967.2h0M188.5 1943.8h0M184.3 1964.4h0M195.5 1944h0M226.7 1936.3h0M251.6 1882.4h0M207.3 1945.6h0M194.5 1946.9h0M195.8 1965h0M221.1 1932.3h0M187.8 1969.3h0M223.4 1939h0M193.5 1965h0M203 1934h0M207.5 1953.9h0M210.2 1933h0M183.1 1983.1h0M230.8 1927.4h0M191.6 1979.2h0M203.9 1957.2h0M193.2 1952.8h0M191 1966.6h0M182.6 1979.6h0M202 1958.7h0M196.1 1951.2h0M184.2 1986.5h0M193.8 1922.5h0M195.8 1964.7h0M196.2 1947.8h0M181.1 1968.6h0M200.1 1970.9h0M212.9 1936.6h0M237 1902.2h0M238.6 1920.8h0M198.6 1955.9h0M215 1938.5h0M201.4 1954.6h0M235.4 1932h0M183.4 1984.6h0M190.7 1963.9h0M182.1 1984.2h0M179.7 1980.1h0M204.6 1956.6h0M192.8 1969.3h0M230.6 1917.2h0M184.1 1972.5h0M179.6 1982h0M179.8 1982.8h0M187.3 1984.4h0M184.6 1975.1h0M211.8 1942.1h0M340.6 1776.4h0M189.4 1952.7h0M180.7 1985.3h0M188.7 1942.1h0M324.6 1816.7h0M179.7 1969.9h0M190.5 1973.2h0M198.9 1969.9h0M185.6 1978h0M194 1959.1h0M196.1 1953.3h0M206.5 1922.4h0M181.9 1978.7h0M181.7 1967.2h0M225.1 1917.6h0M196.2 1934.7h0M182.4 1963.5h0M181.5 1980.9h0M221.7 1904.7h0M179.1 1985.9h0M186.7 1963.2h0M196.9 1958.9h0M211.3 1932.1h0M178.6 1982.9h0M185.3 1949.8h0M194.8 1961.9h0M207.7 1930.2h0M205.5 1911.8h0M188.8 1961.3h0M214.4 1926.3h0M187 1942.1h0M212.8 1940.6h0M206.1 1958.2h0M189.6 1980.3h0M181.9 1970.9h0M183.7 1966.7h0M181.3 1975.3h0M192.9 1974.7h0M197.2 1964.7h0M199.2 1948.5h0M206.6 1954.6h0M187.8 1941.7h0M247.9 1896.9h0M250.6 1900.7h0M232.5 1909.9h0M191.1 1952.5h0M185 1956h0M213.2 1928h0M204.9 1949.6h0M198 1958.7h0M197.1 1965.5h0M184 1983.4h0M186.9 1967.2h0M207.5 1949.7h0M234.2 1916.6h0M184.8 1966.2h0M184.4 1979.3h0M293.3 1843.6h0M187.6 1973.5h0M217 1929.9h0M196.3 1963.9h0M190 1951.6h0M199.9 1950.1h0M272.1 1826.1h0M197.4 1947.8h0M195.3 1954.8h0M208.3 1953.4h0M212.5 1942.9h0M191.3 1967.1h0M188.7 1954h0M236.4 1916.6h0M653.7 1524.1h0M588.6 1571.5h0M567.3 1614.2h0M529 1626.3h0M533.5 1646.9h0M468.7 1640.3h0M495.6 1644.3h0M466.9 1668.2h0M500.7 1664.9h0M479 1681.1h0M447.4 1682.9h0M423.9 1684.8h0M474.3 1689.2h0M414.3 1697.2h0M465.8 1705.7h0M483.8 1712.7h0M443 1717.1h0M419.1 1730.7h0M443.7 1741h0M353.7 1753.1h0M438.2 1767.1h0M403.3 1770h0M350.4 1775.9h0M366.5 1790.3h0M314.3 1896.9h0M267.3 1930h0M247.1 1960.1h0M231.6 1983.6h0M284.9 1894.7h0M278.3 1906.8h0" stroke="#828282" stroke-width="4.1" stroke-linecap="round" fill="none" />
<path d="M424.6 1676.7h0M374.3 1702.8h0M339.7 1727.4h0M321 1762.7h0M328.3 1765.3h0M330.9 1768.9h0M291.5 1772.6h0M300.7 1772.2h0M254.8 1775.9h0M305.1 1781.8h0M320.2 1780.7h0M265.8 1793.6h0M278.7 1799.1h0M252.2 1822.6h0M215.8 1846.5h0M240.1 1845.4h0M250 1847.2h0M219.9 1856.4h0M231.6 1852.8h0M237.1 1855.7h0M249.3 1852.8h0M210.7 1885.9h0M212.5 1887.3h0M184.9 1891.4h0M197.1 1895.8h0M189.7 1901.7h0M190.8 1908.6h0" stroke="#dc1e14" stroke-width="5.4" stroke-linecap="round" fill="none" />
<path d="M525.4 1709h0M428.3 1865.6h0M284.6 1978.1h0" stroke="#1414d2" stroke-width="5.4" stroke-linecap="round" fill="none" />
<line x1="167.6" y1="1997.3" x2="675.7" y2="1493.9" stroke-width="2.5" stroke="#000" />
<path d="M167.6 1871.5L548.7 1493.9" stroke="#000" stroke-width="1.75" fill="none" stroke-dasharray="51.5 27" clip-path="url(#clNB)"/>
<path d="M167.6 2123.2L675.7 1619.8" stroke="#000" stroke-width="1.75" fill="none" stroke-dasharray="51.5 27" stroke-dashoffset="11" clip-path="url(#clNB)"/>
<clipPath id="clNB"><rect x="167.6" y="1493.9" width="508.1" height="503.4"/></clipPath>
<rect x="167.6" y="1493.9" width="508.1" height="503.4" fill="none" stroke="#000" stroke-width="1.7"/>
<path d="M167.6 1997.3h-7.5M167.6 1997.3v6M167.6 1934.4h-5M167.6 1871.5h-7.5M294.6 1997.3v6M167.6 1808.5h-5M167.6 1745.6h-7.5M421.6 1997.3v6M167.6 1682.7h-5M167.6 1619.8h-7.5M548.7 1997.3v6M167.6 1556.8h-5M167.6 1493.9h-7.5M675.7 1997.3v6" stroke="#000" stroke-width="1.6" fill="none"/>
<text transform="translate(154.4,2011.2)" font-size="28.6" text-anchor="end">0.0</text>
<text transform="translate(154.4,1877.6)" font-size="28.6" text-anchor="end">1.0</text>
<text transform="translate(154.4,1753.2)" font-size="28.6" text-anchor="end">2.0</text>
<text transform="translate(154.4,1630)" font-size="28.6" text-anchor="end">3.0</text>
<text transform="translate(154.4,1505.3)" font-size="28.6" text-anchor="end">4.0</text>
<text transform="translate(180.9,2034.4)" font-size="28.6" text-anchor="middle">0.0</text>
<text transform="translate(299.6,2034.4)" font-size="28.6" text-anchor="middle">1.0</text>
<text transform="translate(427.5,2034.4)" font-size="28.6" text-anchor="middle">2.0</text>
<text transform="translate(562.5,2034.4)" font-size="28.6" text-anchor="middle">3.0</text>
<text transform="translate(682.5,2034.4)" font-size="28.6" text-anchor="middle">4.0</text>
<text transform="translate(416.5,1480.3) scale(1,1.04)" font-size="34.2" text-anchor="middle">NB</text>
<text transform="translate(193,1552.8) scale(1,1.04)" font-size="34.4">r = 0.937</text>
<text transform="translate(193,1595) scale(1,1.04)" font-size="34.4">p = 0.000</text>
<text transform="translate(366.9,1671.5) scale(1,1.04)" font-size="26.6" style="font-style:italic">PIK3R1</text>
<text transform="translate(533.1,1697.3) scale(1,1.04)" font-size="26.6" style="font-style:italic">FOS</text>
<text transform="translate(190.1,1762.7) scale(1,1.04)" font-size="26.6" style="font-style:italic">ANK3</text>
<text transform="translate(286.8,1803.9) scale(1,1.04)" font-size="26.6" style="font-style:italic">SOX4</text>
<text transform="translate(176.5,1837) scale(1,1.04)" font-size="26.6" style="font-style:italic">BPTF</text>
<text transform="translate(373.2,1843.6) scale(1,1.04)" font-size="26.6" style="font-style:italic">APOE</text>
<text transform="translate(265.4,1968.6) scale(1,1.04)" font-size="26.6" style="font-style:italic">CCK</text>
<path d="M890.8 1924.3h0M898.2 1909.6h0M853.7 1961.6h0M864.7 1963.5h0M852.3 1966.9h0M885.8 1939.3h0M862.9 1977.9h0M908.9 1912.6h0M949.6 1850.4h0M941.8 1894.8h0M883.6 1964.4h0M881.8 1939.5h0M881.1 1949.3h0M856.3 1971.8h0M881.9 1949.2h0M844.8 1979.1h0M860.3 1962.2h0M844.9 1976h0M866.2 1944.8h0M974.1 1853.2h0M865.7 1970h0M901.4 1927h0M883.8 1931.5h0M903.5 1919h0M860.9 1961.3h0M862.3 1967.8h0M885.7 1953.6h0M860.4 1967.5h0M850.1 1979.6h0M854.6 1970.5h0M844.8 1984.1h0M871.7 1949h0M858 1962.1h0M867.3 1959.8h0M856.9 1956.9h0M948.5 1872.2h0M876.3 1964.9h0M869 1947.3h0M866.3 1963.4h0M936.8 1906.3h0M907.2 1911.2h0M847.6 1978h0M845.9 1979.4h0M864.4 1968.6h0M874.3 1929.9h0M888.3 1936.1h0M877 1937.8h0M935.6 1867.6h0M862.5 1952.1h0M872 1953h0M863.9 1966.6h0M846.1 1974.8h0M845.9 1985.1h0M1040 1766.5h0M891.4 1943.9h0M886.3 1947h0M929.7 1912.1h0M852.2 1969.2h0M844.1 1983h0M955.9 1863.5h0M960 1852.3h0M886.6 1934h0M848.2 1986.1h0M887 1941h0M844.1 1981.2h0M853.1 1983.7h0M891 1948.6h0M854.7 1965.6h0M888.6 1924.9h0M851.3 1971.6h0M1019.1 1814.7h0M875 1949.7h0M892.8 1923.9h0M878 1960.1h0M873.5 1951.6h0M908.2 1938.8h0M855.6 1970h0M871.5 1951.9h0M865.9 1946.5h0M843.4 1981.2h0M846.2 1969.7h0M872.1 1947.8h0M877.1 1950.6h0M949.4 1879.5h0M853.6 1976.4h0M852 1973.8h0M859.6 1967.9h0M938.7 1880.5h0M842.3 1985.5h0M853 1977.6h0M849.4 1985.7h0M848 1977h0M889 1948.5h0M849.2 1977.3h0M974.9 1864.4h0M865.2 1963.6h0M930 1924.1h0M843.4 1986.2h0M878.7 1948.5h0M847.8 1976.5h0M899.5 1911.3h0M850.5 1962.2h0M846.8 1984.7h0M934 1874.5h0M859.5 1966.8h0M880.6 1918.1h0M873.5 1978.4h0M852.7 1975.5h0M861.2 1971.7h0M843.6 1982.6h0M851.1 1984.2h0M937.7 1906.3h0M844.9 1981.8h0M893.8 1917.1h0M847.1 1985.7h0M855.8 1962.6h0M923.6 1880.8h0M874.6 1940.9h0M878.6 1951.8h0M846.1 1986.5h0M873.8 1956.8h0M885.9 1932.2h0M906.4 1920h0M984.8 1835h0M957.2 1866.5h0M898.8 1916.3h0M1024.6 1857.4h0M872.7 1952.1h0M934.2 1885.3h0M856.6 1984.4h0M937.1 1877h0M863.9 1974.8h0M842.7 1976h0M847.7 1966.1h0M867.4 1966.2h0M848.6 1981.2h0M850 1962.7h0M867 1940.1h0M872.2 1951.6h0M843.2 1974.4h0M865.8 1953.5h0M878.9 1947h0M843.7 1979.7h0M865.5 1957h0M843.9 1980.7h0M864.2 1952.5h0M888.8 1944.5h0M845.8 1978.2h0M850.9 1980h0M876.9 1966.5h0M849.6 1974h0M887.6 1945.4h0M883.2 1937.9h0M850.4 1981.4h0M854.2 1975.5h0M942.9 1865.2h0M925.8 1911.8h0M850.2 1983h0M854.4 1977.1h0M900.8 1915.6h0M852.8 1971.1h0M1068.1 1714.4h0M898.6 1916.3h0M883.9 1942.3h0M852.6 1972.3h0M926.6 1901.3h0M882.9 1952.3h0M847.3 1980.9h0M867.1 1954.8h0M849.5 1971.1h0M846.3 1979h0M998 1799.8h0M928.1 1888.3h0M854 1960.3h0M885.3 1939.8h0M936 1897.9h0M866.3 1956.9h0M844.5 1983.4h0M922.7 1901.4h0M1009.3 1784.7h0M860.1 1973.6h0M861.1 1964.7h0M1023.5 1798.2h0M892.2 1926.1h0M916 1913.3h0M880.3 1943.3h0M878.4 1964.8h0M847.5 1985.1h0M851.9 1980.4h0M897.2 1941.5h0M868.3 1962.4h0M895.5 1926.4h0M856.6 1961.2h0M923.5 1900.3h0M874.6 1958.2h0M928.7 1900h0M933.3 1876.9h0M864.6 1957.6h0M922.3 1902.1h0M877.7 1941h0M853.9 1960.9h0M861 1954.4h0M871.7 1951.6h0M883 1960.1h0M862.3 1969.7h0M842.8 1981.4h0M843.3 1977.3h0M845.3 1967.3h0M883.6 1940.5h0M846.5 1978.9h0M906.6 1912.6h0M886.4 1928.3h0M858.1 1980.8h0M853 1980.3h0M857.3 1965.1h0M875.3 1948h0M857.9 1966.7h0M847.7 1984.9h0M937 1892.8h0M849.6 1982.6h0M848.1 1978.7h0M1005.1 1819.2h0M869.7 1966h0M861.2 1962.4h0M856.5 1963.1h0M878.9 1963.3h0M990.1 1848.6h0M916.7 1929.5h0M856.8 1975.6h0M843.6 1986.5h0M884 1939.2h0M844.7 1980.1h0M856.5 1977.9h0M845.5 1977.4h0M902.4 1920.3h0M843.1 1984.1h0M885.7 1931.7h0M851.7 1959.3h0M842.4 1975.2h0M881.8 1944h0M887.4 1927.5h0M860 1956.1h0M880.1 1938.2h0M913.1 1917h0M844.9 1978.6h0M863.3 1965.5h0M952.8 1862.1h0M882.7 1933.7h0M853.7 1970.4h0M849.1 1968.9h0M848 1976.6h0M875.1 1946.9h0M885.2 1949.2h0M858.3 1977.3h0M900.7 1914h0M1063.5 1733.3h0M873.9 1967.5h0M850.5 1979.6h0M858.8 1965.1h0M842.2 1981.7h0M850.5 1968.6h0M922.8 1923.9h0M862.6 1972.6h0M852.3 1984.7h0M852 1977.2h0M856.4 1950.4h0M844.4 1985.7h0M848.7 1981.8h0M851.8 1986.5h0M945.2 1889.9h0M964.5 1828.2h0M868.3 1944h0M856.6 1965h0M857.9 1967.5h0M985.1 1814.3h0M870.3 1967.1h0M853 1974.1h0M873.1 1956.9h0M849.3 1979.1h0M845.7 1980.4h0M859.5 1963.6h0M927.1 1922.6h0M879.3 1935.8h0M873.6 1964.7h0M920.5 1906.7h0M851 1973.6h0M877.2 1946.8h0M877.8 1929.8h0M906.8 1902.3h0M843.1 1968.9h0M857.3 1968.9h0M861 1975.5h0M859.7 1966.8h0M905.2 1931.3h0M851.2 1982.4h0M843.2 1984h0M913 1920.9h0M850.1 1971h0M844.1 1970.7h0M860.5 1954.2h0M858.5 1984.1h0M870.3 1958.1h0M863.3 1953.2h0M858.3 1957.3h0M988.1 1848.1h0M881.9 1959.7h0M849.7 1979.5h0M842.4 1979.9h0M847.3 1974.7h0M859.3 1968.6h0M956.2 1896.5h0M865.1 1946.7h0M933.3 1900.4h0M884.9 1949.6h0M850.7 1967.7h0M843.4 1975.7h0M863 1974.3h0M970.5 1862.9h0M903.8 1918.5h0M891.9 1928.8h0M866.8 1956.4h0M893.4 1927.8h0M934.5 1879.7h0M855.6 1972.2h0M878.5 1962.4h0M857.5 1973h0M860.9 1970.9h0M862.6 1962.4h0M874.9 1949.7h0M956.4 1884.9h0M861 1974.9h0M942.8 1898.7h0M1063 1780.6h0M874.3 1945.5h0M905.4 1916.6h0M874.6 1941.8h0M851.5 1972.9h0M853 1974.8h0M846.4 1985.1h0M879.4 1938.7h0M923.5 1921.4h0M861.7 1974.5h0M843.3 1986.3h0M921.5 1888.9h0M862.7 1947.6h0M889.7 1936.1h0M842.7 1975.8h0M857.3 1967.7h0M885 1933.6h0M877.6 1959.9h0M842.4 1985.2h0M852.2 1970.9h0M851.4 1970.1h0M902.7 1926.8h0M860.1 1969.1h0M873.9 1955.8h0M962.5 1841.4h0M845.7 1985.2h0M871 1946.6h0M852.3 1977h0M884.9 1938.6h0M843.6 1983.7h0M867.2 1955h0M863.6 1965h0M845.5 1979.7h0M929.9 1872.1h0M879.8 1948.1h0M985.3 1822.1h0M862.7 1967.1h0M873.6 1954.6h0M865.3 1962.6h0M852.9 1983.3h0M843.8 1985.3h0M873 1966h0M864.1 1971.5h0M879.7 1945h0M858.7 1962.9h0M860.1 1959.2h0M940.6 1885h0M1053.4 1786.9h0M844.7 1974.4h0M999.4 1796.9h0M974.9 1846.7h0M871.2 1953.9h0M913.7 1934.3h0M854 1980.3h0M873.4 1949.8h0M844.2 1980.7h0M905.6 1924.1h0M935.4 1885.1h0M855.2 1972.9h0M845.2 1983.4h0M966.9 1852.4h0M880.4 1941h0M855.6 1970.2h0M865.2 1967.1h0M853.2 1976.3h0M941.8 1888.2h0M906.4 1912.9h0M868.9 1962.1h0M876.3 1933.5h0M855.9 1972.1h0M929.7 1906.2h0M920.9 1892.9h0M847.1 1985.7h0M859.8 1962.1h0M915.6 1883.4h0M876.6 1931.3h0M843.6 1980.5h0M845.8 1977.8h0M862.5 1967.4h0M1033.4 1726h0M909.9 1920.5h0M870.9 1950h0M854.8 1973.2h0M870.8 1941.6h0M861 1968.5h0M855.1 1967.8h0M869.2 1953.4h0M862.7 1974.6h0M847.2 1985.1h0M846.7 1984.1h0M868.2 1959.4h0M843.3 1982.5h0M903.1 1941.2h0M879.2 1957.9h0M910.2 1929.7h0M855.5 1974.7h0M873.8 1964.1h0M958.1 1875.9h0M949.6 1896h0M883.2 1935h0M853.5 1981.5h0M1081.1 1764.2h0M1012 1843.3h0M860.9 1957.2h0M873.1 1952.6h0M848.2 1977.5h0M875.8 1956.1h0M881.1 1949.2h0M852.8 1971.2h0M866.2 1965.4h0M893.8 1918.2h0M868.1 1982.4h0M865.5 1962.2h0M882.4 1949.6h0M867.5 1948.6h0M913.1 1904.7h0M849.4 1971.5h0M859.7 1970.6h0M844.3 1980.6h0M900.7 1919.1h0M876.5 1957.4h0M878.6 1934.8h0M856.1 1972.2h0M878.3 1963h0M847 1972.9h0M966.3 1821.3h0M858.4 1966.1h0M858.3 1958.9h0M864 1954.4h0M860.3 1957.7h0M864.3 1954.9h0M891.6 1915.9h0M855 1972.9h0M852.2 1977.1h0M865.5 1965.6h0M895.4 1913.6h0M854.3 1976.7h0M842.7 1971.9h0M865.7 1963.1h0M886.7 1936.5h0M861.6 1968.6h0M1022.8 1766.6h0M892.2 1933.7h0M885.6 1941.7h0M848.5 1968.9h0M877.5 1955.6h0M874.3 1949.2h0M868.8 1963.9h0M863.3 1953h0M868.1 1958.9h0M844.6 1982.4h0M866.2 1962.9h0M849.4 1976.5h0M912.4 1923.9h0M843.5 1981.3h0M863.4 1954.5h0M918.4 1894.9h0M857.5 1963.4h0M846.8 1986h0M856.6 1975.3h0M861.3 1956.9h0M877.6 1940.2h0M849.3 1974.4h0M868.6 1962.1h0M863 1969.7h0M914.6 1890.7h0M936.3 1881.1h0M848.9 1974.3h0M894.5 1951.9h0M848.5 1974.1h0M866.7 1957.9h0M873.9 1958.1h0M867.5 1958.4h0M872.3 1945.9h0M952.3 1907.4h0M856.5 1972.1h0M863.7 1957.9h0M868.8 1960.9h0M868.8 1970.5h0M865.4 1947.9h0M853.2 1975.5h0M903.2 1912.6h0M976.6 1857.2h0M845.6 1981.6h0M877 1922.6h0M890.9 1923.7h0M888.3 1925.9h0M856.6 1967.1h0M844.2 1981.3h0M903 1905.1h0M881 1946.9h0M843.4 1981h0M862.4 1969.3h0M892.8 1936.2h0M969.2 1838.9h0M844.7 1975.7h0M874.4 1945.4h0M969.5 1829.2h0M842.2 1984.8h0M887.7 1918.4h0M843 1986.2h0M887.8 1963.7h0M858.6 1975.5h0M853.1 1970.8h0M853.7 1965.2h0M876.7 1944.1h0M857.5 1957h0M879.1 1953.3h0M842.7 1976.8h0M886.8 1937.9h0M912.2 1911.4h0M872.5 1966.8h0M859.2 1967.4h0M912.3 1919h0M848.1 1984.9h0M919.8 1900.4h0M846.7 1979h0M1042.4 1768.1h0M869.5 1952.2h0M876.2 1951.5h0M886.4 1952h0M888 1950.1h0M920.9 1905.3h0M850.1 1973.6h0M846.7 1968.1h0M852.2 1976.4h0M970.5 1836.7h0M843.8 1981.7h0M1051.8 1790.2h0M899.4 1933.6h0M858.4 1974.6h0M846.2 1977.8h0M844.9 1973.1h0M847.2 1972.7h0M876 1967.4h0M875.1 1945.1h0M855.5 1964.5h0M884.3 1952.7h0M870.5 1962.5h0M867 1970.4h0M862.9 1953.3h0M842.9 1982.5h0M842.8 1983.6h0M891.2 1929.7h0M858.4 1971.3h0M885.8 1939.1h0M934.7 1892.5h0M854 1969.7h0M885 1953.8h0M911 1887h0M868.8 1957.3h0M885.9 1955.2h0M848.2 1967h0M856.1 1963.7h0M864.6 1949.4h0M940 1900.8h0M927.1 1893.2h0M857.5 1974.3h0M876.3 1944.1h0M907.9 1909h0M861.7 1973.7h0M876.1 1948h0M853.4 1966.9h0M885.4 1929.1h0M847.5 1982.2h0M848.9 1973.5h0M856 1979.8h0M990.6 1810.7h0M855.8 1965.3h0M942.9 1856.3h0M885.2 1945.5h0M860.7 1978.1h0M853.8 1971.1h0M857.5 1972.7h0M863.4 1967.2h0M852.1 1962.6h0M863.2 1956.9h0M842.7 1983h0M946.3 1872.6h0M847 1981.3h0M855 1971.5h0M1025 1747.6h0M880.7 1946h0M857.8 1961h0M856.6 1977h0M848.7 1972.4h0M862.8 1964.6h0M899.6 1918.4h0M860.4 1967h0M883.4 1941.8h0M845.3 1968.5h0M849.8 1969.5h0M866 1959.2h0M851.3 1984.5h0M864.6 1952h0M884.2 1943.7h0M864.3 1973.5h0M849.1 1976.2h0M909.1 1935h0M863.6 1937h0M850.1 1974.7h0M908.4 1933.4h0M862.2 1961h0M914.8 1920.9h0M844.9 1977.4h0M890.4 1948.3h0M852.2 1973.8h0M867.4 1952.5h0M857.6 1960.4h0M883.3 1949.6h0M847.8 1982.1h0M852.8 1961h0M842.9 1977.1h0M852 1977.9h0M843.6 1986.2h0M855.5 1972.1h0M851.6 1982.9h0M891.6 1926.5h0M843 1980.9h0M856.9 1975.8h0M892.9 1931.8h0M844.1 1974.8h0M1060.9 1734.7h0M846.3 1984.4h0M842.7 1977.2h0M904.4 1927.9h0M885.1 1925.6h0M853.9 1969.3h0M891.7 1930.7h0M859 1966.2h0M859.8 1980.6h0M870.4 1957.2h0M867.8 1955.9h0M852.3 1978.6h0M863.7 1970h0M1043.7 1858.6h0M848.2 1978.3h0M986.8 1803.8h0M884.5 1957.7h0M937.3 1891.2h0M856 1973h0M844.4 1982.8h0M864.2 1950.1h0M873.4 1953.3h0M843.5 1984.8h0M857.1 1963.5h0M856.4 1966h0M863.7 1956.6h0M916.5 1913.6h0M874.5 1949.1h0M968.5 1845.9h0M845.9 1984.9h0M858.7 1972.8h0M848.2 1973.7h0M865.8 1964.1h0M914 1904h0M974.6 1841.6h0M954.2 1870h0M927.7 1910.3h0M892 1940.3h0M873.2 1952.6h0M847.7 1983.2h0M857.6 1978.3h0M845 1978h0M899.4 1931.2h0M842.8 1986.3h0M857 1967.7h0M1002.3 1814.8h0M849.8 1975.4h0M864 1950.9h0M869.5 1960.8h0M911.2 1892.1h0M886 1938.7h0M871 1950h0M895.4 1942h0M846.9 1977.5h0M860.5 1961.3h0M895.8 1917.9h0M875.6 1962.6h0M887.6 1937.8h0M874.3 1942.2h0M947.8 1890.5h0M1052.2 1778.5h0M871.6 1962.9h0M888.3 1939.5h0M904.4 1920.3h0M850.5 1983h0M852.8 1981.3h0M884.5 1936.4h0M879.1 1936.5h0M882.3 1957.5h0M898.3 1935.9h0M908.3 1913h0M860.6 1982h0M849.2 1985.6h0M882.3 1952.9h0M857.1 1960.1h0M846.2 1977.6h0M886.1 1936.3h0M880.7 1930.5h0M858.4 1973.5h0M858.1 1969.3h0M843.1 1978.1h0M905.5 1908.4h0M856.3 1970.1h0M846 1985.3h0M896.5 1924.8h0M917.6 1907.9h0M910.5 1909.4h0M863.8 1959h0M874.5 1949.7h0M873.7 1955.2h0M866.1 1949.9h0M854.7 1956.4h0M866.9 1979.8h0M873.4 1958.3h0M881.6 1949.9h0M933.7 1880.6h0M939.5 1919.3h0M866.6 1951.6h0M885 1929h0M872.1 1947.1h0M1032.3 1758.8h0M858 1962.9h0M878.3 1945.4h0M864.2 1977.2h0M855.3 1966.5h0M848.8 1977.5h0M845.3 1980.7h0M845.2 1982.8h0M853.8 1966.6h0M858.8 1969.7h0M846.5 1983.2h0M866.3 1961.9h0M849.8 1978.1h0M864.8 1952.3h0M897 1945.4h0M847.9 1980.7h0M845.4 1977.4h0M871.5 1964.7h0M879.5 1962.4h0M852.4 1967h0M932 1859h0M845.9 1976.9h0M890.2 1936.8h0M871.2 1954h0M849.3 1968.4h0M879.9 1951.4h0M866.1 1964.1h0M846.4 1984.3h0M856.9 1959.2h0M887.8 1928.9h0M848.8 1984.2h0M857 1960h0M915.5 1905h0M845.9 1981.2h0M843.7 1978.5h0M920.6 1898.8h0M846 1977.5h0M960.1 1871.3h0M875.1 1965.3h0M858.4 1974.9h0M1065.2 1766.8h0M982 1872.2h0M856.5 1975.6h0M844.2 1986.5h0M847.2 1982.9h0M847.8 1983.7h0M858.3 1969.4h0M873 1972.7h0M842.7 1978h0M851.6 1969.1h0M849.4 1977.7h0M881.2 1950.6h0M854.6 1966.3h0M866.5 1959.1h0M871.9 1962.4h0M854.1 1970.5h0M902.8 1922.5h0M861.2 1968.1h0M954.2 1880.2h0M957.2 1859.8h0M853.3 1975.2h0M844.1 1985.8h0M842.5 1977.7h0M872.5 1953.9h0M877.5 1938.5h0M883 1939.4h0M903.5 1923.7h0M853.3 1962.6h0M861.3 1969h0M875.8 1943.4h0M875.6 1948.3h0M849.4 1986h0M911.2 1902.5h0M909.4 1946.5h0M869.1 1955.2h0M856.9 1981.7h0M862.7 1966.7h0M846.1 1978.3h0M843.7 1978.1h0M844.5 1977.7h0M869 1959.3h0M861.8 1956h0M898.7 1912.8h0M858.4 1974.3h0M845.6 1984.8h0M854.6 1977.6h0M849 1977h0M876.9 1951.4h0M878.4 1956.1h0M858.3 1970.4h0M856.7 1979.8h0M882 1969.3h0M854.6 1974.3h0M909.8 1915.7h0M851.9 1977.6h0M1007.8 1817.5h0M922.7 1875.2h0M869.1 1952.1h0M847.4 1972.2h0M871.1 1949.1h0M855.3 1965.8h0M876.1 1943.3h0M842.7 1984.5h0M860.5 1967.8h0M887.8 1930.9h0M842.4 1981.1h0M856.8 1965.5h0M970.6 1830.4h0M871.4 1948.2h0M868 1949h0M1000.3 1797h0M846.9 1984h0M870.7 1955.7h0M936.7 1890.4h0M900.6 1947.1h0M882.6 1957.7h0M880.9 1943.8h0M980.5 1858.2h0M883.4 1948.8h0M876.7 1962.9h0M860.9 1976.9h0M852.8 1968.2h0M1000.2 1801.8h0M872.6 1949.1h0M858.4 1977.3h0M894.5 1922.8h0M851.8 1973h0M851.4 1985.9h0M900.8 1928.6h0M874.6 1966.4h0M899.7 1916.7h0M857.5 1979.6h0M858.2 1968.3h0M849.5 1965.5h0M844.8 1983.6h0M866.7 1969h0M895.4 1941.1h0M881.5 1931.9h0M845.8 1978.3h0M861.3 1974h0M867.1 1960.1h0M902.8 1936h0M867.1 1960.7h0M852.4 1950.5h0M966.9 1843.4h0M909.4 1908.2h0M857.4 1967.9h0M858.1 1962h0M865.1 1956.5h0M844.9 1980.1h0M858.1 1964.8h0M862.3 1959.3h0M920.1 1923.5h0M915.9 1922.6h0M991.6 1824.1h0M932.9 1882.6h0M844.5 1983.2h0M872.2 1956.2h0M902.4 1916.8h0M1047 1810.1h0M865.9 1972.6h0M860.4 1968.8h0M869.5 1950.7h0M1016 1798.2h0M964.8 1872.9h0M844 1976h0M874.8 1955.9h0M949.2 1869.7h0M851.4 1977.8h0M843.9 1981.4h0M842.8 1984.2h0M854.5 1970h0M857.3 1973.3h0M867.6 1964.7h0M854.7 1979.1h0M848.1 1975.9h0M916.6 1909h0M868 1941h0M860.1 1964.6h0M857.5 1964.3h0M890.2 1941.2h0M868 1951.5h0M882.5 1951.7h0M925.6 1907.9h0M1022.8 1801.3h0M949.8 1856h0M856 1983.6h0M866.1 1956.8h0M856.2 1964.6h0M875.8 1946.4h0M960.9 1869.2h0M870.9 1948.8h0M915 1911.6h0M851.4 1965.2h0M842.7 1978.4h0M919.3 1917.8h0M850.6 1969.4h0M895.2 1930h0M889.3 1936.5h0M848.9 1976h0M845.9 1986.4h0M879.3 1949.3h0M843.8 1985.1h0M846.3 1978.5h0M870.4 1951.1h0M844.5 1978.8h0M863.6 1954.3h0M862.4 1963.4h0M1046.1 1788h0M865.6 1950.2h0M854.5 1973.8h0M867.3 1969.2h0M870.5 1949.9h0M862.4 1978.7h0M861.8 1946.2h0M853.5 1972.4h0M842.3 1973.1h0M858.1 1982.2h0M850.4 1980.2h0M843.3 1983.3h0M854.5 1971.9h0M850.6 1984.8h0M866.2 1947.7h0M870 1935.5h0M890.4 1943h0M852.8 1978.3h0M869.4 1968.5h0M950.5 1877.5h0M891.7 1933.2h0M862 1962.3h0M879.4 1930.7h0M864.8 1951.1h0M857.4 1966.5h0M914.1 1906.1h0M873.4 1938.3h0M842.5 1977.3h0M845.4 1985.1h0M889.4 1940.2h0M871.2 1949.6h0M951.2 1863.2h0M941 1877.1h0M857.7 1981.2h0M847.8 1986.1h0M899.6 1910.8h0M850.3 1975.2h0M890.5 1921h0M887 1935.5h0M870.2 1948.4h0M848.5 1976.8h0M901.3 1928.3h0M931.2 1891.5h0M922.1 1901.2h0M877.2 1946.7h0M899.7 1926.1h0M1019.9 1801.4h0M977.1 1841.5h0M892.8 1930.6h0M842.5 1980h0M867 1958.6h0M857.2 1968.9h0M856.3 1961.9h0M896.8 1935.7h0M963.6 1904.9h0M899.3 1935.9h0M923.9 1906.7h0M846.9 1976.5h0M844.4 1980.5h0M957.3 1835.7h0M852 1967.6h0M856.5 1969h0M895.6 1937.2h0M843.1 1984.1h0M878.3 1946.6h0M849.1 1970.4h0M858.2 1964.9h0M850.1 1980h0M867.4 1956.8h0M874.1 1959.4h0M892.9 1944.5h0M930.5 1882.1h0M848.3 1977.2h0M956.8 1906.8h0M860.3 1962.7h0M853.5 1974.4h0M860.9 1984.4h0M844.6 1975.7h0M853 1975.5h0M855.9 1971h0M998.1 1836.3h0M863.4 1977.4h0M898.6 1923.9h0M936.9 1920h0M846.3 1980.3h0M864.8 1966.3h0M847.7 1976.3h0M916.5 1904.1h0M884.2 1969.4h0M844.6 1984.3h0M908.5 1898.3h0M865.7 1952.3h0M844.9 1971.1h0M892 1945.1h0M891.9 1935h0M886.3 1946.5h0M863.5 1961.4h0M849.1 1976.1h0M881.7 1949.6h0M846.2 1975h0M882.3 1944.8h0M925.2 1895.7h0M870.1 1956.4h0M938.4 1867.1h0M900.1 1915.8h0M858.4 1964.4h0M924.2 1927.1h0M873.1 1948h0M1065.8 1746.4h0M848 1984.6h0M842.4 1983.5h0M881.2 1948.1h0M908.8 1918.7h0M851.3 1964.1h0M855.5 1965.6h0M850.9 1974.4h0M955.3 1857.1h0M936.9 1897.1h0M865.4 1955.8h0M853.7 1971.6h0M926.6 1897.3h0M1006.8 1813.4h0M850.2 1976.9h0M895.2 1918h0M844.8 1978.1h0M861.7 1960.3h0M855.9 1972.6h0M857.2 1986.3h0M845.2 1976.9h0M848 1985.2h0M874.1 1952h0M867.1 1958.2h0M846.1 1981h0M849.2 1984.6h0M844.4 1980.4h0M876.7 1940.5h0M910 1910.6h0M844.3 1982.6h0M843.2 1986.2h0M845.1 1974.7h0M894.4 1944.9h0M857.9 1964.6h0M896.8 1922.5h0M868.1 1971.6h0M906.6 1916.9h0M874.1 1953.2h0M860 1965h0M895.9 1932.2h0M969.3 1885.3h0M867.9 1963.6h0M942.8 1859.1h0M848.3 1973.5h0M861.6 1958.9h0M845.6 1980.8h0M879.3 1944.3h0M868 1939.4h0M889.5 1937.7h0M866.6 1962.4h0M863.5 1981h0M948.2 1859.7h0M889.2 1935.1h0M895.9 1934h0M857.7 1964.2h0M881.1 1935.5h0M889.9 1954h0M871.3 1937.1h0M1016.7 1814.4h0M921.9 1909.5h0M976.4 1872h0M848.7 1969.4h0M866.2 1953.3h0M853.4 1976.1h0M854.3 1973.3h0M874.7 1940.4h0M917.8 1910h0M854 1963h0M854.8 1981.7h0M900.6 1954h0M908 1941.1h0M851.4 1973.2h0M854.9 1973.1h0M884.5 1946.8h0M857.2 1978h0M855.5 1971.3h0M868.5 1955h0M871.6 1957.1h0M844.3 1980.5h0M860.3 1972.1h0M843.4 1976.9h0M849.5 1974.3h0M846.2 1975.1h0M852.4 1969.4h0M869.8 1952.6h0M848.1 1976.4h0M963.1 1859.1h0M1018.2 1813h0M851.1 1962.6h0M870.4 1955.9h0M851.2 1970.8h0M860.2 1955h0M875.1 1956h0M963.2 1868.1h0M844.6 1976.7h0M875.1 1940.4h0M847.5 1973.6h0M845.5 1985.2h0M871.7 1952.2h0M885.1 1946.7h0M877.9 1942.9h0M861.8 1958.7h0M865.4 1958.1h0M875.1 1944.7h0M877.7 1936.2h0M860.8 1966.3h0M907.4 1923.9h0M852.9 1970.2h0M862.7 1972.1h0M878.5 1932.7h0M902.2 1908.5h0M906.9 1903.1h0M985.8 1836.1h0M976 1865.6h0M875.5 1952.6h0M959.2 1892.6h0M871.1 1949h0M920 1902.5h0M845.8 1972.5h0M873.4 1951.1h0M871.8 1971.7h0M854.2 1983.3h0M856.2 1972.3h0M943.1 1872.7h0M903.7 1909.2h0M878.4 1939.2h0M961 1874.8h0M959.3 1867.2h0M908.5 1911.8h0M876.1 1941.8h0M870.9 1945.7h0M845.4 1981.2h0M899.2 1903.3h0M859.8 1965.8h0M885.8 1947h0M843.7 1978.9h0M847.1 1985.1h0M866.7 1962.5h0M859.3 1977.4h0M861.3 1966h0M875.6 1948.5h0M862.1 1975.9h0M885.1 1946h0M854.2 1972h0M886 1953.4h0M869.2 1975h0M866.7 1954h0M871.7 1953h0M946.5 1860.2h0M854.5 1980.8h0M943.3 1886.7h0M855.2 1972.3h0M846.8 1980.6h0M855.9 1972.6h0M1044.5 1782.7h0M900.8 1917.8h0M994.2 1867.9h0M867.4 1965.3h0M852.4 1977.5h0M845.1 1974.6h0M852.6 1977.3h0M992.6 1828.3h0M983.5 1830.7h0M844.6 1982.3h0M846.5 1974.3h0M845.7 1977h0M853.8 1974.1h0M940.1 1890h0M880.5 1935.6h0M898.6 1915.5h0M844.1 1976.4h0M879.2 1936.1h0M848.9 1976.5h0M903.3 1908.2h0M867.6 1949.1h0M852.1 1974.5h0M852.3 1976.9h0M853.6 1970.6h0M876.4 1950.2h0M900.7 1946.7h0M1230.5 1610.1h0M1211 1615.6h0M1220.2 1614.9h0M1204.8 1622.6h0M1215.8 1633.6h0M1158.8 1646.9h0M1168.8 1656.1h0M1176.1 1653.1h0M1182.7 1650.2h0M1228.3 1659h0M1158.8 1669.7h0M1128.3 1681.1h0M1112.9 1689.9h0M1154.8 1683.6h0M1170.6 1695h0M1136.4 1700.6h0M1066.5 1708.6h0M1107.4 1709h0M1121.7 1710.1h0M1161.4 1709h0M1166.2 1714.5h0M1096 1724.1h0M1111.8 1721.1h0M1121 1725.9h0M1131.2 1728.5h0M1102.6 1732.9h0M1048.2 1736.2h0M1041.9 1739.5h0M1038.2 1743.9h0M1011.8 1751.7h0M1086 1751.7h0M1035.3 1757.2h0M1081.2 1760.9h0M1046.7 1767.1h0M1061 1762.3h0M1083.5 1770.8h0M1154.8 1755h0M1122.8 1769.3h0M1062.9 1783.3h0M1082.4 1780h0M1078.7 1786.2h0M1030.1 1781.1h0M1034.6 1782.9h0M1047.4 1788.1h0M1067.6 1801.3h0M1054 1806.4h0M1059.6 1810.5h0" stroke="#828282" stroke-width="4.1" stroke-linecap="round" fill="none" />
<line x1="831.3" y1="1997.3" x2="1339" y2="1493.9" stroke-width="2.5" stroke="#000" />
<path d="M831.3 1871.5L1212.1 1493.9" stroke="#000" stroke-width="1.75" fill="none" stroke-dasharray="51.5 27" clip-path="url(#clGC)"/>
<path d="M831.3 2123.2L1339 1619.8" stroke="#000" stroke-width="1.75" fill="none" stroke-dasharray="51.5 27" stroke-dashoffset="11" clip-path="url(#clGC)"/>
<clipPath id="clGC"><rect x="831.3" y="1493.9" width="507.7" height="503.4"/></clipPath>
<rect x="831.3" y="1493.9" width="507.7" height="503.4" fill="none" stroke="#000" stroke-width="1.7"/>
<path d="M831.3 1997.3h-7.5M831.3 1997.3v6M831.3 1934.4h-5M831.3 1871.5h-7.5M958.2 1997.3v6M831.3 1808.5h-5M831.3 1745.6h-7.5M1085.2 1997.3v6M831.3 1682.7h-5M831.3 1619.8h-7.5M1212.1 1997.3v6M831.3 1556.8h-5M831.3 1493.9h-7.5M1339 1997.3v6" stroke="#000" stroke-width="1.6" fill="none"/>
<text transform="translate(816.9,2012.2)" font-size="28.6" text-anchor="end">0.0</text>
<text transform="translate(816.9,1878.4)" font-size="28.6" text-anchor="end">1.0</text>
<text transform="translate(816.9,1754.3)" font-size="28.6" text-anchor="end">2.0</text>
<text transform="translate(816.9,1631.2)" font-size="28.6" text-anchor="end">3.0</text>
<text transform="translate(816.9,1506.6)" font-size="28.6" text-anchor="end">4.0</text>
<text transform="translate(842.6,2033.6)" font-size="28.6" text-anchor="middle">0.0</text>
<text transform="translate(961.8,2033.6)" font-size="28.6" text-anchor="middle">1.0</text>
<text transform="translate(1087.9,2033.6)" font-size="28.6" text-anchor="middle">2.0</text>
<text transform="translate(1223.9,2033.6)" font-size="28.6" text-anchor="middle">3.0</text>
<text transform="translate(1344.1,2033.6)" font-size="28.6" text-anchor="middle">4.0</text>
<text transform="translate(1063.2,1480.3) scale(1,1.04)" font-size="34.2" text-anchor="middle">GC</text>
<text transform="translate(860.7,1544.7) scale(1,1.04)" font-size="34.4">r = 0.989</text>
<text transform="translate(860.7,1587) scale(1,1.04)" font-size="34.4">p = 0.000</text>
<text transform="translate(96.2,1120.2) rotate(-90) scale(1,1.04)" font-size="49.5">Male</text>
<text transform="translate(96.2,1794.6) rotate(-90) scale(1,1.04)" font-size="49.5">Male</text>
<text transform="translate(335.6,2090)" font-size="50">Female</text>
<text transform="translate(987.7,2090)" font-size="50">Female</text>
<text transform="translate(1,789) scale(1.24,1)" font-size="62" style="stroke-width:3.2px" stroke-linejoin="miter" stroke-miterlimit="3">c</text>
</g>
<g id="pd">
<rect x="1662.7" y="806.8" width="277.6" height="509.3" fill="#fbfdff"/>
<rect x="1662.7" y="806.8" width="43.6" height="38.9" fill="#0c56a0"/>
<rect x="1709.5" y="806.8" width="43.6" height="38.9" fill="#f7fbff"/>
<rect x="1756.3" y="806.8" width="43.6" height="38.9" fill="#f7fbff"/>
<rect x="1803.1" y="806.8" width="43.6" height="38.9" fill="#f7fbff"/>
<rect x="1849.9" y="806.8" width="43.6" height="38.9" fill="#f7fbff"/>
<rect x="1896.7" y="806.8" width="43.6" height="38.9" fill="#e3eef9"/>
<text transform="translate(1634.8,841.1) scale(1,0.98)" font-size="33.3" style="font-style:italic" text-anchor="end">NPAS4</text>
<rect x="1662.7" y="849.6" width="43.6" height="38.9" fill="#083877"/>
<rect x="1709.5" y="849.6" width="43.6" height="38.9" fill="#f7fbff"/>
<rect x="1756.3" y="849.6" width="43.6" height="38.9" fill="#f7fbff"/>
<rect x="1803.1" y="849.6" width="43.6" height="38.9" fill="#f7fbff"/>
<rect x="1849.9" y="849.6" width="43.6" height="38.9" fill="#f7fbff"/>
<rect x="1896.7" y="849.6" width="43.6" height="38.9" fill="#f7fbff"/>
<text transform="translate(1634.8,883.9) scale(1,0.98)" font-size="33.3" style="font-style:italic" text-anchor="end">WLS</text>
<rect x="1662.7" y="892.3" width="43.6" height="38.9" fill="#f7fbff"/>
<rect x="1709.5" y="892.3" width="43.6" height="38.9" fill="#08509a"/>
<rect x="1756.3" y="892.3" width="43.6" height="38.9" fill="#f7fbff"/>
<rect x="1803.1" y="892.3" width="43.6" height="38.9" fill="#f7fbff"/>
<rect x="1849.9" y="892.3" width="43.6" height="38.9" fill="#f7fbff"/>
<rect x="1896.7" y="892.3" width="43.6" height="38.9" fill="#f7fbff"/>
<text transform="translate(1634.8,926.7) scale(1,0.98)" font-size="33.3" style="font-style:italic" text-anchor="end">ATF4</text>
<rect x="1662.7" y="935.1" width="43.6" height="38.9" fill="#f7fbff"/>
<rect x="1709.5" y="935.1" width="43.6" height="38.9" fill="#09529d"/>
<rect x="1756.3" y="935.1" width="43.6" height="38.9" fill="#f7fbff"/>
<rect x="1803.1" y="935.1" width="43.6" height="38.9" fill="#f7fbff"/>
<rect x="1849.9" y="935.1" width="43.6" height="38.9" fill="#f7fbff"/>
<rect x="1896.7" y="935.1" width="43.6" height="38.9" fill="#f7fbff"/>
<text transform="translate(1634.8,969.4) scale(1,0.98)" font-size="33.3" style="font-style:italic" text-anchor="end">CD9</text>
<rect x="1662.7" y="977.8" width="43.6" height="38.9" fill="#f7fbff"/>
<rect x="1709.5" y="977.8" width="43.6" height="38.9" fill="#f7fbff"/>
<rect x="1756.3" y="977.8" width="43.6" height="38.9" fill="#0e59a2"/>
<rect x="1803.1" y="977.8" width="43.6" height="38.9" fill="#f7fbff"/>
<rect x="1849.9" y="977.8" width="43.6" height="38.9" fill="#f7fbff"/>
<rect x="1896.7" y="977.8" width="43.6" height="38.9" fill="#f7fbff"/>
<text transform="translate(1634.8,1012.2) scale(1,0.98)" font-size="33.3" style="font-style:italic" text-anchor="end">STMN4</text>
<rect x="1662.7" y="1020.6" width="43.6" height="38.9" fill="#f7fbff"/>
<rect x="1709.5" y="1020.6" width="43.6" height="38.9" fill="#f7fbff"/>
<rect x="1756.3" y="1020.6" width="43.6" height="38.9" fill="#083877"/>
<rect x="1803.1" y="1020.6" width="43.6" height="38.9" fill="#f7fbff"/>
<rect x="1849.9" y="1020.6" width="43.6" height="38.9" fill="#f7fbff"/>
<rect x="1896.7" y="1020.6" width="43.6" height="38.9" fill="#f7fbff"/>
<text transform="translate(1634.8,1055) scale(1,0.98)" font-size="33.3" style="font-style:italic" text-anchor="end">FAM69C</text>
<rect x="1662.7" y="1063.4" width="43.6" height="38.9" fill="#f7fbff"/>
<rect x="1709.5" y="1063.4" width="43.6" height="38.9" fill="#f7fbff"/>
<rect x="1756.3" y="1063.4" width="43.6" height="38.9" fill="#f7fbff"/>
<rect x="1803.1" y="1063.4" width="43.6" height="38.9" fill="#0a549e"/>
<rect x="1849.9" y="1063.4" width="43.6" height="38.9" fill="#f7fbff"/>
<rect x="1896.7" y="1063.4" width="43.6" height="38.9" fill="#f7fbff"/>
<text transform="translate(1634.8,1097.7) scale(1,0.98)" font-size="33.3" style="font-style:italic" text-anchor="end">CREG1</text>
<rect x="1662.7" y="1106.1" width="43.6" height="38.9" fill="#f7fbff"/>
<rect x="1709.5" y="1106.1" width="43.6" height="38.9" fill="#f7fbff"/>
<rect x="1756.3" y="1106.1" width="43.6" height="38.9" fill="#f7fbff"/>
<rect x="1803.1" y="1106.1" width="43.6" height="38.9" fill="#083d7f"/>
<rect x="1849.9" y="1106.1" width="43.6" height="38.9" fill="#f7fbff"/>
<rect x="1896.7" y="1106.1" width="43.6" height="38.9" fill="#f7fbff"/>
<text transform="translate(1634.8,1140.5) scale(1,0.98)" font-size="33.3" style="font-style:italic" text-anchor="end">GPX4</text>
<rect x="1662.7" y="1148.9" width="43.6" height="38.9" fill="#f7fbff"/>
<rect x="1709.5" y="1148.9" width="43.6" height="38.9" fill="#f7fbff"/>
<rect x="1756.3" y="1148.9" width="43.6" height="38.9" fill="#f7fbff"/>
<rect x="1803.1" y="1148.9" width="43.6" height="38.9" fill="#ddeaf7"/>
<rect x="1849.9" y="1148.9" width="43.6" height="38.9" fill="#125ea6"/>
<rect x="1896.7" y="1148.9" width="43.6" height="38.9" fill="#f7fbff"/>
<text transform="translate(1634.8,1183.2) scale(1,0.98)" font-size="33.3" style="font-style:italic" text-anchor="end">APOE</text>
<rect x="1662.7" y="1191.6" width="43.6" height="38.9" fill="#f7fbff"/>
<rect x="1709.5" y="1191.6" width="43.6" height="38.9" fill="#f7fbff"/>
<rect x="1756.3" y="1191.6" width="43.6" height="38.9" fill="#f7fbff"/>
<rect x="1803.1" y="1191.6" width="43.6" height="38.9" fill="#f7fbff"/>
<rect x="1849.9" y="1191.6" width="43.6" height="38.9" fill="#1460a8"/>
<rect x="1896.7" y="1191.6" width="43.6" height="38.9" fill="#f7fbff"/>
<text transform="translate(1634.8,1226) scale(1,0.98)" font-size="33.3" style="font-style:italic" text-anchor="end">SPARCL1</text>
<rect x="1662.7" y="1234.4" width="43.6" height="38.9" fill="#f7fbff"/>
<rect x="1709.5" y="1234.4" width="43.6" height="38.9" fill="#f7fbff"/>
<rect x="1756.3" y="1234.4" width="43.6" height="38.9" fill="#f7fbff"/>
<rect x="1803.1" y="1234.4" width="43.6" height="38.9" fill="#f7fbff"/>
<rect x="1849.9" y="1234.4" width="43.6" height="38.9" fill="#f7fbff"/>
<rect x="1896.7" y="1234.4" width="43.6" height="38.9" fill="#08458a"/>
<text transform="translate(1634.8,1268.8) scale(1,0.98)" font-size="33.3" style="font-style:italic" text-anchor="end">NDUFV3</text>
<rect x="1662.7" y="1277.2" width="43.6" height="38.9" fill="#f7fbff"/>
<rect x="1709.5" y="1277.2" width="43.6" height="38.9" fill="#f7fbff"/>
<rect x="1756.3" y="1277.2" width="43.6" height="38.9" fill="#f7fbff"/>
<rect x="1803.1" y="1277.2" width="43.6" height="38.9" fill="#f7fbff"/>
<rect x="1849.9" y="1277.2" width="43.6" height="38.9" fill="#f7fbff"/>
<rect x="1896.7" y="1277.2" width="43.6" height="38.9" fill="#1865ac"/>
<text transform="translate(1634.8,1311.5) scale(1,0.98)" font-size="33.3" style="font-style:italic" text-anchor="end">RPLP0</text>
<path d="M1655.6 826.2H1660.9M1655.6 869H1660.9M1655.6 911.8H1660.9M1655.6 954.5H1660.9M1655.6 997.3H1660.9M1655.6 1040H1660.9M1655.6 1082.8H1660.9M1655.6 1125.6H1660.9M1655.6 1168.3H1660.9M1655.6 1211.1H1660.9M1655.6 1253.8H1660.9M1655.6 1296.6H1660.9M1684.4 1317.1V1323.5M1731.2 1317.1V1323.5M1778.3 1317.1V1323.5M1825.1 1317.1V1323.5M1872.2 1317.1V1323.5M1918.6 1317.1V1323.5" stroke="#000" stroke-width="1.4" fill="none"/>
<text transform="translate(1693.3,1337.8) rotate(-90) scale(1,1.04)" font-size="32" text-anchor="end">RGL</text>
<text transform="translate(1739.4,1337.8) rotate(-90) scale(1,1.04)" font-size="32" text-anchor="end">Astro</text>
<text transform="translate(1785.3,1337.8) rotate(-90) scale(1,1.04)" font-size="32" text-anchor="end">IPC_1</text>
<text transform="translate(1831.4,1337.8) rotate(-90) scale(1,1.04)" font-size="32" text-anchor="end">IPC_2</text>
<text transform="translate(1878.5,1337.8) rotate(-90) scale(1,1.04)" font-size="32" text-anchor="end">NB</text>
<text transform="translate(1925.6,1337.8) rotate(-90) scale(1,1.04)" font-size="32" text-anchor="end">GC</text>
<linearGradient id="gb" x1="0" y1="1" x2="0" y2="0"><stop offset="0%" stop-color="#f7fbff"/><stop offset="12.5%" stop-color="#deebf7"/><stop offset="25%" stop-color="#c6dbef"/><stop offset="37.5%" stop-color="#9ecae1"/><stop offset="50%" stop-color="#6baed6"/><stop offset="62.5%" stop-color="#4292c6"/><stop offset="75%" stop-color="#2171b5"/><stop offset="87.5%" stop-color="#08519c"/><stop offset="100%" stop-color="#08306b"/></linearGradient>
<rect x="1963.8" y="1194.6" width="18.2" height="124.7" fill="url(#gb)" stroke="#000" stroke-width="1.3"/>
<text transform="translate(1954,1159.6)" font-size="20.7">Normalized</text>
<text transform="translate(2009.7,1184.4)" font-size="20.7" text-anchor="middle">FC</text>
<text transform="translate(1988,1216.9) scale(1,0.97)" font-size="29.2" style="font-weight:normal;stroke-width:.25px">2.0</text>
<text transform="translate(1988,1318.1) scale(1,0.97)" font-size="29.2" style="font-weight:normal;stroke-width:.25px">0.0</text>
<rect x="1655.7" y="1483.2" width="44" height="39.6" fill="#b31218"/>
<rect x="1703.2" y="1483.2" width="44" height="39.6" fill="#fff5f0"/>
<rect x="1750.8" y="1483.2" width="44" height="39.6" fill="#fff5f0"/>
<rect x="1798.3" y="1483.2" width="44" height="39.6" fill="#fff5f0"/>
<rect x="1845.9" y="1483.2" width="44" height="39.6" fill="#fff5f0"/>
<rect x="1893.5" y="1483.2" width="44" height="39.6" fill="#fee1d3"/>
<text transform="translate(1632.1,1510.4) scale(1,0.98)" font-size="34" style="font-style:italic" text-anchor="end">PAM</text>
<rect x="1655.7" y="1526.7" width="44" height="39.6" fill="#aa1016"/>
<rect x="1703.2" y="1526.7" width="44" height="39.6" fill="#fff5f0"/>
<rect x="1750.8" y="1526.7" width="44" height="39.6" fill="#fff5f0"/>
<rect x="1798.3" y="1526.7" width="44" height="39.6" fill="#fff5f0"/>
<rect x="1845.9" y="1526.7" width="44" height="39.6" fill="#fff5f0"/>
<rect x="1893.5" y="1526.7" width="44" height="39.6" fill="#fff5f0"/>
<text transform="translate(1632.1,1553.9) scale(1,0.98)" font-size="34" style="font-style:italic" text-anchor="end">SPP1</text>
<rect x="1655.7" y="1570.1" width="44" height="39.6" fill="#fff5f0"/>
<rect x="1703.2" y="1570.1" width="44" height="39.6" fill="#b31218"/>
<rect x="1750.8" y="1570.1" width="44" height="39.6" fill="#fff5f0"/>
<rect x="1798.3" y="1570.1" width="44" height="39.6" fill="#fff5f0"/>
<rect x="1845.9" y="1570.1" width="44" height="39.6" fill="#fff5f0"/>
<rect x="1893.5" y="1570.1" width="44" height="39.6" fill="#fff5f0"/>
<text transform="translate(1632.1,1597.3) scale(1,0.98)" font-size="34" style="font-style:italic" text-anchor="end">MYO10</text>
<rect x="1655.7" y="1613.6" width="44" height="39.6" fill="#fff5f0"/>
<rect x="1703.2" y="1613.6" width="44" height="39.6" fill="#67000d"/>
<rect x="1750.8" y="1613.6" width="44" height="39.6" fill="#fff5f0"/>
<rect x="1798.3" y="1613.6" width="44" height="39.6" fill="#fff5f0"/>
<rect x="1845.9" y="1613.6" width="44" height="39.6" fill="#fff5f0"/>
<rect x="1893.5" y="1613.6" width="44" height="39.6" fill="#fff5f0"/>
<text transform="translate(1632.1,1640.8) scale(1,0.98)" font-size="34" style="font-style:italic" text-anchor="end">ATP1B2</text>
<rect x="1655.7" y="1657" width="44" height="39.6" fill="#fff5f0"/>
<rect x="1703.2" y="1657" width="44" height="39.6" fill="#fff5f0"/>
<rect x="1750.8" y="1657" width="44" height="39.6" fill="#7b0510"/>
<rect x="1798.3" y="1657" width="44" height="39.6" fill="#fff5f0"/>
<rect x="1845.9" y="1657" width="44" height="39.6" fill="#fff5f0"/>
<rect x="1893.5" y="1657" width="44" height="39.6" fill="#fff5f0"/>
<text transform="translate(1632.1,1684.2) scale(1,0.98)" font-size="34" style="font-style:italic" text-anchor="end">ID1</text>
<rect x="1655.7" y="1700.5" width="44" height="39.6" fill="#fff5f0"/>
<rect x="1703.2" y="1700.5" width="44" height="39.6" fill="#fff5f0"/>
<rect x="1750.8" y="1700.5" width="44" height="39.6" fill="#6c010e"/>
<rect x="1798.3" y="1700.5" width="44" height="39.6" fill="#fff5f0"/>
<rect x="1845.9" y="1700.5" width="44" height="39.6" fill="#fff5f0"/>
<rect x="1893.5" y="1700.5" width="44" height="39.6" fill="#fff5f0"/>
<text transform="translate(1632.1,1727.7) scale(1,0.98)" font-size="34" style="font-style:italic" text-anchor="end">TUBB6</text>
<rect x="1655.7" y="1743.9" width="44" height="39.6" fill="#fff5f0"/>
<rect x="1703.2" y="1743.9" width="44" height="39.6" fill="#fff5f0"/>
<rect x="1750.8" y="1743.9" width="44" height="39.6" fill="#fff5f0"/>
<rect x="1798.3" y="1743.9" width="44" height="39.6" fill="#67000d"/>
<rect x="1845.9" y="1743.9" width="44" height="39.6" fill="#fff5f0"/>
<rect x="1893.5" y="1743.9" width="44" height="39.6" fill="#fff5f0"/>
<text transform="translate(1632.1,1771.1) scale(1,0.98)" font-size="34" style="font-style:italic" text-anchor="end">VAMP5</text>
<rect x="1655.7" y="1787.4" width="44" height="39.6" fill="#fff5f0"/>
<rect x="1703.2" y="1787.4" width="44" height="39.6" fill="#fff5f0"/>
<rect x="1750.8" y="1787.4" width="44" height="39.6" fill="#fff5f0"/>
<rect x="1798.3" y="1787.4" width="44" height="39.6" fill="#850711"/>
<rect x="1845.9" y="1787.4" width="44" height="39.6" fill="#fff5f0"/>
<rect x="1893.5" y="1787.4" width="44" height="39.6" fill="#fff5f0"/>
<text transform="translate(1632.1,1814.6) scale(1,0.98)" font-size="34" style="font-style:italic" text-anchor="end">SNRPG</text>
<rect x="1655.7" y="1830.8" width="44" height="39.6" fill="#fff5f0"/>
<rect x="1703.2" y="1830.8" width="44" height="39.6" fill="#fff5f0"/>
<rect x="1750.8" y="1830.8" width="44" height="39.6" fill="#fff5f0"/>
<rect x="1798.3" y="1830.8" width="44" height="39.6" fill="#fff5f0"/>
<rect x="1845.9" y="1830.8" width="44" height="39.6" fill="#b91419"/>
<rect x="1893.5" y="1830.8" width="44" height="39.6" fill="#fff5f0"/>
<text transform="translate(1632.1,1858) scale(1,0.98)" font-size="34" style="font-style:italic" text-anchor="end">PIK3R1</text>
<rect x="1655.7" y="1874.2" width="44" height="39.6" fill="#fff5f0"/>
<rect x="1703.2" y="1874.2" width="44" height="39.6" fill="#fff5f0"/>
<rect x="1750.8" y="1874.2" width="44" height="39.6" fill="#fff5f0"/>
<rect x="1798.3" y="1874.2" width="44" height="39.6" fill="#fff5f0"/>
<rect x="1845.9" y="1874.2" width="44" height="39.6" fill="#67000d"/>
<rect x="1893.5" y="1874.2" width="44" height="39.6" fill="#fff5f0"/>
<text transform="translate(1632.1,1901.5) scale(1,0.98)" font-size="34" style="font-style:italic" text-anchor="end">SOX4</text>
<rect x="1655.7" y="1917.7" width="44" height="39.6" fill="#fff5f0"/>
<rect x="1703.2" y="1917.7" width="44" height="39.6" fill="#fff5f0"/>
<rect x="1750.8" y="1917.7" width="44" height="39.6" fill="#fff5f0"/>
<rect x="1798.3" y="1917.7" width="44" height="39.6" fill="#fff5f0"/>
<rect x="1845.9" y="1917.7" width="44" height="39.6" fill="#fff5f0"/>
<rect x="1893.5" y="1917.7" width="44" height="39.6" fill="#b31218"/>
<text transform="translate(1632.1,1944.9) scale(1,0.98)" font-size="34" style="font-style:italic" text-anchor="end">STRN4</text>
<rect x="1655.7" y="1961.2" width="44" height="39.6" fill="#fff5f0"/>
<rect x="1703.2" y="1961.2" width="44" height="39.6" fill="#fff5f0"/>
<rect x="1750.8" y="1961.2" width="44" height="39.6" fill="#fff5f0"/>
<rect x="1798.3" y="1961.2" width="44" height="39.6" fill="#fff5f0"/>
<rect x="1845.9" y="1961.2" width="44" height="39.6" fill="#fff5f0"/>
<rect x="1893.5" y="1961.2" width="44" height="39.6" fill="#eb372a"/>
<text transform="translate(1632.1,1988.4) scale(1,0.98)" font-size="34" style="font-style:italic" text-anchor="end">MADD</text>
<path d="M1648.4 1503H1654.1M1648.4 1546.5H1654.1M1648.4 1589.9H1654.1M1648.4 1633.4H1654.1M1648.4 1676.8H1654.1M1648.4 1720.2H1654.1M1648.4 1763.7H1654.1M1648.4 1807.2H1654.1M1648.4 1850.6H1654.1M1648.4 1894H1654.1M1648.4 1937.5H1654.1M1648.4 1981H1654.1M1678 2002.8V2008.2M1725.4 2002.8V2008.2M1773.2 2002.8V2008.2M1820.6 2002.8V2008.2M1868 2002.8V2008.2M1915.4 2002.8V2008.2" stroke="#000" stroke-width="1.4" fill="none"/>
<text transform="translate(1689.2,2024.2) rotate(-90) scale(1,1.04)" font-size="32" text-anchor="end">RGL</text>
<text transform="translate(1736.3,2024.2) rotate(-90) scale(1,1.04)" font-size="32" text-anchor="end">Astro</text>
<text transform="translate(1784.6,2024.2) rotate(-90) scale(1,1.04)" font-size="32" text-anchor="end">IPC_1</text>
<text transform="translate(1831.7,2024.2) rotate(-90) scale(1,1.04)" font-size="32" text-anchor="end">IPC_2</text>
<text transform="translate(1879.5,2024.2) rotate(-90) scale(1,1.04)" font-size="32" text-anchor="end">NB</text>
<text transform="translate(1926.9,2024.2) rotate(-90) scale(1,1.04)" font-size="32" text-anchor="end">GC</text>
<linearGradient id="gr" x1="0" y1="0" x2="0" y2="1"><stop offset="0%" stop-color="#fff5f0"/><stop offset="12.5%" stop-color="#fee0d2"/><stop offset="25%" stop-color="#fcbba1"/><stop offset="37.5%" stop-color="#fc9272"/><stop offset="50%" stop-color="#fb6a4a"/><stop offset="62.5%" stop-color="#ef3b2c"/><stop offset="75%" stop-color="#cb181d"/><stop offset="87.5%" stop-color="#a50f15"/><stop offset="100%" stop-color="#67000d"/></linearGradient>
<rect x="1962.9" y="1877.1" width="18.1" height="124.8" fill="url(#gr)" stroke="#000" stroke-width="1.3"/>
<text transform="translate(1945.6,1840.2)" font-size="20.7">Normalized</text>
<text transform="translate(2001,1865)" font-size="20.7" text-anchor="middle">FC</text>
<text transform="translate(1991,1895.3) scale(1,0.97)" font-size="29.2" style="font-weight:normal;stroke-width:.25px">-0.6</text>
<text transform="translate(1989,1997.1) scale(1,0.97)" font-size="29.2" style="font-weight:normal;stroke-width:.25px">-2.0</text>
<text transform="translate(1467.6,789.4) scale(1.12,1)" font-size="62" style="stroke-width:3.2px" stroke-linejoin="miter" stroke-miterlimit="3">d</text>
</g>
</svg>
</body></html>
